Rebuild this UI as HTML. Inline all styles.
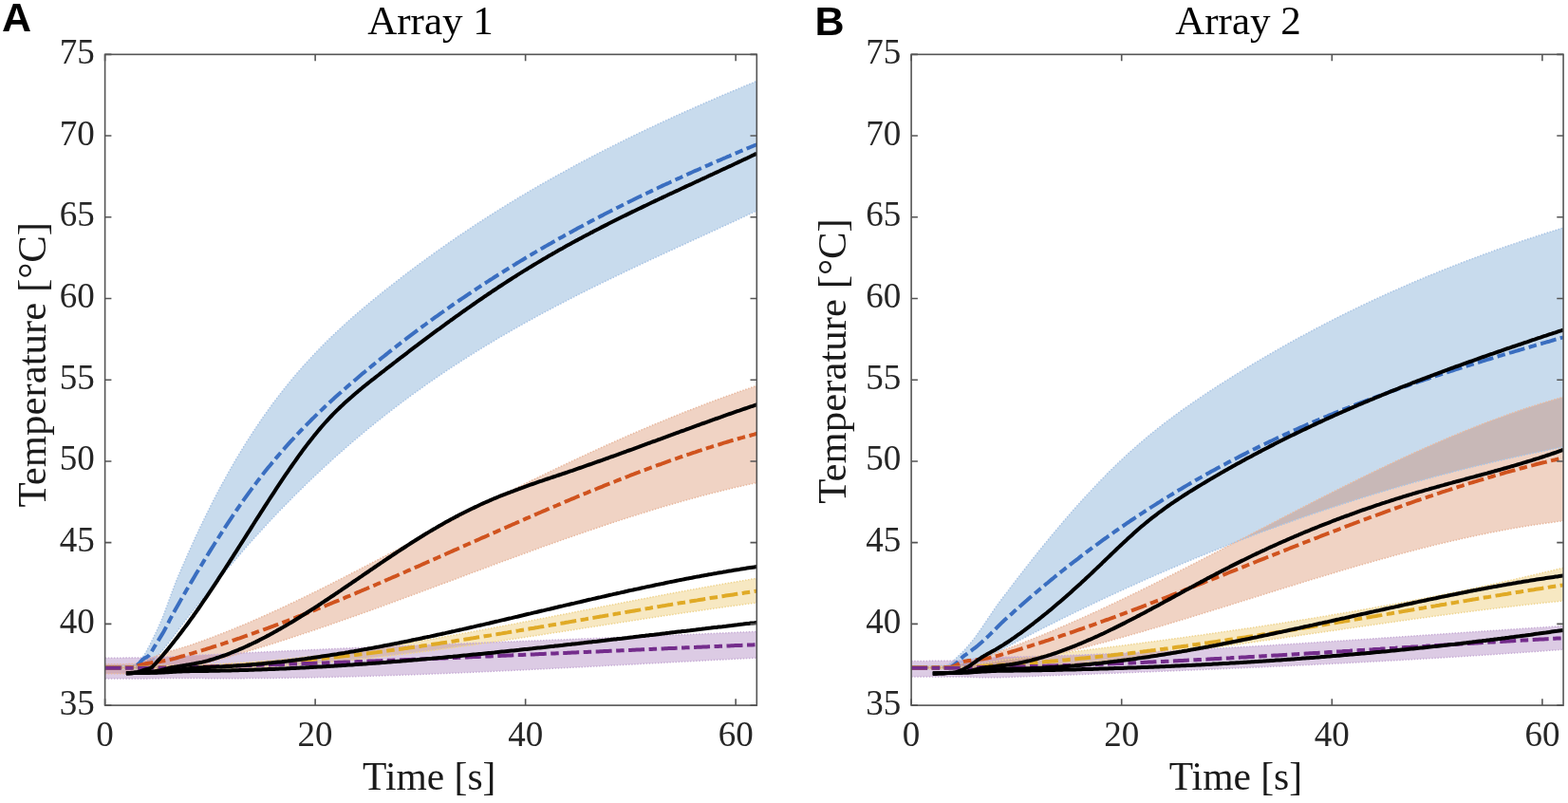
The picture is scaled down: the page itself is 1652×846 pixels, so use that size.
<!DOCTYPE html>
<html><head><meta charset="utf-8"><title>Array 1 / Array 2</title>
<style>
html,body{margin:0;padding:0;background:#fff;width:1652px;height:846px;overflow:hidden}
svg{display:block}
.tl{font-family:"Liberation Serif",serif;font-size:37px;fill:#262626}
.lab{font-family:"Liberation Serif",serif;font-size:41.5px;fill:#1a1a1a}
.ttl{font-family:"Liberation Serif",serif;font-size:43px;fill:#000}
.pl{font-family:"Liberation Sans",Arial,sans-serif;font-size:43px;font-weight:bold;fill:#000}
</style></head><body>
<svg width="1652" height="846" viewBox="0 0 1652 846">
<rect width="1652" height="846" fill="#fff"/>
<clipPath id="cA"><rect x="110.6" y="57.35" width="686.70" height="685.75"/></clipPath>
<g clip-path="url(#cA)">
<path d="M110.6,701.5L112.6,701.5L114.6,701.5L116.6,701.5L118.6,701.5L120.6,701.5L122.6,701.4L124.6,701.4L126.6,701.4L128.6,701.4L130.6,701.3L132.6,701.3L134.6,701.2L136.6,701.2L138.6,700.9L140.6,700.3L142.6,699.5L144.6,698.5L146.6,696.8L148.6,694.4L150.6,691.9L152.6,689.0L154.6,685.6L156.6,681.9L158.6,678.0L160.6,674.0L162.6,669.9L164.6,665.8L166.6,661.5L168.6,657.0L170.6,652.2L172.6,647.3L174.6,642.1L176.6,636.6L178.6,631.1L180.6,625.5L182.6,620.2L184.6,615.0L186.6,610.0L188.6,605.2L190.6,600.6L192.6,596.0L194.6,591.4L196.6,586.8L198.6,582.3L200.6,577.9L202.6,573.4L204.6,569.1L206.6,564.7L208.6,560.5L210.6,556.2L212.6,552.0L214.6,547.9L216.6,543.8L218.6,539.8L220.6,535.8L222.6,531.8L224.6,527.9L226.6,524.0L228.6,520.2L230.6,516.4L232.6,512.6L234.6,508.9L236.6,505.3L238.6,501.7L240.6,498.1L242.6,494.5L244.6,491.0L246.6,487.6L248.6,484.2L250.6,480.8L252.6,477.5L254.6,474.2L256.6,470.9L258.6,467.7L260.6,464.5L262.6,461.4L264.6,458.3L266.6,455.2L268.6,452.2L270.6,449.2L272.6,446.2L274.6,443.3L276.6,440.4L278.6,437.5L280.6,434.7L282.6,431.9L284.6,429.2L286.6,426.4L288.6,423.7L290.6,421.1L292.6,418.4L294.6,415.8L296.6,413.3L298.6,410.7L300.6,408.2L302.6,405.7L304.6,403.3L306.6,400.8L308.6,398.4L310.6,396.1L312.6,393.7L314.6,391.4L316.6,389.1L318.6,386.8L320.6,384.6L322.6,382.4L324.6,380.2L326.6,378.0L328.6,375.8L330.6,373.7L332.6,371.6L334.6,369.5L336.6,367.4L338.6,365.4L340.6,363.4L342.6,361.4L344.6,359.4L346.6,357.4L348.6,355.5L350.6,353.6L352.6,351.7L354.6,349.8L356.6,347.9L358.6,346.0L360.6,344.2L362.6,342.4L364.6,340.5L366.6,338.7L368.6,337.0L370.6,335.2L372.6,333.4L374.6,331.7L376.6,330.0L378.6,328.3L380.6,326.5L382.6,324.9L384.6,323.2L386.6,321.5L388.6,319.8L390.6,318.2L392.6,316.5L394.6,314.9L396.6,313.3L398.6,311.7L400.6,310.0L402.6,308.4L404.6,306.8L406.6,305.2L408.6,303.7L410.6,302.1L412.6,300.5L414.6,298.9L416.6,297.4L418.6,295.8L420.6,294.3L422.6,292.7L424.6,291.2L426.6,289.7L428.6,288.1L430.6,286.6L432.6,285.1L434.6,283.6L436.6,282.1L438.6,280.6L440.6,279.1L442.6,277.6L444.6,276.2L446.6,274.7L448.6,273.2L450.6,271.8L452.6,270.3L454.6,268.9L456.6,267.4L458.6,266.0L460.6,264.6L462.6,263.2L464.6,261.7L466.6,260.3L468.6,258.9L470.6,257.5L472.6,256.1L474.6,254.7L476.6,253.4L478.6,252.0L480.6,250.6L482.6,249.2L484.6,247.9L486.6,246.5L488.6,245.2L490.6,243.8L492.6,242.5L494.6,241.2L496.6,239.8L498.6,238.5L500.6,237.2L502.6,235.9L504.6,234.6L506.6,233.3L508.6,232.0L510.6,230.7L512.6,229.4L514.6,228.1L516.6,226.8L518.6,225.6L520.6,224.3L522.6,223.0L524.6,221.8L526.6,220.5L528.6,219.3L530.6,218.0L532.6,216.8L534.6,215.5L536.6,214.3L538.6,213.1L540.6,211.9L542.6,210.7L544.6,209.5L546.6,208.2L548.6,207.0L550.6,205.9L552.6,204.7L554.6,203.5L556.6,202.3L558.6,201.1L560.6,199.9L562.6,198.8L564.6,197.6L566.6,196.4L568.6,195.3L570.6,194.1L572.6,193.0L574.6,191.9L576.6,190.7L578.6,189.6L580.6,188.5L582.6,187.3L584.6,186.2L586.6,185.1L588.6,184.0L590.6,182.9L592.6,181.8L594.6,180.7L596.6,179.6L598.6,178.5L600.6,177.4L602.6,176.3L604.6,175.2L606.6,174.1L608.6,173.1L610.6,172.0L612.6,170.9L614.6,169.9L616.6,168.8L618.6,167.8L620.6,166.7L622.6,165.7L624.6,164.6L626.6,163.6L628.6,162.5L630.6,161.5L632.6,160.5L634.6,159.4L636.6,158.4L638.6,157.4L640.6,156.4L642.6,155.4L644.6,154.4L646.6,153.4L648.6,152.4L650.6,151.4L652.6,150.4L654.6,149.4L656.6,148.4L658.6,147.4L660.6,146.4L662.6,145.4L664.6,144.5L666.6,143.5L668.6,142.5L670.6,141.6L672.6,140.6L674.6,139.6L676.6,138.7L678.6,137.7L680.6,136.8L682.6,135.8L684.6,134.9L686.6,133.9L688.6,133.0L690.6,132.1L692.6,131.1L694.6,130.2L696.6,129.3L698.6,128.3L700.6,127.4L702.6,126.5L704.6,125.6L706.6,124.7L708.6,123.8L710.6,122.8L712.6,121.9L714.6,121.0L716.6,120.1L718.6,119.2L720.6,118.3L722.6,117.4L724.6,116.5L726.6,115.6L728.6,114.8L730.6,113.9L732.6,113.0L734.6,112.1L736.6,111.2L738.6,110.3L740.6,109.5L742.6,108.6L744.6,107.7L746.6,106.9L748.6,106.0L750.6,105.1L752.6,104.3L754.6,103.4L756.6,102.5L758.6,101.7L760.6,100.8L762.6,100.0L764.6,99.1L766.6,98.3L768.6,97.4L770.6,96.6L772.6,95.7L774.6,94.9L776.6,94.1L778.6,93.2L780.6,92.4L782.6,91.6L784.6,90.7L786.6,89.9L788.6,89.1L790.6,88.2L792.6,87.4L794.6,86.6L796.6,85.7L797.3,85.5L797.3,221.9L796.6,222.2L794.6,223.2L792.6,224.1L790.6,225.1L788.6,226.0L786.6,226.9L784.6,227.9L782.6,228.8L780.6,229.7L778.6,230.7L776.6,231.6L774.6,232.5L772.6,233.5L770.6,234.4L768.6,235.3L766.6,236.2L764.6,237.2L762.6,238.1L760.6,239.0L758.6,239.9L756.6,240.8L754.6,241.8L752.6,242.7L750.6,243.6L748.6,244.5L746.6,245.4L744.6,246.4L742.6,247.3L740.6,248.2L738.6,249.1L736.6,250.0L734.6,250.9L732.6,251.9L730.6,252.8L728.6,253.7L726.6,254.6L724.6,255.5L722.6,256.5L720.6,257.4L718.6,258.3L716.6,259.2L714.6,260.1L712.6,261.1L710.6,262.0L708.6,262.9L706.6,263.8L704.6,264.7L702.6,265.7L700.6,266.6L698.6,267.5L696.6,268.4L694.6,269.4L692.6,270.3L690.6,271.2L688.6,272.1L686.6,273.1L684.6,274.0L682.6,274.9L680.6,275.9L678.6,276.8L676.6,277.7L674.6,278.7L672.6,279.6L670.6,280.6L668.6,281.5L666.6,282.5L664.6,283.4L662.6,284.3L660.6,285.3L658.6,286.2L656.6,287.2L654.6,288.2L652.6,289.1L650.6,290.1L648.6,291.0L646.6,292.0L644.6,293.0L642.6,293.9L640.6,294.9L638.6,295.9L636.6,296.8L634.6,297.8L632.6,298.8L630.6,299.8L628.6,300.8L626.6,301.7L624.6,302.7L622.6,303.7L620.6,304.7L618.6,305.7L616.6,306.7L614.6,307.7L612.6,308.7L610.6,309.7L608.6,310.7L606.6,311.7L604.6,312.8L602.6,313.8L600.6,314.8L598.6,315.8L596.6,316.9L594.6,317.9L592.6,318.9L590.6,320.0L588.6,321.0L586.6,322.1L584.6,323.1L582.6,324.2L580.6,325.2L578.6,326.3L576.6,327.3L574.6,328.4L572.6,329.5L570.6,330.6L568.6,331.6L566.6,332.7L564.6,333.8L562.6,334.9L560.6,336.0L558.6,337.1L556.6,338.2L554.6,339.3L552.6,340.4L550.6,341.6L548.6,342.7L546.6,343.8L544.6,344.9L542.6,346.1L540.6,347.2L538.6,348.4L536.6,349.5L534.6,350.7L532.6,351.8L530.6,353.0L528.6,354.2L526.6,355.3L524.6,356.5L522.6,357.7L520.6,358.9L518.6,360.1L516.6,361.3L514.6,362.5L512.6,363.7L510.6,364.9L508.6,366.1L506.6,367.4L504.6,368.6L502.6,369.8L500.6,371.1L498.6,372.3L496.6,373.6L494.6,374.8L492.6,376.1L490.6,377.4L488.6,378.7L486.6,379.9L484.6,381.2L482.6,382.5L480.6,383.8L478.6,385.1L476.6,386.4L474.6,387.8L472.6,389.1L470.6,390.4L468.6,391.8L466.6,393.1L464.6,394.5L462.6,395.8L460.6,397.2L458.6,398.6L456.6,399.9L454.6,401.3L452.6,402.7L450.6,404.1L448.6,405.5L446.6,406.9L444.6,408.4L442.6,409.8L440.6,411.2L438.6,412.7L436.6,414.1L434.6,415.6L432.6,417.0L430.6,418.5L428.6,420.0L426.6,421.5L424.6,423.0L422.6,424.5L420.6,426.0L418.6,427.5L416.6,429.0L414.6,430.5L412.6,432.1L410.6,433.6L408.6,435.2L406.6,436.7L404.6,438.3L402.6,439.9L400.6,441.5L398.6,443.0L396.6,444.6L394.6,446.3L392.6,447.9L390.6,449.5L388.6,451.1L386.6,452.8L384.6,454.4L382.6,456.1L380.6,457.8L378.6,459.4L376.6,461.1L374.6,462.8L372.6,464.5L370.6,466.2L368.6,467.9L366.6,469.7L364.6,471.4L362.6,473.2L360.6,474.9L358.6,476.7L356.6,478.5L354.6,480.2L352.6,482.0L350.6,483.8L348.6,485.6L346.6,487.5L344.6,489.3L342.6,491.1L340.6,493.0L338.6,494.8L336.6,496.7L334.6,498.6L332.6,500.5L330.6,502.3L328.6,504.3L326.6,506.2L324.6,508.1L322.6,510.0L320.6,512.0L318.6,513.9L316.6,515.9L314.6,517.9L312.6,519.8L310.6,521.8L308.6,523.8L306.6,525.9L304.6,527.9L302.6,529.9L300.6,532.0L298.6,534.0L296.6,536.1L294.6,538.1L292.6,540.2L290.6,542.3L288.6,544.4L286.6,546.6L284.6,548.7L282.6,550.8L280.6,553.0L278.6,555.1L276.6,557.3L274.6,559.5L272.6,561.7L270.6,563.9L268.6,566.1L266.6,568.3L264.6,570.6L262.6,572.8L260.6,575.1L258.6,577.3L256.6,579.6L254.6,581.9L252.6,584.2L250.6,586.5L248.6,588.9L246.6,591.2L244.6,593.5L242.6,595.9L240.6,598.2L238.6,600.6L236.6,603.0L234.6,605.4L232.6,607.8L230.6,610.2L228.6,612.6L226.6,615.0L224.6,617.4L222.6,619.8L220.6,622.3L218.6,624.7L216.6,627.2L214.6,629.6L212.6,632.1L210.6,634.6L208.6,637.0L206.6,639.5L204.6,642.0L202.6,644.5L200.6,647.0L198.6,649.5L196.6,652.0L194.6,654.5L192.6,657.1L190.6,659.8L188.6,662.5L186.6,665.2L184.6,668.0L182.6,670.7L180.6,673.4L178.6,676.0L176.6,678.5L174.6,681.0L172.6,683.4L170.6,685.7L168.6,688.0L166.6,690.2L164.6,692.5L162.6,694.9L160.6,697.4L158.6,699.5L156.6,701.2L154.6,702.1L152.6,702.8L150.6,703.4L148.6,703.9L146.6,704.3L144.6,704.7L142.6,704.9L140.6,705.0L138.6,705.0L136.6,705.0L134.6,705.0L132.6,705.0L130.6,705.0L128.6,705.0L126.6,705.0L124.6,705.0L122.6,705.0L120.6,705.0L118.6,705.0L116.6,705.0L114.6,705.0L112.6,705.0L110.6,705.0Z" fill="rgb(51,122,188)" fill-opacity="0.27"/>
<path d="M110.6,699.8L112.6,699.8L114.6,699.8L116.6,699.8L118.6,699.8L120.6,699.8L122.6,699.8L124.6,699.7L126.6,699.7L128.6,699.7L130.6,699.7L132.6,699.7L134.6,699.6L136.6,699.6L138.6,699.6L140.6,699.5L142.6,699.5L144.6,699.3L146.6,698.8L148.6,698.2L150.6,697.5L152.6,696.7L154.6,695.7L156.6,694.8L158.6,693.7L160.6,692.8L162.6,691.9L164.6,691.1L166.6,690.4L168.6,689.7L170.6,689.0L172.6,688.3L174.6,687.7L176.6,687.1L178.6,686.4L180.6,685.8L182.6,685.2L184.6,684.6L186.6,684.0L188.6,683.4L190.6,682.8L192.6,682.2L194.6,681.6L196.6,681.0L198.6,680.4L200.6,679.7L202.6,679.0L204.6,678.3L206.6,677.6L208.6,676.9L210.6,676.2L212.6,675.5L214.6,674.8L216.6,674.0L218.6,673.3L220.6,672.6L222.6,671.8L224.6,671.1L226.6,670.3L228.6,669.5L230.6,668.8L232.6,668.0L234.6,667.2L236.6,666.4L238.6,665.6L240.6,664.8L242.6,664.0L244.6,663.2L246.6,662.4L248.6,661.6L250.6,660.8L252.6,660.0L254.6,659.1L256.6,658.3L258.6,657.4L260.6,656.6L262.6,655.7L264.6,654.9L266.6,654.0L268.6,653.1L270.6,652.3L272.6,651.4L274.6,650.5L276.6,649.6L278.6,648.7L280.6,647.8L282.6,646.9L284.6,646.0L286.6,645.1L288.6,644.2L290.6,643.3L292.6,642.4L294.6,641.5L296.6,640.5L298.6,639.6L300.6,638.7L302.6,637.7L304.6,636.8L306.6,635.8L308.6,634.9L310.6,633.9L312.6,633.0L314.6,632.0L316.6,631.1L318.6,630.1L320.6,629.1L322.6,628.2L324.6,627.2L326.6,626.2L328.6,625.2L330.6,624.2L332.6,623.3L334.6,622.3L336.6,621.3L338.6,620.3L340.6,619.3L342.6,618.3L344.6,617.3L346.6,616.3L348.6,615.3L350.6,614.3L352.6,613.2L354.6,612.2L356.6,611.2L358.6,610.2L360.6,609.2L362.6,608.2L364.6,607.1L366.6,606.1L368.6,605.1L370.6,604.0L372.6,603.0L374.6,602.0L376.6,601.0L378.6,599.9L380.6,598.9L382.6,597.8L384.6,596.8L386.6,595.8L388.6,594.7L390.6,593.7L392.6,592.6L394.6,591.6L396.6,590.5L398.6,589.5L400.6,588.4L402.6,587.4L404.6,586.3L406.6,585.3L408.6,584.2L410.6,583.2L412.6,582.1L414.6,581.1L416.6,580.0L418.6,579.0L420.6,577.9L422.6,576.9L424.6,575.8L426.6,574.8L428.6,573.7L430.6,572.6L432.6,571.6L434.6,570.5L436.6,569.5L438.6,568.4L440.6,567.4L442.6,566.3L444.6,565.3L446.6,564.2L448.6,563.2L450.6,562.1L452.6,561.1L454.6,560.0L456.6,559.0L458.6,557.9L460.6,556.9L462.6,555.8L464.6,554.8L466.6,553.7L468.6,552.7L470.6,551.6L472.6,550.6L474.6,549.6L476.6,548.5L478.6,547.5L480.6,546.5L482.6,545.4L484.6,544.4L486.6,543.3L488.6,542.3L490.6,541.3L492.6,540.3L494.6,539.2L496.6,538.2L498.6,537.2L500.6,536.1L502.6,535.1L504.6,534.1L506.6,533.1L508.6,532.1L510.6,531.0L512.6,530.0L514.6,529.0L516.6,528.0L518.6,527.0L520.6,526.0L522.6,525.0L524.6,523.9L526.6,522.9L528.6,521.9L530.6,520.9L532.6,519.9L534.6,518.9L536.6,517.9L538.6,516.9L540.6,515.9L542.6,514.9L544.6,513.9L546.6,512.9L548.6,512.0L550.6,511.0L552.6,510.0L554.6,509.0L556.6,508.0L558.6,507.0L560.6,506.0L562.6,505.1L564.6,504.1L566.6,503.1L568.6,502.1L570.6,501.2L572.6,500.2L574.6,499.2L576.6,498.3L578.6,497.3L580.6,496.3L582.6,495.4L584.6,494.4L586.6,493.5L588.6,492.5L590.6,491.6L592.6,490.6L594.6,489.7L596.6,488.7L598.6,487.8L600.6,486.8L602.6,485.9L604.6,484.9L606.6,484.0L608.6,483.1L610.6,482.1L612.6,481.2L614.6,480.3L616.6,479.4L618.6,478.4L620.6,477.5L622.6,476.6L624.6,475.7L626.6,474.8L628.6,473.8L630.6,472.9L632.6,472.0L634.6,471.1L636.6,470.2L638.6,469.3L640.6,468.4L642.6,467.5L644.6,466.6L646.6,465.7L648.6,464.8L650.6,464.0L652.6,463.1L654.6,462.2L656.6,461.3L658.6,460.4L660.6,459.5L662.6,458.7L664.6,457.8L666.6,456.9L668.6,456.1L670.6,455.2L672.6,454.4L674.6,453.5L676.6,452.6L678.6,451.8L680.6,450.9L682.6,450.1L684.6,449.2L686.6,448.4L688.6,447.6L690.6,446.7L692.6,445.9L694.6,445.1L696.6,444.2L698.6,443.4L700.6,442.6L702.6,441.8L704.6,440.9L706.6,440.1L708.6,439.3L710.6,438.5L712.6,437.7L714.6,436.9L716.6,436.1L718.6,435.3L720.6,434.5L722.6,433.7L724.6,432.9L726.6,432.1L728.6,431.4L730.6,430.6L732.6,429.8L734.6,429.0L736.6,428.3L738.6,427.5L740.6,426.7L742.6,426.0L744.6,425.2L746.6,424.5L748.6,423.7L750.6,423.0L752.6,422.2L754.6,421.5L756.6,420.7L758.6,420.0L760.6,419.3L762.6,418.5L764.6,417.8L766.6,417.1L768.6,416.4L770.6,415.7L772.6,414.9L774.6,414.2L776.6,413.5L778.6,412.8L780.6,412.1L782.6,411.4L784.6,410.7L786.6,410.0L788.6,409.4L790.6,408.7L792.6,408.0L794.6,407.3L796.6,406.6L797.3,406.4L797.3,508.5L796.6,508.7L794.6,509.1L792.6,509.5L790.6,510.0L788.6,510.4L786.6,510.8L784.6,511.3L782.6,511.7L780.6,512.2L778.6,512.7L776.6,513.1L774.6,513.6L772.6,514.1L770.6,514.5L768.6,515.0L766.6,515.5L764.6,516.0L762.6,516.5L760.6,517.0L758.6,517.5L756.6,518.0L754.6,518.5L752.6,519.0L750.6,519.5L748.6,520.0L746.6,520.5L744.6,521.0L742.6,521.6L740.6,522.1L738.6,522.6L736.6,523.2L734.6,523.7L732.6,524.2L730.6,524.8L728.6,525.3L726.6,525.9L724.6,526.4L722.6,527.0L720.6,527.6L718.6,528.1L716.6,528.7L714.6,529.3L712.6,529.8L710.6,530.4L708.6,531.0L706.6,531.6L704.6,532.1L702.6,532.7L700.6,533.3L698.6,533.9L696.6,534.5L694.6,535.1L692.6,535.7L690.6,536.3L688.6,536.9L686.6,537.5L684.6,538.1L682.6,538.8L680.6,539.4L678.6,540.0L676.6,540.6L674.6,541.2L672.6,541.9L670.6,542.5L668.6,543.1L666.6,543.8L664.6,544.4L662.6,545.0L660.6,545.7L658.6,546.3L656.6,547.0L654.6,547.6L652.6,548.3L650.6,548.9L648.6,549.6L646.6,550.2L644.6,550.9L642.6,551.5L640.6,552.2L638.6,552.9L636.6,553.5L634.6,554.2L632.6,554.9L630.6,555.6L628.6,556.2L626.6,556.9L624.6,557.6L622.6,558.3L620.6,558.9L618.6,559.6L616.6,560.3L614.6,561.0L612.6,561.7L610.6,562.4L608.6,563.1L606.6,563.8L604.6,564.5L602.6,565.2L600.6,565.9L598.6,566.6L596.6,567.3L594.6,568.0L592.6,568.7L590.6,569.4L588.6,570.1L586.6,570.8L584.6,571.5L582.6,572.2L580.6,572.9L578.6,573.7L576.6,574.4L574.6,575.1L572.6,575.8L570.6,576.5L568.6,577.2L566.6,578.0L564.6,578.7L562.6,579.4L560.6,580.1L558.6,580.9L556.6,581.6L554.6,582.3L552.6,583.0L550.6,583.8L548.6,584.5L546.6,585.2L544.6,586.0L542.6,586.7L540.6,587.4L538.6,588.2L536.6,588.9L534.6,589.7L532.6,590.4L530.6,591.1L528.6,591.9L526.6,592.6L524.6,593.3L522.6,594.1L520.6,594.8L518.6,595.6L516.6,596.3L514.6,597.1L512.6,597.8L510.6,598.5L508.6,599.3L506.6,600.0L504.6,600.8L502.6,601.5L500.6,602.3L498.6,603.0L496.6,603.7L494.6,604.5L492.6,605.2L490.6,606.0L488.6,606.7L486.6,607.5L484.6,608.2L482.6,609.0L480.6,609.7L478.6,610.5L476.6,611.2L474.6,612.0L472.6,612.7L470.6,613.5L468.6,614.2L466.6,614.9L464.6,615.7L462.6,616.4L460.6,617.2L458.6,617.9L456.6,618.7L454.6,619.4L452.6,620.2L450.6,620.9L448.6,621.6L446.6,622.4L444.6,623.1L442.6,623.9L440.6,624.6L438.6,625.4L436.6,626.1L434.6,626.8L432.6,627.6L430.6,628.3L428.6,629.1L426.6,629.8L424.6,630.5L422.6,631.3L420.6,632.0L418.6,632.7L416.6,633.5L414.6,634.2L412.6,634.9L410.6,635.7L408.6,636.4L406.6,637.1L404.6,637.9L402.6,638.6L400.6,639.3L398.6,640.0L396.6,640.8L394.6,641.5L392.6,642.2L390.6,642.9L388.6,643.7L386.6,644.4L384.6,645.1L382.6,645.8L380.6,646.5L378.6,647.2L376.6,648.0L374.6,648.7L372.6,649.4L370.6,650.1L368.6,650.8L366.6,651.5L364.6,652.2L362.6,652.9L360.6,653.6L358.6,654.3L356.6,655.0L354.6,655.7L352.6,656.4L350.6,657.1L348.6,657.8L346.6,658.5L344.6,659.2L342.6,659.9L340.6,660.5L338.6,661.2L336.6,661.9L334.6,662.6L332.6,663.3L330.6,664.0L328.6,664.6L326.6,665.3L324.6,666.0L322.6,666.6L320.6,667.3L318.6,668.0L316.6,668.6L314.6,669.3L312.6,670.0L310.6,670.6L308.6,671.3L306.6,671.9L304.6,672.6L302.6,673.2L300.6,673.9L298.6,674.5L296.6,675.1L294.6,675.8L292.6,676.4L290.6,677.1L288.6,677.7L286.6,678.3L284.6,678.9L282.6,679.6L280.6,680.2L278.6,680.8L276.6,681.4L274.6,682.0L272.6,682.6L270.6,683.3L268.6,683.9L266.6,684.5L264.6,685.1L262.6,685.7L260.6,686.3L258.6,686.8L256.6,687.4L254.6,688.0L252.6,688.6L250.6,689.2L248.6,689.8L246.6,690.3L244.6,690.9L242.6,691.5L240.6,692.0L238.6,692.6L236.6,693.2L234.6,693.7L232.6,694.3L230.6,694.8L228.6,695.4L226.6,695.9L224.6,696.5L222.6,697.0L220.6,697.5L218.6,698.1L216.6,698.6L214.6,699.1L212.6,699.6L210.6,700.2L208.6,700.7L206.6,701.2L204.6,701.7L202.6,702.1L200.6,702.6L198.6,703.0L196.6,703.4L194.6,703.8L192.6,704.2L190.6,704.6L188.6,705.0L186.6,705.3L184.6,705.6L182.6,705.9L180.6,706.2L178.6,706.5L176.6,706.8L174.6,707.0L172.6,707.3L170.6,707.5L168.6,707.8L166.6,708.0L164.6,708.3L162.6,708.6L160.6,708.9L158.6,709.1L156.6,709.3L154.6,709.5L152.6,709.6L150.6,709.7L148.6,709.7L146.6,709.7L144.6,709.7L142.6,709.7L140.6,709.7L138.6,709.8L136.6,709.8L134.6,709.8L132.6,709.8L130.6,709.8L128.6,709.8L126.6,709.8L124.6,709.8L122.6,709.8L120.6,709.8L118.6,709.8L116.6,709.8L114.6,709.8L112.6,709.8L110.6,709.8Z" fill="rgb(199,92,36)" fill-opacity="0.27"/>
<path d="M110.6,702.5L112.6,702.5L114.6,702.5L116.6,702.5L118.6,702.5L120.6,702.5L122.6,702.5L124.6,702.4L126.6,702.4L128.6,702.4L130.6,702.4L132.6,702.4L134.6,702.4L136.6,702.3L138.6,702.3L140.6,702.3L142.6,702.3L144.6,702.2L146.6,702.2L148.6,702.2L150.6,702.1L152.6,702.1L154.6,702.1L156.6,702.0L158.6,701.9L160.6,701.8L162.6,701.7L164.6,701.6L166.6,701.5L168.6,701.4L170.6,701.3L172.6,701.3L174.6,701.2L176.6,701.2L178.6,701.1L180.6,701.0L182.6,701.0L184.6,701.0L186.6,700.9L188.6,700.9L190.6,700.8L192.6,700.8L194.6,700.8L196.6,700.7L198.6,700.7L200.6,700.6L202.6,700.6L204.6,700.5L206.6,700.5L208.6,700.4L210.6,700.4L212.6,700.3L214.6,700.2L216.6,700.1L218.6,700.1L220.6,700.0L222.6,699.9L224.6,699.8L226.6,699.7L228.6,699.7L230.6,699.6L232.6,699.5L234.6,699.4L236.6,699.3L238.6,699.2L240.6,699.0L242.6,698.9L244.6,698.8L246.6,698.7L248.6,698.6L250.6,698.5L252.6,698.3L254.6,698.2L256.6,698.1L258.6,697.9L260.6,697.8L262.6,697.6L264.6,697.5L266.6,697.4L268.6,697.2L270.6,697.1L272.6,696.9L274.6,696.7L276.6,696.6L278.6,696.4L280.6,696.2L282.6,696.1L284.6,695.9L286.6,695.7L288.6,695.6L290.6,695.4L292.6,695.2L294.6,695.0L296.6,694.8L298.6,694.6L300.6,694.4L302.6,694.2L304.6,694.0L306.6,693.8L308.6,693.6L310.6,693.4L312.6,693.2L314.6,693.0L316.6,692.8L318.6,692.6L320.6,692.4L322.6,692.2L324.6,691.9L326.6,691.7L328.6,691.5L330.6,691.2L332.6,691.0L334.6,690.8L336.6,690.5L338.6,690.3L340.6,690.1L342.6,689.8L344.6,689.6L346.6,689.3L348.6,689.1L350.6,688.8L352.6,688.6L354.6,688.3L356.6,688.1L358.6,687.8L360.6,687.5L362.6,687.3L364.6,687.0L366.6,686.7L368.6,686.5L370.6,686.2L372.6,685.9L374.6,685.7L376.6,685.4L378.6,685.1L380.6,684.8L382.6,684.5L384.6,684.2L386.6,684.0L388.6,683.7L390.6,683.4L392.6,683.1L394.6,682.8L396.6,682.5L398.6,682.2L400.6,681.9L402.6,681.6L404.6,681.3L406.6,681.0L408.6,680.7L410.6,680.4L412.6,680.1L414.6,679.7L416.6,679.4L418.6,679.1L420.6,678.8L422.6,678.5L424.6,678.2L426.6,677.8L428.6,677.5L430.6,677.2L432.6,676.9L434.6,676.5L436.6,676.2L438.6,675.9L440.6,675.6L442.6,675.2L444.6,674.9L446.6,674.6L448.6,674.2L450.6,673.9L452.6,673.5L454.6,673.2L456.6,672.9L458.6,672.5L460.6,672.2L462.6,671.8L464.6,671.5L466.6,671.1L468.6,670.8L470.6,670.4L472.6,670.1L474.6,669.7L476.6,669.4L478.6,669.0L480.6,668.7L482.6,668.3L484.6,667.9L486.6,667.6L488.6,667.2L490.6,666.9L492.6,666.5L494.6,666.1L496.6,665.8L498.6,665.4L500.6,665.0L502.6,664.7L504.6,664.3L506.6,663.9L508.6,663.6L510.6,663.2L512.6,662.8L514.6,662.4L516.6,662.1L518.6,661.7L520.6,661.3L522.6,660.9L524.6,660.6L526.6,660.2L528.6,659.8L530.6,659.4L532.6,659.1L534.6,658.7L536.6,658.3L538.6,657.9L540.6,657.5L542.6,657.2L544.6,656.8L546.6,656.4L548.6,656.0L550.6,655.6L552.6,655.2L554.6,654.9L556.6,654.5L558.6,654.1L560.6,653.7L562.6,653.3L564.6,652.9L566.6,652.5L568.6,652.1L570.6,651.8L572.6,651.4L574.6,651.0L576.6,650.6L578.6,650.2L580.6,649.8L582.6,649.4L584.6,649.0L586.6,648.6L588.6,648.2L590.6,647.8L592.6,647.5L594.6,647.1L596.6,646.7L598.6,646.3L600.6,645.9L602.6,645.5L604.6,645.1L606.6,644.7L608.6,644.3L610.6,643.9L612.6,643.5L614.6,643.1L616.6,642.7L618.6,642.4L620.6,642.0L622.6,641.6L624.6,641.2L626.6,640.8L628.6,640.4L630.6,640.0L632.6,639.6L634.6,639.2L636.6,638.8L638.6,638.4L640.6,638.0L642.6,637.6L644.6,637.3L646.6,636.9L648.6,636.5L650.6,636.1L652.6,635.7L654.6,635.3L656.6,634.9L658.6,634.5L660.6,634.1L662.6,633.7L664.6,633.4L666.6,633.0L668.6,632.6L670.6,632.2L672.6,631.8L674.6,631.4L676.6,631.0L678.6,630.7L680.6,630.3L682.6,629.9L684.6,629.5L686.6,629.1L688.6,628.7L690.6,628.4L692.6,628.0L694.6,627.6L696.6,627.2L698.6,626.8L700.6,626.5L702.6,626.1L704.6,625.7L706.6,625.3L708.6,625.0L710.6,624.6L712.6,624.2L714.6,623.8L716.6,623.5L718.6,623.1L720.6,622.7L722.6,622.4L724.6,622.0L726.6,621.6L728.6,621.3L730.6,620.9L732.6,620.5L734.6,620.2L736.6,619.8L738.6,619.4L740.6,619.1L742.6,618.7L744.6,618.4L746.6,618.0L748.6,617.6L750.6,617.3L752.6,616.9L754.6,616.6L756.6,616.2L758.6,615.9L760.6,615.5L762.6,615.2L764.6,614.8L766.6,614.5L768.6,614.1L770.6,613.8L772.6,613.5L774.6,613.1L776.6,612.8L778.6,612.4L780.6,612.1L782.6,611.8L784.6,611.4L786.6,611.1L788.6,610.8L790.6,610.4L792.6,610.1L794.6,609.8L796.6,609.5L797.3,609.3L797.3,634.9L796.6,635.0L794.6,635.3L792.6,635.5L790.6,635.8L788.6,636.1L786.6,636.3L784.6,636.6L782.6,636.9L780.6,637.1L778.6,637.4L776.6,637.7L774.6,637.9L772.6,638.2L770.6,638.5L768.6,638.8L766.6,639.0L764.6,639.3L762.6,639.6L760.6,639.9L758.6,640.2L756.6,640.4L754.6,640.7L752.6,641.0L750.6,641.3L748.6,641.6L746.6,641.9L744.6,642.1L742.6,642.4L740.6,642.7L738.6,643.0L736.6,643.3L734.6,643.6L732.6,643.9L730.6,644.2L728.6,644.4L726.6,644.7L724.6,645.0L722.6,645.3L720.6,645.6L718.6,645.9L716.6,646.2L714.6,646.5L712.6,646.8L710.6,647.1L708.6,647.4L706.6,647.7L704.6,648.0L702.6,648.3L700.6,648.6L698.6,648.9L696.6,649.2L694.6,649.5L692.6,649.8L690.6,650.1L688.6,650.4L686.6,650.7L684.6,651.0L682.6,651.3L680.6,651.6L678.6,651.9L676.6,652.2L674.6,652.6L672.6,652.9L670.6,653.2L668.6,653.5L666.6,653.8L664.6,654.1L662.6,654.4L660.6,654.7L658.6,655.0L656.6,655.3L654.6,655.6L652.6,655.9L650.6,656.3L648.6,656.6L646.6,656.9L644.6,657.2L642.6,657.5L640.6,657.8L638.6,658.1L636.6,658.4L634.6,658.7L632.6,659.0L630.6,659.4L628.6,659.7L626.6,660.0L624.6,660.3L622.6,660.6L620.6,660.9L618.6,661.2L616.6,661.5L614.6,661.8L612.6,662.2L610.6,662.5L608.6,662.8L606.6,663.1L604.6,663.4L602.6,663.7L600.6,664.0L598.6,664.3L596.6,664.6L594.6,665.0L592.6,665.3L590.6,665.6L588.6,665.9L586.6,666.2L584.6,666.5L582.6,666.8L580.6,667.1L578.6,667.4L576.6,667.7L574.6,668.0L572.6,668.3L570.6,668.7L568.6,669.0L566.6,669.3L564.6,669.6L562.6,669.9L560.6,670.2L558.6,670.5L556.6,670.8L554.6,671.1L552.6,671.4L550.6,671.7L548.6,672.0L546.6,672.3L544.6,672.6L542.6,672.9L540.6,673.2L538.6,673.5L536.6,673.8L534.6,674.1L532.6,674.4L530.6,674.7L528.6,675.0L526.6,675.3L524.6,675.6L522.6,675.9L520.6,676.2L518.6,676.5L516.6,676.8L514.6,677.1L512.6,677.4L510.6,677.6L508.6,677.9L506.6,678.2L504.6,678.5L502.6,678.8L500.6,679.1L498.6,679.4L496.6,679.7L494.6,679.9L492.6,680.2L490.6,680.5L488.6,680.8L486.6,681.1L484.6,681.3L482.6,681.6L480.6,681.9L478.6,682.2L476.6,682.5L474.6,682.7L472.6,683.0L470.6,683.3L468.6,683.6L466.6,683.8L464.6,684.1L462.6,684.4L460.6,684.6L458.6,684.9L456.6,685.2L454.6,685.4L452.6,685.7L450.6,686.0L448.6,686.2L446.6,686.5L444.6,686.7L442.6,687.0L440.6,687.2L438.6,687.5L436.6,687.8L434.6,688.0L432.6,688.3L430.6,688.5L428.6,688.8L426.6,689.0L424.6,689.3L422.6,689.5L420.6,689.7L418.6,690.0L416.6,690.2L414.6,690.5L412.6,690.7L410.6,690.9L408.6,691.2L406.6,691.4L404.6,691.6L402.6,691.9L400.6,692.1L398.6,692.3L396.6,692.6L394.6,692.8L392.6,693.0L390.6,693.2L388.6,693.4L386.6,693.7L384.6,693.9L382.6,694.1L380.6,694.3L378.6,694.5L376.6,694.7L374.6,694.9L372.6,695.1L370.6,695.4L368.6,695.6L366.6,695.8L364.6,696.0L362.6,696.2L360.6,696.4L358.6,696.6L356.6,696.7L354.6,696.9L352.6,697.1L350.6,697.3L348.6,697.5L346.6,697.7L344.6,697.9L342.6,698.0L340.6,698.2L338.6,698.4L336.6,698.6L334.6,698.8L332.6,698.9L330.6,699.1L328.6,699.3L326.6,699.4L324.6,699.6L322.6,699.7L320.6,699.9L318.6,700.1L316.6,700.2L314.6,700.4L312.6,700.5L310.6,700.7L308.6,700.8L306.6,701.0L304.6,701.1L302.6,701.2L300.6,701.4L298.6,701.5L296.6,701.7L294.6,701.8L292.6,701.9L290.6,702.0L288.6,702.2L286.6,702.3L284.6,702.4L282.6,702.5L280.6,702.7L278.6,702.8L276.6,702.9L274.6,703.0L272.6,703.1L270.6,703.2L268.6,703.3L266.6,703.4L264.6,703.5L262.6,703.6L260.6,703.7L258.6,703.8L256.6,703.9L254.6,703.9L252.6,704.0L250.6,704.1L248.6,704.2L246.6,704.3L244.6,704.3L242.6,704.4L240.6,704.5L238.6,704.5L236.6,704.6L234.6,704.7L232.6,704.7L230.6,704.8L228.6,704.8L226.6,704.9L224.6,704.9L222.6,705.0L220.6,705.0L218.6,705.0L216.6,705.1L214.6,705.1L212.6,705.1L210.6,705.2L208.6,705.2L206.6,705.2L204.6,705.2L202.6,705.3L200.6,705.3L198.6,705.3L196.6,705.3L194.6,705.3L192.6,705.3L190.6,705.3L188.6,705.2L186.6,705.2L184.6,705.2L182.6,705.2L180.6,705.1L178.6,705.1L176.6,705.1L174.6,705.0L172.6,705.0L170.6,705.0L168.6,704.9L166.6,704.9L164.6,704.8L162.6,704.8L160.6,704.8L158.6,704.7L156.6,704.7L154.6,704.7L152.6,704.7L150.6,704.7L148.6,704.6L146.6,704.6L144.6,704.6L142.6,704.6L140.6,704.6L138.6,704.6L136.6,704.6L134.6,704.6L132.6,704.6L130.6,704.6L128.6,704.6L126.6,704.5L124.6,704.5L122.6,704.5L120.6,704.5L118.6,704.5L116.6,704.5L114.6,704.5L112.6,704.5L110.6,704.5Z" fill="rgb(225,170,29)" fill-opacity="0.27"/>
<path d="M110.6,693.2L112.6,693.2L114.6,693.2L116.6,693.2L118.6,693.2L120.6,693.2L122.6,693.2L124.6,693.2L126.6,693.2L128.6,693.2L130.6,693.1L132.6,693.1L134.6,693.1L136.6,693.1L138.6,693.1L140.6,693.1L142.6,693.1L144.6,693.1L146.6,693.0L148.6,693.0L150.6,693.0L152.6,692.9L154.6,692.9L156.6,692.8L158.6,692.8L160.6,692.7L162.6,692.7L164.6,692.6L166.6,692.5L168.6,692.5L170.6,692.4L172.6,692.3L174.6,692.2L176.6,692.1L178.6,692.0L180.6,691.9L182.6,691.8L184.6,691.7L186.6,691.6L188.6,691.5L190.6,691.4L192.6,691.3L194.6,691.2L196.6,691.1L198.6,691.0L200.6,690.9L202.6,690.8L204.6,690.6L206.6,690.5L208.6,690.4L210.6,690.3L212.6,690.2L214.6,690.1L216.6,690.0L218.6,689.9L220.6,689.8L222.6,689.7L224.6,689.6L226.6,689.5L228.6,689.4L230.6,689.3L232.6,689.2L234.6,689.1L236.6,689.0L238.6,688.9L240.6,688.8L242.6,688.7L244.6,688.6L246.6,688.5L248.6,688.4L250.6,688.3L252.6,688.2L254.6,688.1L256.6,688.0L258.6,687.9L260.6,687.8L262.6,687.7L264.6,687.6L266.6,687.5L268.6,687.4L270.6,687.3L272.6,687.2L274.6,687.1L276.6,687.0L278.6,686.9L280.6,686.8L282.6,686.7L284.6,686.7L286.6,686.6L288.6,686.5L290.6,686.4L292.6,686.3L294.6,686.2L296.6,686.1L298.6,686.0L300.6,685.9L302.6,685.8L304.6,685.7L306.6,685.6L308.6,685.5L310.6,685.4L312.6,685.4L314.6,685.3L316.6,685.2L318.6,685.1L320.6,685.0L322.6,684.9L324.6,684.8L326.6,684.7L328.6,684.6L330.6,684.5L332.6,684.5L334.6,684.4L336.6,684.3L338.6,684.2L340.6,684.1L342.6,684.0L344.6,683.9L346.6,683.8L348.6,683.8L350.6,683.7L352.6,683.6L354.6,683.5L356.6,683.4L358.6,683.3L360.6,683.2L362.6,683.1L364.6,683.1L366.6,683.0L368.6,682.9L370.6,682.8L372.6,682.7L374.6,682.6L376.6,682.5L378.6,682.5L380.6,682.4L382.6,682.3L384.6,682.2L386.6,682.1L388.6,682.0L390.6,682.0L392.6,681.9L394.6,681.8L396.6,681.7L398.6,681.6L400.6,681.5L402.6,681.5L404.6,681.4L406.6,681.3L408.6,681.2L410.6,681.1L412.6,681.0L414.6,681.0L416.6,680.9L418.6,680.8L420.6,680.7L422.6,680.6L424.6,680.6L426.6,680.5L428.6,680.4L430.6,680.3L432.6,680.2L434.6,680.1L436.6,680.1L438.6,680.0L440.6,679.9L442.6,679.8L444.6,679.7L446.6,679.7L448.6,679.6L450.6,679.5L452.6,679.4L454.6,679.3L456.6,679.3L458.6,679.2L460.6,679.1L462.6,679.0L464.6,678.9L466.6,678.9L468.6,678.8L470.6,678.7L472.6,678.6L474.6,678.5L476.6,678.5L478.6,678.4L480.6,678.3L482.6,678.2L484.6,678.1L486.6,678.1L488.6,678.0L490.6,677.9L492.6,677.8L494.6,677.8L496.6,677.7L498.6,677.6L500.6,677.5L502.6,677.4L504.6,677.4L506.6,677.3L508.6,677.2L510.6,677.1L512.6,677.1L514.6,677.0L516.6,676.9L518.6,676.8L520.6,676.7L522.6,676.7L524.6,676.6L526.6,676.5L528.6,676.4L530.6,676.3L532.6,676.3L534.6,676.2L536.6,676.1L538.6,676.0L540.6,676.0L542.6,675.9L544.6,675.8L546.6,675.7L548.6,675.6L550.6,675.6L552.6,675.5L554.6,675.4L556.6,675.3L558.6,675.3L560.6,675.2L562.6,675.1L564.6,675.0L566.6,674.9L568.6,674.9L570.6,674.8L572.6,674.7L574.6,674.6L576.6,674.6L578.6,674.5L580.6,674.4L582.6,674.3L584.6,674.2L586.6,674.2L588.6,674.1L590.6,674.0L592.6,673.9L594.6,673.9L596.6,673.8L598.6,673.7L600.6,673.6L602.6,673.5L604.6,673.5L606.6,673.4L608.6,673.3L610.6,673.2L612.6,673.1L614.6,673.1L616.6,673.0L618.6,672.9L620.6,672.8L622.6,672.8L624.6,672.7L626.6,672.6L628.6,672.5L630.6,672.4L632.6,672.4L634.6,672.3L636.6,672.2L638.6,672.1L640.6,672.0L642.6,672.0L644.6,671.9L646.6,671.8L648.6,671.7L650.6,671.6L652.6,671.6L654.6,671.5L656.6,671.4L658.6,671.3L660.6,671.2L662.6,671.2L664.6,671.1L666.6,671.0L668.6,670.9L670.6,670.8L672.6,670.7L674.6,670.7L676.6,670.6L678.6,670.5L680.6,670.4L682.6,670.3L684.6,670.3L686.6,670.2L688.6,670.1L690.6,670.0L692.6,669.9L694.6,669.8L696.6,669.8L698.6,669.7L700.6,669.6L702.6,669.5L704.6,669.4L706.6,669.3L708.6,669.3L710.6,669.2L712.6,669.1L714.6,669.0L716.6,668.9L718.6,668.8L720.6,668.8L722.6,668.7L724.6,668.6L726.6,668.5L728.6,668.4L730.6,668.3L732.6,668.2L734.6,668.2L736.6,668.1L738.6,668.0L740.6,667.9L742.6,667.8L744.6,667.7L746.6,667.6L748.6,667.6L750.6,667.5L752.6,667.4L754.6,667.3L756.6,667.2L758.6,667.1L760.6,667.0L762.6,666.9L764.6,666.9L766.6,666.8L768.6,666.7L770.6,666.6L772.6,666.5L774.6,666.4L776.6,666.3L778.6,666.2L780.6,666.1L782.6,666.0L784.6,666.0L786.6,665.9L788.6,665.8L790.6,665.7L792.6,665.6L794.6,665.5L796.6,665.4L797.3,665.4L797.3,693.1L796.6,693.1L794.6,693.2L792.6,693.3L790.6,693.4L788.6,693.5L786.6,693.6L784.6,693.7L782.6,693.8L780.6,693.9L778.6,694.0L776.6,694.1L774.6,694.2L772.6,694.3L770.6,694.4L768.6,694.5L766.6,694.6L764.6,694.7L762.6,694.8L760.6,694.9L758.6,695.0L756.6,695.1L754.6,695.2L752.6,695.3L750.6,695.4L748.6,695.5L746.6,695.6L744.6,695.8L742.6,695.9L740.6,696.0L738.6,696.1L736.6,696.2L734.6,696.3L732.6,696.4L730.6,696.5L728.6,696.6L726.6,696.7L724.6,696.8L722.6,696.9L720.6,697.0L718.6,697.1L716.6,697.2L714.6,697.3L712.6,697.4L710.6,697.5L708.6,697.6L706.6,697.7L704.6,697.9L702.6,698.0L700.6,698.1L698.6,698.2L696.6,698.3L694.6,698.4L692.6,698.5L690.6,698.6L688.6,698.7L686.6,698.8L684.6,698.9L682.6,699.0L680.6,699.1L678.6,699.2L676.6,699.3L674.6,699.4L672.6,699.5L670.6,699.7L668.6,699.8L666.6,699.9L664.6,700.0L662.6,700.1L660.6,700.2L658.6,700.3L656.6,700.4L654.6,700.5L652.6,700.6L650.6,700.7L648.6,700.8L646.6,700.9L644.6,701.0L642.6,701.1L640.6,701.2L638.6,701.3L636.6,701.4L634.6,701.5L632.6,701.7L630.6,701.8L628.6,701.9L626.6,702.0L624.6,702.1L622.6,702.2L620.6,702.3L618.6,702.4L616.6,702.5L614.6,702.6L612.6,702.7L610.6,702.8L608.6,702.9L606.6,703.0L604.6,703.1L602.6,703.2L600.6,703.3L598.6,703.4L596.6,703.5L594.6,703.6L592.6,703.7L590.6,703.8L588.6,703.9L586.6,704.0L584.6,704.1L582.6,704.2L580.6,704.3L578.6,704.4L576.6,704.5L574.6,704.6L572.6,704.7L570.6,704.8L568.6,704.9L566.6,705.0L564.6,705.1L562.6,705.2L560.6,705.3L558.6,705.4L556.6,705.5L554.6,705.6L552.6,705.7L550.6,705.8L548.6,705.9L546.6,706.0L544.6,706.1L542.6,706.2L540.6,706.3L538.6,706.4L536.6,706.5L534.6,706.5L532.6,706.6L530.6,706.7L528.6,706.8L526.6,706.9L524.6,707.0L522.6,707.1L520.6,707.2L518.6,707.3L516.6,707.4L514.6,707.5L512.6,707.6L510.6,707.6L508.6,707.7L506.6,707.8L504.6,707.9L502.6,708.0L500.6,708.1L498.6,708.2L496.6,708.3L494.6,708.4L492.6,708.4L490.6,708.5L488.6,708.6L486.6,708.7L484.6,708.8L482.6,708.9L480.6,708.9L478.6,709.0L476.6,709.1L474.6,709.2L472.6,709.3L470.6,709.4L468.6,709.4L466.6,709.5L464.6,709.6L462.6,709.7L460.6,709.8L458.6,709.8L456.6,709.9L454.6,710.0L452.6,710.1L450.6,710.2L448.6,710.2L446.6,710.3L444.6,710.4L442.6,710.5L440.6,710.5L438.6,710.6L436.6,710.7L434.6,710.7L432.6,710.8L430.6,710.9L428.6,711.0L426.6,711.0L424.6,711.1L422.6,711.2L420.6,711.2L418.6,711.3L416.6,711.4L414.6,711.4L412.6,711.5L410.6,711.6L408.6,711.6L406.6,711.7L404.6,711.8L402.6,711.8L400.6,711.9L398.6,712.0L396.6,712.0L394.6,712.1L392.6,712.2L390.6,712.2L388.6,712.3L386.6,712.3L384.6,712.4L382.6,712.4L380.6,712.5L378.6,712.6L376.6,712.6L374.6,712.7L372.6,712.7L370.6,712.8L368.6,712.8L366.6,712.9L364.6,712.9L362.6,713.0L360.6,713.0L358.6,713.1L356.6,713.1L354.6,713.2L352.6,713.2L350.6,713.3L348.6,713.3L346.6,713.4L344.6,713.4L342.6,713.5L340.6,713.5L338.6,713.6L336.6,713.6L334.6,713.6L332.6,713.7L330.6,713.7L328.6,713.8L326.6,713.8L324.6,713.8L322.6,713.9L320.6,713.9L318.6,713.9L316.6,714.0L314.6,714.0L312.6,714.0L310.6,714.1L308.6,714.1L306.6,714.1L304.6,714.2L302.6,714.2L300.6,714.2L298.6,714.3L296.6,714.3L294.6,714.3L292.6,714.3L290.6,714.4L288.6,714.4L286.6,714.4L284.6,714.4L282.6,714.5L280.6,714.5L278.6,714.5L276.6,714.5L274.6,714.5L272.6,714.5L270.6,714.6L268.6,714.6L266.6,714.6L264.6,714.6L262.6,714.6L260.6,714.6L258.6,714.6L256.6,714.7L254.6,714.7L252.6,714.7L250.6,714.7L248.6,714.7L246.6,714.7L244.6,714.7L242.6,714.7L240.6,714.7L238.6,714.7L236.6,714.7L234.6,714.7L232.6,714.7L230.6,714.7L228.6,714.7L226.6,714.7L224.6,714.7L222.6,714.7L220.6,714.7L218.6,714.7L216.6,714.7L214.6,714.6L212.6,714.6L210.6,714.6L208.6,714.6L206.6,714.6L204.6,714.6L202.6,714.6L200.6,714.6L198.6,714.5L196.6,714.5L194.6,714.5L192.6,714.5L190.6,714.5L188.6,714.5L186.6,714.5L184.6,714.5L182.6,714.5L180.6,714.5L178.6,714.5L176.6,714.5L174.6,714.5L172.6,714.6L170.6,714.6L168.6,714.6L166.6,714.7L164.6,714.7L162.6,714.7L160.6,714.8L158.6,714.8L156.6,714.9L154.6,715.0L152.6,715.0L150.6,715.0L148.6,715.0L146.6,715.0L144.6,715.0L142.6,715.0L140.6,715.0L138.6,715.0L136.6,715.0L134.6,715.0L132.6,715.0L130.6,715.0L128.6,715.0L126.6,715.0L124.6,715.0L122.6,715.0L120.6,715.0L118.6,715.0L116.6,715.0L114.6,715.0L112.6,715.0L110.6,715.0Z" fill="rgb(125,62,155)" fill-opacity="0.27"/>
<path d="M110.6,701.5L112.6,701.5L114.6,701.5L116.6,701.5L118.6,701.5L120.6,701.5L122.6,701.4L124.6,701.4L126.6,701.4L128.6,701.4L130.6,701.3L132.6,701.3L134.6,701.2L136.6,701.2L138.6,700.9L140.6,700.3L142.6,699.5L144.6,698.5L146.6,696.8L148.6,694.4L150.6,691.9L152.6,689.0L154.6,685.6L156.6,681.9L158.6,678.0L160.6,674.0L162.6,669.9L164.6,665.8L166.6,661.5L168.6,657.0L170.6,652.2L172.6,647.3L174.6,642.1L176.6,636.6L178.6,631.1L180.6,625.5L182.6,620.2L184.6,615.0L186.6,610.0L188.6,605.2L190.6,600.6L192.6,596.0L194.6,591.4L196.6,586.8L198.6,582.3L200.6,577.9L202.6,573.4L204.6,569.1L206.6,564.7L208.6,560.5L210.6,556.2L212.6,552.0L214.6,547.9L216.6,543.8L218.6,539.8L220.6,535.8L222.6,531.8L224.6,527.9L226.6,524.0L228.6,520.2L230.6,516.4L232.6,512.6L234.6,508.9L236.6,505.3L238.6,501.7L240.6,498.1L242.6,494.5L244.6,491.0L246.6,487.6L248.6,484.2L250.6,480.8L252.6,477.5L254.6,474.2L256.6,470.9L258.6,467.7L260.6,464.5L262.6,461.4L264.6,458.3L266.6,455.2L268.6,452.2L270.6,449.2L272.6,446.2L274.6,443.3L276.6,440.4L278.6,437.5L280.6,434.7L282.6,431.9L284.6,429.2L286.6,426.4L288.6,423.7L290.6,421.1L292.6,418.4L294.6,415.8L296.6,413.3L298.6,410.7L300.6,408.2L302.6,405.7L304.6,403.3L306.6,400.8L308.6,398.4L310.6,396.1L312.6,393.7L314.6,391.4L316.6,389.1L318.6,386.8L320.6,384.6L322.6,382.4L324.6,380.2L326.6,378.0L328.6,375.8L330.6,373.7L332.6,371.6L334.6,369.5L336.6,367.4L338.6,365.4L340.6,363.4L342.6,361.4L344.6,359.4L346.6,357.4L348.6,355.5L350.6,353.6L352.6,351.7L354.6,349.8L356.6,347.9L358.6,346.0L360.6,344.2L362.6,342.4L364.6,340.5L366.6,338.7L368.6,337.0L370.6,335.2L372.6,333.4L374.6,331.7L376.6,330.0L378.6,328.3L380.6,326.5L382.6,324.9L384.6,323.2L386.6,321.5L388.6,319.8L390.6,318.2L392.6,316.5L394.6,314.9L396.6,313.3L398.6,311.7L400.6,310.0L402.6,308.4L404.6,306.8L406.6,305.2L408.6,303.7L410.6,302.1L412.6,300.5L414.6,298.9L416.6,297.4L418.6,295.8L420.6,294.3L422.6,292.7L424.6,291.2L426.6,289.7L428.6,288.1L430.6,286.6L432.6,285.1L434.6,283.6L436.6,282.1L438.6,280.6L440.6,279.1L442.6,277.6L444.6,276.2L446.6,274.7L448.6,273.2L450.6,271.8L452.6,270.3L454.6,268.9L456.6,267.4L458.6,266.0L460.6,264.6L462.6,263.2L464.6,261.7L466.6,260.3L468.6,258.9L470.6,257.5L472.6,256.1L474.6,254.7L476.6,253.4L478.6,252.0L480.6,250.6L482.6,249.2L484.6,247.9L486.6,246.5L488.6,245.2L490.6,243.8L492.6,242.5L494.6,241.2L496.6,239.8L498.6,238.5L500.6,237.2L502.6,235.9L504.6,234.6L506.6,233.3L508.6,232.0L510.6,230.7L512.6,229.4L514.6,228.1L516.6,226.8L518.6,225.6L520.6,224.3L522.6,223.0L524.6,221.8L526.6,220.5L528.6,219.3L530.6,218.0L532.6,216.8L534.6,215.5L536.6,214.3L538.6,213.1L540.6,211.9L542.6,210.7L544.6,209.5L546.6,208.2L548.6,207.0L550.6,205.9L552.6,204.7L554.6,203.5L556.6,202.3L558.6,201.1L560.6,199.9L562.6,198.8L564.6,197.6L566.6,196.4L568.6,195.3L570.6,194.1L572.6,193.0L574.6,191.9L576.6,190.7L578.6,189.6L580.6,188.5L582.6,187.3L584.6,186.2L586.6,185.1L588.6,184.0L590.6,182.9L592.6,181.8L594.6,180.7L596.6,179.6L598.6,178.5L600.6,177.4L602.6,176.3L604.6,175.2L606.6,174.1L608.6,173.1L610.6,172.0L612.6,170.9L614.6,169.9L616.6,168.8L618.6,167.8L620.6,166.7L622.6,165.7L624.6,164.6L626.6,163.6L628.6,162.5L630.6,161.5L632.6,160.5L634.6,159.4L636.6,158.4L638.6,157.4L640.6,156.4L642.6,155.4L644.6,154.4L646.6,153.4L648.6,152.4L650.6,151.4L652.6,150.4L654.6,149.4L656.6,148.4L658.6,147.4L660.6,146.4L662.6,145.4L664.6,144.5L666.6,143.5L668.6,142.5L670.6,141.6L672.6,140.6L674.6,139.6L676.6,138.7L678.6,137.7L680.6,136.8L682.6,135.8L684.6,134.9L686.6,133.9L688.6,133.0L690.6,132.1L692.6,131.1L694.6,130.2L696.6,129.3L698.6,128.3L700.6,127.4L702.6,126.5L704.6,125.6L706.6,124.7L708.6,123.8L710.6,122.8L712.6,121.9L714.6,121.0L716.6,120.1L718.6,119.2L720.6,118.3L722.6,117.4L724.6,116.5L726.6,115.6L728.6,114.8L730.6,113.9L732.6,113.0L734.6,112.1L736.6,111.2L738.6,110.3L740.6,109.5L742.6,108.6L744.6,107.7L746.6,106.9L748.6,106.0L750.6,105.1L752.6,104.3L754.6,103.4L756.6,102.5L758.6,101.7L760.6,100.8L762.6,100.0L764.6,99.1L766.6,98.3L768.6,97.4L770.6,96.6L772.6,95.7L774.6,94.9L776.6,94.1L778.6,93.2L780.6,92.4L782.6,91.6L784.6,90.7L786.6,89.9L788.6,89.1L790.6,88.2L792.6,87.4L794.6,86.6L796.6,85.7L797.3,85.5" fill="none" stroke="#a9c4e4" stroke-width="1.5" stroke-dasharray="1.5 1.6"/>
<path d="M110.6,705.0L112.6,705.0L114.6,705.0L116.6,705.0L118.6,705.0L120.6,705.0L122.6,705.0L124.6,705.0L126.6,705.0L128.6,705.0L130.6,705.0L132.6,705.0L134.6,705.0L136.6,705.0L138.6,705.0L140.6,705.0L142.6,704.9L144.6,704.7L146.6,704.3L148.6,703.9L150.6,703.4L152.6,702.8L154.6,702.1L156.6,701.2L158.6,699.5L160.6,697.4L162.6,694.9L164.6,692.5L166.6,690.2L168.6,688.0L170.6,685.7L172.6,683.4L174.6,681.0L176.6,678.5L178.6,676.0L180.6,673.4L182.6,670.7L184.6,668.0L186.6,665.2L188.6,662.5L190.6,659.8L192.6,657.1L194.6,654.5L196.6,652.0L198.6,649.5L200.6,647.0L202.6,644.5L204.6,642.0L206.6,639.5L208.6,637.0L210.6,634.6L212.6,632.1L214.6,629.6L216.6,627.2L218.6,624.7L220.6,622.3L222.6,619.8L224.6,617.4L226.6,615.0L228.6,612.6L230.6,610.2L232.6,607.8L234.6,605.4L236.6,603.0L238.6,600.6L240.6,598.2L242.6,595.9L244.6,593.5L246.6,591.2L248.6,588.9L250.6,586.5L252.6,584.2L254.6,581.9L256.6,579.6L258.6,577.3L260.6,575.1L262.6,572.8L264.6,570.6L266.6,568.3L268.6,566.1L270.6,563.9L272.6,561.7L274.6,559.5L276.6,557.3L278.6,555.1L280.6,553.0L282.6,550.8L284.6,548.7L286.6,546.6L288.6,544.4L290.6,542.3L292.6,540.2L294.6,538.1L296.6,536.1L298.6,534.0L300.6,532.0L302.6,529.9L304.6,527.9L306.6,525.9L308.6,523.8L310.6,521.8L312.6,519.8L314.6,517.9L316.6,515.9L318.6,513.9L320.6,512.0L322.6,510.0L324.6,508.1L326.6,506.2L328.6,504.3L330.6,502.3L332.6,500.5L334.6,498.6L336.6,496.7L338.6,494.8L340.6,493.0L342.6,491.1L344.6,489.3L346.6,487.5L348.6,485.6L350.6,483.8L352.6,482.0L354.6,480.2L356.6,478.5L358.6,476.7L360.6,474.9L362.6,473.2L364.6,471.4L366.6,469.7L368.6,467.9L370.6,466.2L372.6,464.5L374.6,462.8L376.6,461.1L378.6,459.4L380.6,457.8L382.6,456.1L384.6,454.4L386.6,452.8L388.6,451.1L390.6,449.5L392.6,447.9L394.6,446.3L396.6,444.6L398.6,443.0L400.6,441.5L402.6,439.9L404.6,438.3L406.6,436.7L408.6,435.2L410.6,433.6L412.6,432.1L414.6,430.5L416.6,429.0L418.6,427.5L420.6,426.0L422.6,424.5L424.6,423.0L426.6,421.5L428.6,420.0L430.6,418.5L432.6,417.0L434.6,415.6L436.6,414.1L438.6,412.7L440.6,411.2L442.6,409.8L444.6,408.4L446.6,406.9L448.6,405.5L450.6,404.1L452.6,402.7L454.6,401.3L456.6,399.9L458.6,398.6L460.6,397.2L462.6,395.8L464.6,394.5L466.6,393.1L468.6,391.8L470.6,390.4L472.6,389.1L474.6,387.8L476.6,386.4L478.6,385.1L480.6,383.8L482.6,382.5L484.6,381.2L486.6,379.9L488.6,378.7L490.6,377.4L492.6,376.1L494.6,374.8L496.6,373.6L498.6,372.3L500.6,371.1L502.6,369.8L504.6,368.6L506.6,367.4L508.6,366.1L510.6,364.9L512.6,363.7L514.6,362.5L516.6,361.3L518.6,360.1L520.6,358.9L522.6,357.7L524.6,356.5L526.6,355.3L528.6,354.2L530.6,353.0L532.6,351.8L534.6,350.7L536.6,349.5L538.6,348.4L540.6,347.2L542.6,346.1L544.6,344.9L546.6,343.8L548.6,342.7L550.6,341.6L552.6,340.4L554.6,339.3L556.6,338.2L558.6,337.1L560.6,336.0L562.6,334.9L564.6,333.8L566.6,332.7L568.6,331.6L570.6,330.6L572.6,329.5L574.6,328.4L576.6,327.3L578.6,326.3L580.6,325.2L582.6,324.2L584.6,323.1L586.6,322.1L588.6,321.0L590.6,320.0L592.6,318.9L594.6,317.9L596.6,316.9L598.6,315.8L600.6,314.8L602.6,313.8L604.6,312.8L606.6,311.7L608.6,310.7L610.6,309.7L612.6,308.7L614.6,307.7L616.6,306.7L618.6,305.7L620.6,304.7L622.6,303.7L624.6,302.7L626.6,301.7L628.6,300.8L630.6,299.8L632.6,298.8L634.6,297.8L636.6,296.8L638.6,295.9L640.6,294.9L642.6,293.9L644.6,293.0L646.6,292.0L648.6,291.0L650.6,290.1L652.6,289.1L654.6,288.2L656.6,287.2L658.6,286.2L660.6,285.3L662.6,284.3L664.6,283.4L666.6,282.5L668.6,281.5L670.6,280.6L672.6,279.6L674.6,278.7L676.6,277.7L678.6,276.8L680.6,275.9L682.6,274.9L684.6,274.0L686.6,273.1L688.6,272.1L690.6,271.2L692.6,270.3L694.6,269.4L696.6,268.4L698.6,267.5L700.6,266.6L702.6,265.7L704.6,264.7L706.6,263.8L708.6,262.9L710.6,262.0L712.6,261.1L714.6,260.1L716.6,259.2L718.6,258.3L720.6,257.4L722.6,256.5L724.6,255.5L726.6,254.6L728.6,253.7L730.6,252.8L732.6,251.9L734.6,250.9L736.6,250.0L738.6,249.1L740.6,248.2L742.6,247.3L744.6,246.4L746.6,245.4L748.6,244.5L750.6,243.6L752.6,242.7L754.6,241.8L756.6,240.8L758.6,239.9L760.6,239.0L762.6,238.1L764.6,237.2L766.6,236.2L768.6,235.3L770.6,234.4L772.6,233.5L774.6,232.5L776.6,231.6L778.6,230.7L780.6,229.7L782.6,228.8L784.6,227.9L786.6,226.9L788.6,226.0L790.6,225.1L792.6,224.1L794.6,223.2L796.6,222.2L797.3,221.9" fill="none" stroke="#a9c4e4" stroke-width="1.5" stroke-dasharray="1.5 1.6"/>
<path d="M110.6,699.8L112.6,699.8L114.6,699.8L116.6,699.8L118.6,699.8L120.6,699.8L122.6,699.8L124.6,699.7L126.6,699.7L128.6,699.7L130.6,699.7L132.6,699.7L134.6,699.6L136.6,699.6L138.6,699.6L140.6,699.5L142.6,699.5L144.6,699.3L146.6,698.8L148.6,698.2L150.6,697.5L152.6,696.7L154.6,695.7L156.6,694.8L158.6,693.7L160.6,692.8L162.6,691.9L164.6,691.1L166.6,690.4L168.6,689.7L170.6,689.0L172.6,688.3L174.6,687.7L176.6,687.1L178.6,686.4L180.6,685.8L182.6,685.2L184.6,684.6L186.6,684.0L188.6,683.4L190.6,682.8L192.6,682.2L194.6,681.6L196.6,681.0L198.6,680.4L200.6,679.7L202.6,679.0L204.6,678.3L206.6,677.6L208.6,676.9L210.6,676.2L212.6,675.5L214.6,674.8L216.6,674.0L218.6,673.3L220.6,672.6L222.6,671.8L224.6,671.1L226.6,670.3L228.6,669.5L230.6,668.8L232.6,668.0L234.6,667.2L236.6,666.4L238.6,665.6L240.6,664.8L242.6,664.0L244.6,663.2L246.6,662.4L248.6,661.6L250.6,660.8L252.6,660.0L254.6,659.1L256.6,658.3L258.6,657.4L260.6,656.6L262.6,655.7L264.6,654.9L266.6,654.0L268.6,653.1L270.6,652.3L272.6,651.4L274.6,650.5L276.6,649.6L278.6,648.7L280.6,647.8L282.6,646.9L284.6,646.0L286.6,645.1L288.6,644.2L290.6,643.3L292.6,642.4L294.6,641.5L296.6,640.5L298.6,639.6L300.6,638.7L302.6,637.7L304.6,636.8L306.6,635.8L308.6,634.9L310.6,633.9L312.6,633.0L314.6,632.0L316.6,631.1L318.6,630.1L320.6,629.1L322.6,628.2L324.6,627.2L326.6,626.2L328.6,625.2L330.6,624.2L332.6,623.3L334.6,622.3L336.6,621.3L338.6,620.3L340.6,619.3L342.6,618.3L344.6,617.3L346.6,616.3L348.6,615.3L350.6,614.3L352.6,613.2L354.6,612.2L356.6,611.2L358.6,610.2L360.6,609.2L362.6,608.2L364.6,607.1L366.6,606.1L368.6,605.1L370.6,604.0L372.6,603.0L374.6,602.0L376.6,601.0L378.6,599.9L380.6,598.9L382.6,597.8L384.6,596.8L386.6,595.8L388.6,594.7L390.6,593.7L392.6,592.6L394.6,591.6L396.6,590.5L398.6,589.5L400.6,588.4L402.6,587.4L404.6,586.3L406.6,585.3L408.6,584.2L410.6,583.2L412.6,582.1L414.6,581.1L416.6,580.0L418.6,579.0L420.6,577.9L422.6,576.9L424.6,575.8L426.6,574.8L428.6,573.7L430.6,572.6L432.6,571.6L434.6,570.5L436.6,569.5L438.6,568.4L440.6,567.4L442.6,566.3L444.6,565.3L446.6,564.2L448.6,563.2L450.6,562.1L452.6,561.1L454.6,560.0L456.6,559.0L458.6,557.9L460.6,556.9L462.6,555.8L464.6,554.8L466.6,553.7L468.6,552.7L470.6,551.6L472.6,550.6L474.6,549.6L476.6,548.5L478.6,547.5L480.6,546.5L482.6,545.4L484.6,544.4L486.6,543.3L488.6,542.3L490.6,541.3L492.6,540.3L494.6,539.2L496.6,538.2L498.6,537.2L500.6,536.1L502.6,535.1L504.6,534.1L506.6,533.1L508.6,532.1L510.6,531.0L512.6,530.0L514.6,529.0L516.6,528.0L518.6,527.0L520.6,526.0L522.6,525.0L524.6,523.9L526.6,522.9L528.6,521.9L530.6,520.9L532.6,519.9L534.6,518.9L536.6,517.9L538.6,516.9L540.6,515.9L542.6,514.9L544.6,513.9L546.6,512.9L548.6,512.0L550.6,511.0L552.6,510.0L554.6,509.0L556.6,508.0L558.6,507.0L560.6,506.0L562.6,505.1L564.6,504.1L566.6,503.1L568.6,502.1L570.6,501.2L572.6,500.2L574.6,499.2L576.6,498.3L578.6,497.3L580.6,496.3L582.6,495.4L584.6,494.4L586.6,493.5L588.6,492.5L590.6,491.6L592.6,490.6L594.6,489.7L596.6,488.7L598.6,487.8L600.6,486.8L602.6,485.9L604.6,484.9L606.6,484.0L608.6,483.1L610.6,482.1L612.6,481.2L614.6,480.3L616.6,479.4L618.6,478.4L620.6,477.5L622.6,476.6L624.6,475.7L626.6,474.8L628.6,473.8L630.6,472.9L632.6,472.0L634.6,471.1L636.6,470.2L638.6,469.3L640.6,468.4L642.6,467.5L644.6,466.6L646.6,465.7L648.6,464.8L650.6,464.0L652.6,463.1L654.6,462.2L656.6,461.3L658.6,460.4L660.6,459.5L662.6,458.7L664.6,457.8L666.6,456.9L668.6,456.1L670.6,455.2L672.6,454.4L674.6,453.5L676.6,452.6L678.6,451.8L680.6,450.9L682.6,450.1L684.6,449.2L686.6,448.4L688.6,447.6L690.6,446.7L692.6,445.9L694.6,445.1L696.6,444.2L698.6,443.4L700.6,442.6L702.6,441.8L704.6,440.9L706.6,440.1L708.6,439.3L710.6,438.5L712.6,437.7L714.6,436.9L716.6,436.1L718.6,435.3L720.6,434.5L722.6,433.7L724.6,432.9L726.6,432.1L728.6,431.4L730.6,430.6L732.6,429.8L734.6,429.0L736.6,428.3L738.6,427.5L740.6,426.7L742.6,426.0L744.6,425.2L746.6,424.5L748.6,423.7L750.6,423.0L752.6,422.2L754.6,421.5L756.6,420.7L758.6,420.0L760.6,419.3L762.6,418.5L764.6,417.8L766.6,417.1L768.6,416.4L770.6,415.7L772.6,414.9L774.6,414.2L776.6,413.5L778.6,412.8L780.6,412.1L782.6,411.4L784.6,410.7L786.6,410.0L788.6,409.4L790.6,408.7L792.6,408.0L794.6,407.3L796.6,406.6L797.3,406.4" fill="none" stroke="#e8b9a0" stroke-width="1.5" stroke-dasharray="1.5 1.6"/>
<path d="M110.6,709.8L112.6,709.8L114.6,709.8L116.6,709.8L118.6,709.8L120.6,709.8L122.6,709.8L124.6,709.8L126.6,709.8L128.6,709.8L130.6,709.8L132.6,709.8L134.6,709.8L136.6,709.8L138.6,709.8L140.6,709.7L142.6,709.7L144.6,709.7L146.6,709.7L148.6,709.7L150.6,709.7L152.6,709.6L154.6,709.5L156.6,709.3L158.6,709.1L160.6,708.9L162.6,708.6L164.6,708.3L166.6,708.0L168.6,707.8L170.6,707.5L172.6,707.3L174.6,707.0L176.6,706.8L178.6,706.5L180.6,706.2L182.6,705.9L184.6,705.6L186.6,705.3L188.6,705.0L190.6,704.6L192.6,704.2L194.6,703.8L196.6,703.4L198.6,703.0L200.6,702.6L202.6,702.1L204.6,701.7L206.6,701.2L208.6,700.7L210.6,700.2L212.6,699.6L214.6,699.1L216.6,698.6L218.6,698.1L220.6,697.5L222.6,697.0L224.6,696.5L226.6,695.9L228.6,695.4L230.6,694.8L232.6,694.3L234.6,693.7L236.6,693.2L238.6,692.6L240.6,692.0L242.6,691.5L244.6,690.9L246.6,690.3L248.6,689.8L250.6,689.2L252.6,688.6L254.6,688.0L256.6,687.4L258.6,686.8L260.6,686.3L262.6,685.7L264.6,685.1L266.6,684.5L268.6,683.9L270.6,683.3L272.6,682.6L274.6,682.0L276.6,681.4L278.6,680.8L280.6,680.2L282.6,679.6L284.6,678.9L286.6,678.3L288.6,677.7L290.6,677.1L292.6,676.4L294.6,675.8L296.6,675.1L298.6,674.5L300.6,673.9L302.6,673.2L304.6,672.6L306.6,671.9L308.6,671.3L310.6,670.6L312.6,670.0L314.6,669.3L316.6,668.6L318.6,668.0L320.6,667.3L322.6,666.6L324.6,666.0L326.6,665.3L328.6,664.6L330.6,664.0L332.6,663.3L334.6,662.6L336.6,661.9L338.6,661.2L340.6,660.5L342.6,659.9L344.6,659.2L346.6,658.5L348.6,657.8L350.6,657.1L352.6,656.4L354.6,655.7L356.6,655.0L358.6,654.3L360.6,653.6L362.6,652.9L364.6,652.2L366.6,651.5L368.6,650.8L370.6,650.1L372.6,649.4L374.6,648.7L376.6,648.0L378.6,647.2L380.6,646.5L382.6,645.8L384.6,645.1L386.6,644.4L388.6,643.7L390.6,642.9L392.6,642.2L394.6,641.5L396.6,640.8L398.6,640.0L400.6,639.3L402.6,638.6L404.6,637.9L406.6,637.1L408.6,636.4L410.6,635.7L412.6,634.9L414.6,634.2L416.6,633.5L418.6,632.7L420.6,632.0L422.6,631.3L424.6,630.5L426.6,629.8L428.6,629.1L430.6,628.3L432.6,627.6L434.6,626.8L436.6,626.1L438.6,625.4L440.6,624.6L442.6,623.9L444.6,623.1L446.6,622.4L448.6,621.6L450.6,620.9L452.6,620.2L454.6,619.4L456.6,618.7L458.6,617.9L460.6,617.2L462.6,616.4L464.6,615.7L466.6,614.9L468.6,614.2L470.6,613.5L472.6,612.7L474.6,612.0L476.6,611.2L478.6,610.5L480.6,609.7L482.6,609.0L484.6,608.2L486.6,607.5L488.6,606.7L490.6,606.0L492.6,605.2L494.6,604.5L496.6,603.7L498.6,603.0L500.6,602.3L502.6,601.5L504.6,600.8L506.6,600.0L508.6,599.3L510.6,598.5L512.6,597.8L514.6,597.1L516.6,596.3L518.6,595.6L520.6,594.8L522.6,594.1L524.6,593.3L526.6,592.6L528.6,591.9L530.6,591.1L532.6,590.4L534.6,589.7L536.6,588.9L538.6,588.2L540.6,587.4L542.6,586.7L544.6,586.0L546.6,585.2L548.6,584.5L550.6,583.8L552.6,583.0L554.6,582.3L556.6,581.6L558.6,580.9L560.6,580.1L562.6,579.4L564.6,578.7L566.6,578.0L568.6,577.2L570.6,576.5L572.6,575.8L574.6,575.1L576.6,574.4L578.6,573.7L580.6,572.9L582.6,572.2L584.6,571.5L586.6,570.8L588.6,570.1L590.6,569.4L592.6,568.7L594.6,568.0L596.6,567.3L598.6,566.6L600.6,565.9L602.6,565.2L604.6,564.5L606.6,563.8L608.6,563.1L610.6,562.4L612.6,561.7L614.6,561.0L616.6,560.3L618.6,559.6L620.6,558.9L622.6,558.3L624.6,557.6L626.6,556.9L628.6,556.2L630.6,555.6L632.6,554.9L634.6,554.2L636.6,553.5L638.6,552.9L640.6,552.2L642.6,551.5L644.6,550.9L646.6,550.2L648.6,549.6L650.6,548.9L652.6,548.3L654.6,547.6L656.6,547.0L658.6,546.3L660.6,545.7L662.6,545.0L664.6,544.4L666.6,543.8L668.6,543.1L670.6,542.5L672.6,541.9L674.6,541.2L676.6,540.6L678.6,540.0L680.6,539.4L682.6,538.8L684.6,538.1L686.6,537.5L688.6,536.9L690.6,536.3L692.6,535.7L694.6,535.1L696.6,534.5L698.6,533.9L700.6,533.3L702.6,532.7L704.6,532.1L706.6,531.6L708.6,531.0L710.6,530.4L712.6,529.8L714.6,529.3L716.6,528.7L718.6,528.1L720.6,527.6L722.6,527.0L724.6,526.4L726.6,525.9L728.6,525.3L730.6,524.8L732.6,524.2L734.6,523.7L736.6,523.2L738.6,522.6L740.6,522.1L742.6,521.6L744.6,521.0L746.6,520.5L748.6,520.0L750.6,519.5L752.6,519.0L754.6,518.5L756.6,518.0L758.6,517.5L760.6,517.0L762.6,516.5L764.6,516.0L766.6,515.5L768.6,515.0L770.6,514.5L772.6,514.1L774.6,513.6L776.6,513.1L778.6,512.7L780.6,512.2L782.6,511.7L784.6,511.3L786.6,510.8L788.6,510.4L790.6,510.0L792.6,509.5L794.6,509.1L796.6,508.7L797.3,508.5" fill="none" stroke="#e8b9a0" stroke-width="1.5" stroke-dasharray="1.5 1.6"/>
<path d="M110.6,702.5L112.6,702.5L114.6,702.5L116.6,702.5L118.6,702.5L120.6,702.5L122.6,702.5L124.6,702.4L126.6,702.4L128.6,702.4L130.6,702.4L132.6,702.4L134.6,702.4L136.6,702.3L138.6,702.3L140.6,702.3L142.6,702.3L144.6,702.2L146.6,702.2L148.6,702.2L150.6,702.1L152.6,702.1L154.6,702.1L156.6,702.0L158.6,701.9L160.6,701.8L162.6,701.7L164.6,701.6L166.6,701.5L168.6,701.4L170.6,701.3L172.6,701.3L174.6,701.2L176.6,701.2L178.6,701.1L180.6,701.0L182.6,701.0L184.6,701.0L186.6,700.9L188.6,700.9L190.6,700.8L192.6,700.8L194.6,700.8L196.6,700.7L198.6,700.7L200.6,700.6L202.6,700.6L204.6,700.5L206.6,700.5L208.6,700.4L210.6,700.4L212.6,700.3L214.6,700.2L216.6,700.1L218.6,700.1L220.6,700.0L222.6,699.9L224.6,699.8L226.6,699.7L228.6,699.7L230.6,699.6L232.6,699.5L234.6,699.4L236.6,699.3L238.6,699.2L240.6,699.0L242.6,698.9L244.6,698.8L246.6,698.7L248.6,698.6L250.6,698.5L252.6,698.3L254.6,698.2L256.6,698.1L258.6,697.9L260.6,697.8L262.6,697.6L264.6,697.5L266.6,697.4L268.6,697.2L270.6,697.1L272.6,696.9L274.6,696.7L276.6,696.6L278.6,696.4L280.6,696.2L282.6,696.1L284.6,695.9L286.6,695.7L288.6,695.6L290.6,695.4L292.6,695.2L294.6,695.0L296.6,694.8L298.6,694.6L300.6,694.4L302.6,694.2L304.6,694.0L306.6,693.8L308.6,693.6L310.6,693.4L312.6,693.2L314.6,693.0L316.6,692.8L318.6,692.6L320.6,692.4L322.6,692.2L324.6,691.9L326.6,691.7L328.6,691.5L330.6,691.2L332.6,691.0L334.6,690.8L336.6,690.5L338.6,690.3L340.6,690.1L342.6,689.8L344.6,689.6L346.6,689.3L348.6,689.1L350.6,688.8L352.6,688.6L354.6,688.3L356.6,688.1L358.6,687.8L360.6,687.5L362.6,687.3L364.6,687.0L366.6,686.7L368.6,686.5L370.6,686.2L372.6,685.9L374.6,685.7L376.6,685.4L378.6,685.1L380.6,684.8L382.6,684.5L384.6,684.2L386.6,684.0L388.6,683.7L390.6,683.4L392.6,683.1L394.6,682.8L396.6,682.5L398.6,682.2L400.6,681.9L402.6,681.6L404.6,681.3L406.6,681.0L408.6,680.7L410.6,680.4L412.6,680.1L414.6,679.7L416.6,679.4L418.6,679.1L420.6,678.8L422.6,678.5L424.6,678.2L426.6,677.8L428.6,677.5L430.6,677.2L432.6,676.9L434.6,676.5L436.6,676.2L438.6,675.9L440.6,675.6L442.6,675.2L444.6,674.9L446.6,674.6L448.6,674.2L450.6,673.9L452.6,673.5L454.6,673.2L456.6,672.9L458.6,672.5L460.6,672.2L462.6,671.8L464.6,671.5L466.6,671.1L468.6,670.8L470.6,670.4L472.6,670.1L474.6,669.7L476.6,669.4L478.6,669.0L480.6,668.7L482.6,668.3L484.6,667.9L486.6,667.6L488.6,667.2L490.6,666.9L492.6,666.5L494.6,666.1L496.6,665.8L498.6,665.4L500.6,665.0L502.6,664.7L504.6,664.3L506.6,663.9L508.6,663.6L510.6,663.2L512.6,662.8L514.6,662.4L516.6,662.1L518.6,661.7L520.6,661.3L522.6,660.9L524.6,660.6L526.6,660.2L528.6,659.8L530.6,659.4L532.6,659.1L534.6,658.7L536.6,658.3L538.6,657.9L540.6,657.5L542.6,657.2L544.6,656.8L546.6,656.4L548.6,656.0L550.6,655.6L552.6,655.2L554.6,654.9L556.6,654.5L558.6,654.1L560.6,653.7L562.6,653.3L564.6,652.9L566.6,652.5L568.6,652.1L570.6,651.8L572.6,651.4L574.6,651.0L576.6,650.6L578.6,650.2L580.6,649.8L582.6,649.4L584.6,649.0L586.6,648.6L588.6,648.2L590.6,647.8L592.6,647.5L594.6,647.1L596.6,646.7L598.6,646.3L600.6,645.9L602.6,645.5L604.6,645.1L606.6,644.7L608.6,644.3L610.6,643.9L612.6,643.5L614.6,643.1L616.6,642.7L618.6,642.4L620.6,642.0L622.6,641.6L624.6,641.2L626.6,640.8L628.6,640.4L630.6,640.0L632.6,639.6L634.6,639.2L636.6,638.8L638.6,638.4L640.6,638.0L642.6,637.6L644.6,637.3L646.6,636.9L648.6,636.5L650.6,636.1L652.6,635.7L654.6,635.3L656.6,634.9L658.6,634.5L660.6,634.1L662.6,633.7L664.6,633.4L666.6,633.0L668.6,632.6L670.6,632.2L672.6,631.8L674.6,631.4L676.6,631.0L678.6,630.7L680.6,630.3L682.6,629.9L684.6,629.5L686.6,629.1L688.6,628.7L690.6,628.4L692.6,628.0L694.6,627.6L696.6,627.2L698.6,626.8L700.6,626.5L702.6,626.1L704.6,625.7L706.6,625.3L708.6,625.0L710.6,624.6L712.6,624.2L714.6,623.8L716.6,623.5L718.6,623.1L720.6,622.7L722.6,622.4L724.6,622.0L726.6,621.6L728.6,621.3L730.6,620.9L732.6,620.5L734.6,620.2L736.6,619.8L738.6,619.4L740.6,619.1L742.6,618.7L744.6,618.4L746.6,618.0L748.6,617.6L750.6,617.3L752.6,616.9L754.6,616.6L756.6,616.2L758.6,615.9L760.6,615.5L762.6,615.2L764.6,614.8L766.6,614.5L768.6,614.1L770.6,613.8L772.6,613.5L774.6,613.1L776.6,612.8L778.6,612.4L780.6,612.1L782.6,611.8L784.6,611.4L786.6,611.1L788.6,610.8L790.6,610.4L792.6,610.1L794.6,609.8L796.6,609.5L797.3,609.3" fill="none" stroke="#efd591" stroke-width="1.5" stroke-dasharray="1.5 1.6"/>
<path d="M110.6,704.5L112.6,704.5L114.6,704.5L116.6,704.5L118.6,704.5L120.6,704.5L122.6,704.5L124.6,704.5L126.6,704.5L128.6,704.6L130.6,704.6L132.6,704.6L134.6,704.6L136.6,704.6L138.6,704.6L140.6,704.6L142.6,704.6L144.6,704.6L146.6,704.6L148.6,704.6L150.6,704.7L152.6,704.7L154.6,704.7L156.6,704.7L158.6,704.7L160.6,704.8L162.6,704.8L164.6,704.8L166.6,704.9L168.6,704.9L170.6,705.0L172.6,705.0L174.6,705.0L176.6,705.1L178.6,705.1L180.6,705.1L182.6,705.2L184.6,705.2L186.6,705.2L188.6,705.2L190.6,705.3L192.6,705.3L194.6,705.3L196.6,705.3L198.6,705.3L200.6,705.3L202.6,705.3L204.6,705.2L206.6,705.2L208.6,705.2L210.6,705.2L212.6,705.1L214.6,705.1L216.6,705.1L218.6,705.0L220.6,705.0L222.6,705.0L224.6,704.9L226.6,704.9L228.6,704.8L230.6,704.8L232.6,704.7L234.6,704.7L236.6,704.6L238.6,704.5L240.6,704.5L242.6,704.4L244.6,704.3L246.6,704.3L248.6,704.2L250.6,704.1L252.6,704.0L254.6,703.9L256.6,703.9L258.6,703.8L260.6,703.7L262.6,703.6L264.6,703.5L266.6,703.4L268.6,703.3L270.6,703.2L272.6,703.1L274.6,703.0L276.6,702.9L278.6,702.8L280.6,702.7L282.6,702.5L284.6,702.4L286.6,702.3L288.6,702.2L290.6,702.0L292.6,701.9L294.6,701.8L296.6,701.7L298.6,701.5L300.6,701.4L302.6,701.2L304.6,701.1L306.6,701.0L308.6,700.8L310.6,700.7L312.6,700.5L314.6,700.4L316.6,700.2L318.6,700.1L320.6,699.9L322.6,699.7L324.6,699.6L326.6,699.4L328.6,699.3L330.6,699.1L332.6,698.9L334.6,698.8L336.6,698.6L338.6,698.4L340.6,698.2L342.6,698.0L344.6,697.9L346.6,697.7L348.6,697.5L350.6,697.3L352.6,697.1L354.6,696.9L356.6,696.7L358.6,696.6L360.6,696.4L362.6,696.2L364.6,696.0L366.6,695.8L368.6,695.6L370.6,695.4L372.6,695.1L374.6,694.9L376.6,694.7L378.6,694.5L380.6,694.3L382.6,694.1L384.6,693.9L386.6,693.7L388.6,693.4L390.6,693.2L392.6,693.0L394.6,692.8L396.6,692.6L398.6,692.3L400.6,692.1L402.6,691.9L404.6,691.6L406.6,691.4L408.6,691.2L410.6,690.9L412.6,690.7L414.6,690.5L416.6,690.2L418.6,690.0L420.6,689.7L422.6,689.5L424.6,689.3L426.6,689.0L428.6,688.8L430.6,688.5L432.6,688.3L434.6,688.0L436.6,687.8L438.6,687.5L440.6,687.2L442.6,687.0L444.6,686.7L446.6,686.5L448.6,686.2L450.6,686.0L452.6,685.7L454.6,685.4L456.6,685.2L458.6,684.9L460.6,684.6L462.6,684.4L464.6,684.1L466.6,683.8L468.6,683.6L470.6,683.3L472.6,683.0L474.6,682.7L476.6,682.5L478.6,682.2L480.6,681.9L482.6,681.6L484.6,681.3L486.6,681.1L488.6,680.8L490.6,680.5L492.6,680.2L494.6,679.9L496.6,679.7L498.6,679.4L500.6,679.1L502.6,678.8L504.6,678.5L506.6,678.2L508.6,677.9L510.6,677.6L512.6,677.4L514.6,677.1L516.6,676.8L518.6,676.5L520.6,676.2L522.6,675.9L524.6,675.6L526.6,675.3L528.6,675.0L530.6,674.7L532.6,674.4L534.6,674.1L536.6,673.8L538.6,673.5L540.6,673.2L542.6,672.9L544.6,672.6L546.6,672.3L548.6,672.0L550.6,671.7L552.6,671.4L554.6,671.1L556.6,670.8L558.6,670.5L560.6,670.2L562.6,669.9L564.6,669.6L566.6,669.3L568.6,669.0L570.6,668.7L572.6,668.3L574.6,668.0L576.6,667.7L578.6,667.4L580.6,667.1L582.6,666.8L584.6,666.5L586.6,666.2L588.6,665.9L590.6,665.6L592.6,665.3L594.6,665.0L596.6,664.6L598.6,664.3L600.6,664.0L602.6,663.7L604.6,663.4L606.6,663.1L608.6,662.8L610.6,662.5L612.6,662.2L614.6,661.8L616.6,661.5L618.6,661.2L620.6,660.9L622.6,660.6L624.6,660.3L626.6,660.0L628.6,659.7L630.6,659.4L632.6,659.0L634.6,658.7L636.6,658.4L638.6,658.1L640.6,657.8L642.6,657.5L644.6,657.2L646.6,656.9L648.6,656.6L650.6,656.3L652.6,655.9L654.6,655.6L656.6,655.3L658.6,655.0L660.6,654.7L662.6,654.4L664.6,654.1L666.6,653.8L668.6,653.5L670.6,653.2L672.6,652.9L674.6,652.6L676.6,652.2L678.6,651.9L680.6,651.6L682.6,651.3L684.6,651.0L686.6,650.7L688.6,650.4L690.6,650.1L692.6,649.8L694.6,649.5L696.6,649.2L698.6,648.9L700.6,648.6L702.6,648.3L704.6,648.0L706.6,647.7L708.6,647.4L710.6,647.1L712.6,646.8L714.6,646.5L716.6,646.2L718.6,645.9L720.6,645.6L722.6,645.3L724.6,645.0L726.6,644.7L728.6,644.4L730.6,644.2L732.6,643.9L734.6,643.6L736.6,643.3L738.6,643.0L740.6,642.7L742.6,642.4L744.6,642.1L746.6,641.9L748.6,641.6L750.6,641.3L752.6,641.0L754.6,640.7L756.6,640.4L758.6,640.2L760.6,639.9L762.6,639.6L764.6,639.3L766.6,639.0L768.6,638.8L770.6,638.5L772.6,638.2L774.6,637.9L776.6,637.7L778.6,637.4L780.6,637.1L782.6,636.9L784.6,636.6L786.6,636.3L788.6,636.1L790.6,635.8L792.6,635.5L794.6,635.3L796.6,635.0L797.3,634.9" fill="none" stroke="#efd591" stroke-width="1.5" stroke-dasharray="1.5 1.6"/>
<path d="M110.6,693.2L112.6,693.2L114.6,693.2L116.6,693.2L118.6,693.2L120.6,693.2L122.6,693.2L124.6,693.2L126.6,693.2L128.6,693.2L130.6,693.1L132.6,693.1L134.6,693.1L136.6,693.1L138.6,693.1L140.6,693.1L142.6,693.1L144.6,693.1L146.6,693.0L148.6,693.0L150.6,693.0L152.6,692.9L154.6,692.9L156.6,692.8L158.6,692.8L160.6,692.7L162.6,692.7L164.6,692.6L166.6,692.5L168.6,692.5L170.6,692.4L172.6,692.3L174.6,692.2L176.6,692.1L178.6,692.0L180.6,691.9L182.6,691.8L184.6,691.7L186.6,691.6L188.6,691.5L190.6,691.4L192.6,691.3L194.6,691.2L196.6,691.1L198.6,691.0L200.6,690.9L202.6,690.8L204.6,690.6L206.6,690.5L208.6,690.4L210.6,690.3L212.6,690.2L214.6,690.1L216.6,690.0L218.6,689.9L220.6,689.8L222.6,689.7L224.6,689.6L226.6,689.5L228.6,689.4L230.6,689.3L232.6,689.2L234.6,689.1L236.6,689.0L238.6,688.9L240.6,688.8L242.6,688.7L244.6,688.6L246.6,688.5L248.6,688.4L250.6,688.3L252.6,688.2L254.6,688.1L256.6,688.0L258.6,687.9L260.6,687.8L262.6,687.7L264.6,687.6L266.6,687.5L268.6,687.4L270.6,687.3L272.6,687.2L274.6,687.1L276.6,687.0L278.6,686.9L280.6,686.8L282.6,686.7L284.6,686.7L286.6,686.6L288.6,686.5L290.6,686.4L292.6,686.3L294.6,686.2L296.6,686.1L298.6,686.0L300.6,685.9L302.6,685.8L304.6,685.7L306.6,685.6L308.6,685.5L310.6,685.4L312.6,685.4L314.6,685.3L316.6,685.2L318.6,685.1L320.6,685.0L322.6,684.9L324.6,684.8L326.6,684.7L328.6,684.6L330.6,684.5L332.6,684.5L334.6,684.4L336.6,684.3L338.6,684.2L340.6,684.1L342.6,684.0L344.6,683.9L346.6,683.8L348.6,683.8L350.6,683.7L352.6,683.6L354.6,683.5L356.6,683.4L358.6,683.3L360.6,683.2L362.6,683.1L364.6,683.1L366.6,683.0L368.6,682.9L370.6,682.8L372.6,682.7L374.6,682.6L376.6,682.5L378.6,682.5L380.6,682.4L382.6,682.3L384.6,682.2L386.6,682.1L388.6,682.0L390.6,682.0L392.6,681.9L394.6,681.8L396.6,681.7L398.6,681.6L400.6,681.5L402.6,681.5L404.6,681.4L406.6,681.3L408.6,681.2L410.6,681.1L412.6,681.0L414.6,681.0L416.6,680.9L418.6,680.8L420.6,680.7L422.6,680.6L424.6,680.6L426.6,680.5L428.6,680.4L430.6,680.3L432.6,680.2L434.6,680.1L436.6,680.1L438.6,680.0L440.6,679.9L442.6,679.8L444.6,679.7L446.6,679.7L448.6,679.6L450.6,679.5L452.6,679.4L454.6,679.3L456.6,679.3L458.6,679.2L460.6,679.1L462.6,679.0L464.6,678.9L466.6,678.9L468.6,678.8L470.6,678.7L472.6,678.6L474.6,678.5L476.6,678.5L478.6,678.4L480.6,678.3L482.6,678.2L484.6,678.1L486.6,678.1L488.6,678.0L490.6,677.9L492.6,677.8L494.6,677.8L496.6,677.7L498.6,677.6L500.6,677.5L502.6,677.4L504.6,677.4L506.6,677.3L508.6,677.2L510.6,677.1L512.6,677.1L514.6,677.0L516.6,676.9L518.6,676.8L520.6,676.7L522.6,676.7L524.6,676.6L526.6,676.5L528.6,676.4L530.6,676.3L532.6,676.3L534.6,676.2L536.6,676.1L538.6,676.0L540.6,676.0L542.6,675.9L544.6,675.8L546.6,675.7L548.6,675.6L550.6,675.6L552.6,675.5L554.6,675.4L556.6,675.3L558.6,675.3L560.6,675.2L562.6,675.1L564.6,675.0L566.6,674.9L568.6,674.9L570.6,674.8L572.6,674.7L574.6,674.6L576.6,674.6L578.6,674.5L580.6,674.4L582.6,674.3L584.6,674.2L586.6,674.2L588.6,674.1L590.6,674.0L592.6,673.9L594.6,673.9L596.6,673.8L598.6,673.7L600.6,673.6L602.6,673.5L604.6,673.5L606.6,673.4L608.6,673.3L610.6,673.2L612.6,673.1L614.6,673.1L616.6,673.0L618.6,672.9L620.6,672.8L622.6,672.8L624.6,672.7L626.6,672.6L628.6,672.5L630.6,672.4L632.6,672.4L634.6,672.3L636.6,672.2L638.6,672.1L640.6,672.0L642.6,672.0L644.6,671.9L646.6,671.8L648.6,671.7L650.6,671.6L652.6,671.6L654.6,671.5L656.6,671.4L658.6,671.3L660.6,671.2L662.6,671.2L664.6,671.1L666.6,671.0L668.6,670.9L670.6,670.8L672.6,670.7L674.6,670.7L676.6,670.6L678.6,670.5L680.6,670.4L682.6,670.3L684.6,670.3L686.6,670.2L688.6,670.1L690.6,670.0L692.6,669.9L694.6,669.8L696.6,669.8L698.6,669.7L700.6,669.6L702.6,669.5L704.6,669.4L706.6,669.3L708.6,669.3L710.6,669.2L712.6,669.1L714.6,669.0L716.6,668.9L718.6,668.8L720.6,668.8L722.6,668.7L724.6,668.6L726.6,668.5L728.6,668.4L730.6,668.3L732.6,668.2L734.6,668.2L736.6,668.1L738.6,668.0L740.6,667.9L742.6,667.8L744.6,667.7L746.6,667.6L748.6,667.6L750.6,667.5L752.6,667.4L754.6,667.3L756.6,667.2L758.6,667.1L760.6,667.0L762.6,666.9L764.6,666.9L766.6,666.8L768.6,666.7L770.6,666.6L772.6,666.5L774.6,666.4L776.6,666.3L778.6,666.2L780.6,666.1L782.6,666.0L784.6,666.0L786.6,665.9L788.6,665.8L790.6,665.7L792.6,665.6L794.6,665.5L796.6,665.4L797.3,665.4" fill="none" stroke="#c8aed6" stroke-width="1.5" stroke-dasharray="1.5 1.6"/>
<path d="M110.6,715.0L112.6,715.0L114.6,715.0L116.6,715.0L118.6,715.0L120.6,715.0L122.6,715.0L124.6,715.0L126.6,715.0L128.6,715.0L130.6,715.0L132.6,715.0L134.6,715.0L136.6,715.0L138.6,715.0L140.6,715.0L142.6,715.0L144.6,715.0L146.6,715.0L148.6,715.0L150.6,715.0L152.6,715.0L154.6,715.0L156.6,714.9L158.6,714.8L160.6,714.8L162.6,714.7L164.6,714.7L166.6,714.7L168.6,714.6L170.6,714.6L172.6,714.6L174.6,714.5L176.6,714.5L178.6,714.5L180.6,714.5L182.6,714.5L184.6,714.5L186.6,714.5L188.6,714.5L190.6,714.5L192.6,714.5L194.6,714.5L196.6,714.5L198.6,714.5L200.6,714.6L202.6,714.6L204.6,714.6L206.6,714.6L208.6,714.6L210.6,714.6L212.6,714.6L214.6,714.6L216.6,714.7L218.6,714.7L220.6,714.7L222.6,714.7L224.6,714.7L226.6,714.7L228.6,714.7L230.6,714.7L232.6,714.7L234.6,714.7L236.6,714.7L238.6,714.7L240.6,714.7L242.6,714.7L244.6,714.7L246.6,714.7L248.6,714.7L250.6,714.7L252.6,714.7L254.6,714.7L256.6,714.7L258.6,714.6L260.6,714.6L262.6,714.6L264.6,714.6L266.6,714.6L268.6,714.6L270.6,714.6L272.6,714.5L274.6,714.5L276.6,714.5L278.6,714.5L280.6,714.5L282.6,714.5L284.6,714.4L286.6,714.4L288.6,714.4L290.6,714.4L292.6,714.3L294.6,714.3L296.6,714.3L298.6,714.3L300.6,714.2L302.6,714.2L304.6,714.2L306.6,714.1L308.6,714.1L310.6,714.1L312.6,714.0L314.6,714.0L316.6,714.0L318.6,713.9L320.6,713.9L322.6,713.9L324.6,713.8L326.6,713.8L328.6,713.8L330.6,713.7L332.6,713.7L334.6,713.6L336.6,713.6L338.6,713.6L340.6,713.5L342.6,713.5L344.6,713.4L346.6,713.4L348.6,713.3L350.6,713.3L352.6,713.2L354.6,713.2L356.6,713.1L358.6,713.1L360.6,713.0L362.6,713.0L364.6,712.9L366.6,712.9L368.6,712.8L370.6,712.8L372.6,712.7L374.6,712.7L376.6,712.6L378.6,712.6L380.6,712.5L382.6,712.4L384.6,712.4L386.6,712.3L388.6,712.3L390.6,712.2L392.6,712.2L394.6,712.1L396.6,712.0L398.6,712.0L400.6,711.9L402.6,711.8L404.6,711.8L406.6,711.7L408.6,711.6L410.6,711.6L412.6,711.5L414.6,711.4L416.6,711.4L418.6,711.3L420.6,711.2L422.6,711.2L424.6,711.1L426.6,711.0L428.6,711.0L430.6,710.9L432.6,710.8L434.6,710.7L436.6,710.7L438.6,710.6L440.6,710.5L442.6,710.5L444.6,710.4L446.6,710.3L448.6,710.2L450.6,710.2L452.6,710.1L454.6,710.0L456.6,709.9L458.6,709.8L460.6,709.8L462.6,709.7L464.6,709.6L466.6,709.5L468.6,709.4L470.6,709.4L472.6,709.3L474.6,709.2L476.6,709.1L478.6,709.0L480.6,708.9L482.6,708.9L484.6,708.8L486.6,708.7L488.6,708.6L490.6,708.5L492.6,708.4L494.6,708.4L496.6,708.3L498.6,708.2L500.6,708.1L502.6,708.0L504.6,707.9L506.6,707.8L508.6,707.7L510.6,707.6L512.6,707.6L514.6,707.5L516.6,707.4L518.6,707.3L520.6,707.2L522.6,707.1L524.6,707.0L526.6,706.9L528.6,706.8L530.6,706.7L532.6,706.6L534.6,706.5L536.6,706.5L538.6,706.4L540.6,706.3L542.6,706.2L544.6,706.1L546.6,706.0L548.6,705.9L550.6,705.8L552.6,705.7L554.6,705.6L556.6,705.5L558.6,705.4L560.6,705.3L562.6,705.2L564.6,705.1L566.6,705.0L568.6,704.9L570.6,704.8L572.6,704.7L574.6,704.6L576.6,704.5L578.6,704.4L580.6,704.3L582.6,704.2L584.6,704.1L586.6,704.0L588.6,703.9L590.6,703.8L592.6,703.7L594.6,703.6L596.6,703.5L598.6,703.4L600.6,703.3L602.6,703.2L604.6,703.1L606.6,703.0L608.6,702.9L610.6,702.8L612.6,702.7L614.6,702.6L616.6,702.5L618.6,702.4L620.6,702.3L622.6,702.2L624.6,702.1L626.6,702.0L628.6,701.9L630.6,701.8L632.6,701.7L634.6,701.5L636.6,701.4L638.6,701.3L640.6,701.2L642.6,701.1L644.6,701.0L646.6,700.9L648.6,700.8L650.6,700.7L652.6,700.6L654.6,700.5L656.6,700.4L658.6,700.3L660.6,700.2L662.6,700.1L664.6,700.0L666.6,699.9L668.6,699.8L670.6,699.7L672.6,699.5L674.6,699.4L676.6,699.3L678.6,699.2L680.6,699.1L682.6,699.0L684.6,698.9L686.6,698.8L688.6,698.7L690.6,698.6L692.6,698.5L694.6,698.4L696.6,698.3L698.6,698.2L700.6,698.1L702.6,698.0L704.6,697.9L706.6,697.7L708.6,697.6L710.6,697.5L712.6,697.4L714.6,697.3L716.6,697.2L718.6,697.1L720.6,697.0L722.6,696.9L724.6,696.8L726.6,696.7L728.6,696.6L730.6,696.5L732.6,696.4L734.6,696.3L736.6,696.2L738.6,696.1L740.6,696.0L742.6,695.9L744.6,695.8L746.6,695.6L748.6,695.5L750.6,695.4L752.6,695.3L754.6,695.2L756.6,695.1L758.6,695.0L760.6,694.9L762.6,694.8L764.6,694.7L766.6,694.6L768.6,694.5L770.6,694.4L772.6,694.3L774.6,694.2L776.6,694.1L778.6,694.0L780.6,693.9L782.6,693.8L784.6,693.7L786.6,693.6L788.6,693.5L790.6,693.4L792.6,693.3L794.6,693.2L796.6,693.1L797.3,693.1" fill="none" stroke="#c8aed6" stroke-width="1.5" stroke-dasharray="1.5 1.6"/>
<path d="M110.6,703.5L112.6,703.5L114.6,703.5L116.6,703.5L118.6,703.5L120.6,703.5L122.6,703.5L124.6,703.5L126.6,703.4L128.6,703.4L130.6,703.4L132.6,703.4L134.6,703.3L136.6,703.3L138.6,703.2L140.6,703.1L142.6,702.2L144.6,700.6L146.6,699.0L148.6,696.7L150.6,694.6L152.6,693.2L154.6,692.3L156.6,690.9L158.6,688.3L160.6,685.0L162.6,681.6L164.6,678.3L166.6,675.1L168.6,671.9L170.6,668.6L172.6,665.2L174.6,661.5L176.6,657.7L178.6,653.7L180.6,649.9L182.6,646.1L184.6,642.5L186.6,639.0L188.6,635.5L190.6,631.9L192.6,628.4L194.6,624.9L196.6,621.5L198.6,618.1L200.6,614.7L202.6,611.4L204.6,608.0L206.6,604.6L208.6,601.3L210.6,598.0L212.6,594.7L214.6,591.4L216.6,588.1L218.6,584.9L220.6,581.6L222.6,578.4L224.6,575.2L226.6,572.0L228.6,568.9L230.6,565.7L232.6,562.6L234.6,559.5L236.6,556.4L238.6,553.4L240.6,550.3L242.6,547.3L244.6,544.3L246.6,541.4L248.6,538.4L250.6,535.5L252.6,532.6L254.6,529.8L256.6,526.9L258.6,524.1L260.6,521.3L262.6,518.6L264.6,515.9L266.6,513.2L268.6,510.5L270.6,507.9L272.6,505.3L274.6,502.7L276.6,500.1L278.6,497.6L280.6,495.1L282.6,492.6L284.6,490.2L286.6,487.7L288.6,485.3L290.6,482.9L292.6,480.6L294.6,478.3L296.6,475.9L298.6,473.7L300.6,471.4L302.6,469.2L304.6,466.9L306.6,464.7L308.6,462.6L310.6,460.4L312.6,458.3L314.6,456.1L316.6,454.0L318.6,452.0L320.6,449.9L322.6,447.9L324.6,445.8L326.6,443.8L328.6,441.8L330.6,439.9L332.6,437.9L334.6,436.0L336.6,434.0L338.6,432.1L340.6,430.2L342.6,428.3L344.6,426.5L346.6,424.6L348.6,422.8L350.6,420.9L352.6,419.1L354.6,417.3L356.6,415.5L358.6,413.8L360.6,412.0L362.6,410.2L364.6,408.5L366.6,406.7L368.6,405.0L370.6,403.3L372.6,401.6L374.6,399.9L376.6,398.2L378.6,396.5L380.6,394.8L382.6,393.1L384.6,391.5L386.6,389.8L388.6,388.2L390.6,386.5L392.6,384.9L394.6,383.3L396.6,381.6L398.6,380.0L400.6,378.4L402.6,376.8L404.6,375.2L406.6,373.6L408.6,372.0L410.6,370.4L412.6,368.8L414.6,367.3L416.6,365.7L418.6,364.1L420.6,362.6L422.6,361.0L424.6,359.5L426.6,358.0L428.6,356.4L430.6,354.9L432.6,353.4L434.6,351.9L436.6,350.4L438.6,348.9L440.6,347.4L442.6,345.9L444.6,344.4L446.6,343.0L448.6,341.5L450.6,340.0L452.6,338.6L454.6,337.1L456.6,335.7L458.6,334.2L460.6,332.8L462.6,331.4L464.6,330.0L466.6,328.5L468.6,327.1L470.6,325.7L472.6,324.3L474.6,322.9L476.6,321.5L478.6,320.1L480.6,318.8L482.6,317.4L484.6,316.0L486.6,314.7L488.6,313.3L490.6,312.0L492.6,310.6L494.6,309.3L496.6,307.9L498.6,306.6L500.6,305.3L502.6,303.9L504.6,302.6L506.6,301.3L508.6,300.0L510.6,298.7L512.6,297.4L514.6,296.1L516.6,294.8L518.6,293.6L520.6,292.3L522.6,291.0L524.6,289.7L526.6,288.5L528.6,287.2L530.6,286.0L532.6,284.7L534.6,283.5L536.6,282.2L538.6,281.0L540.6,279.8L542.6,278.6L544.6,277.3L546.6,276.1L548.6,274.9L550.6,273.7L552.6,272.5L554.6,271.3L556.6,270.1L558.6,268.9L560.6,267.7L562.6,266.6L564.6,265.4L566.6,264.2L568.6,263.1L570.6,261.9L572.6,260.7L574.6,259.6L576.6,258.4L578.6,257.3L580.6,256.2L582.6,255.0L584.6,253.9L586.6,252.8L588.6,251.6L590.6,250.5L592.6,249.4L594.6,248.3L596.6,247.2L598.6,246.1L600.6,245.0L602.6,243.9L604.6,242.8L606.6,241.7L608.6,240.6L610.6,239.5L612.6,238.5L614.6,237.4L616.6,236.3L618.6,235.3L620.6,234.2L622.6,233.1L624.6,232.1L626.6,231.0L628.6,230.0L630.6,228.9L632.6,227.9L634.6,226.9L636.6,225.8L638.6,224.8L640.6,223.8L642.6,222.8L644.6,221.7L646.6,220.7L648.6,219.7L650.6,218.7L652.6,217.7L654.6,216.7L656.6,215.7L658.6,214.7L660.6,213.7L662.6,212.7L664.6,211.7L666.6,210.8L668.6,209.8L670.6,208.8L672.6,207.8L674.6,206.9L676.6,205.9L678.6,204.9L680.6,204.0L682.6,203.0L684.6,202.1L686.6,201.1L688.6,200.2L690.6,199.2L692.6,198.3L694.6,197.3L696.6,196.4L698.6,195.4L700.6,194.5L702.6,193.6L704.6,192.7L706.6,191.7L708.6,190.8L710.6,189.9L712.6,189.0L714.6,188.1L716.6,187.2L718.6,186.2L720.6,185.3L722.6,184.4L724.6,183.5L726.6,182.6L728.6,181.7L730.6,180.8L732.6,179.9L734.6,179.1L736.6,178.2L738.6,177.3L740.6,176.4L742.6,175.5L744.6,174.6L746.6,173.8L748.6,172.9L750.6,172.0L752.6,171.2L754.6,170.3L756.6,169.4L758.6,168.6L760.6,167.7L762.6,166.8L764.6,166.0L766.6,165.1L768.6,164.3L770.6,163.4L772.6,162.6L774.6,161.7L776.6,160.9L778.6,160.0L780.6,159.2L782.6,158.4L784.6,157.5L786.6,156.7L788.6,155.8L790.6,155.0L792.6,154.2L794.6,153.3L796.6,152.5L797.3,152.2" fill="none" stroke="#3a6ec0" stroke-width="4" stroke-dasharray="17 4.5 8.5 4.5"/>
<path d="M110.6,703.5L112.6,703.5L114.6,703.5L116.6,703.5L118.6,703.5L120.6,703.5L122.6,703.4L124.6,703.4L126.6,703.4L128.6,703.3L130.6,703.3L132.6,703.2L134.6,703.2L136.6,703.1L138.6,703.1L140.6,702.9L142.6,702.5L144.6,701.7L146.6,700.9L148.6,700.4L150.6,699.9L152.6,699.4L154.6,699.0L156.6,698.7L158.6,698.4L160.6,698.1L162.6,697.8L164.6,697.5L166.6,697.2L168.6,696.9L170.6,696.6L172.6,696.2L174.6,695.9L176.6,695.5L178.6,695.1L180.6,694.6L182.6,694.1L184.6,693.6L186.6,693.0L188.6,692.4L190.6,691.8L192.6,691.3L194.6,690.7L196.6,690.1L198.6,689.5L200.6,688.9L202.6,688.3L204.6,687.7L206.6,687.1L208.6,686.5L210.6,685.9L212.6,685.3L214.6,684.7L216.6,684.1L218.6,683.4L220.6,682.8L222.6,682.2L224.6,681.5L226.6,680.9L228.6,680.3L230.6,679.6L232.6,679.0L234.6,678.3L236.6,677.7L238.6,677.0L240.6,676.3L242.6,675.7L244.6,675.0L246.6,674.3L248.6,673.6L250.6,672.9L252.6,672.3L254.6,671.6L256.6,670.9L258.6,670.2L260.6,669.5L262.6,668.8L264.6,668.1L266.6,667.4L268.6,666.7L270.6,665.9L272.6,665.2L274.6,664.5L276.6,663.8L278.6,663.0L280.6,662.3L282.6,661.6L284.6,660.8L286.6,660.1L288.6,659.4L290.6,658.6L292.6,657.9L294.6,657.1L296.6,656.4L298.6,655.6L300.6,654.8L302.6,654.1L304.6,653.3L306.6,652.5L308.6,651.8L310.6,651.0L312.6,650.2L314.6,649.4L316.6,648.7L318.6,647.9L320.6,647.1L322.6,646.3L324.6,645.5L326.6,644.7L328.6,643.9L330.6,643.1L332.6,642.3L334.6,641.5L336.6,640.7L338.6,639.9L340.6,639.1L342.6,638.3L344.6,637.5L346.6,636.7L348.6,635.8L350.6,635.0L352.6,634.2L354.6,633.4L356.6,632.6L358.6,631.7L360.6,630.9L362.6,630.1L364.6,629.2L366.6,628.4L368.6,627.6L370.6,626.7L372.6,625.9L374.6,625.1L376.6,624.2L378.6,623.4L380.6,622.5L382.6,621.7L384.6,620.8L386.6,620.0L388.6,619.1L390.6,618.3L392.6,617.4L394.6,616.6L396.6,615.7L398.6,614.8L400.6,614.0L402.6,613.1L404.6,612.3L406.6,611.4L408.6,610.5L410.6,609.7L412.6,608.8L414.6,607.9L416.6,607.1L418.6,606.2L420.6,605.3L422.6,604.4L424.6,603.6L426.6,602.7L428.6,601.8L430.6,600.9L432.6,600.1L434.6,599.2L436.6,598.3L438.6,597.4L440.6,596.6L442.6,595.7L444.6,594.8L446.6,593.9L448.6,593.0L450.6,592.1L452.6,591.3L454.6,590.4L456.6,589.5L458.6,588.6L460.6,587.7L462.6,586.8L464.6,586.0L466.6,585.1L468.6,584.2L470.6,583.3L472.6,582.4L474.6,581.5L476.6,580.6L478.6,579.7L480.6,578.9L482.6,578.0L484.6,577.1L486.6,576.2L488.6,575.3L490.6,574.4L492.6,573.5L494.6,572.7L496.6,571.8L498.6,570.9L500.6,570.0L502.6,569.1L504.6,568.2L506.6,567.3L508.6,566.4L510.6,565.6L512.6,564.7L514.6,563.8L516.6,562.9L518.6,562.0L520.6,561.1L522.6,560.3L524.6,559.4L526.6,558.5L528.6,557.6L530.6,556.7L532.6,555.9L534.6,555.0L536.6,554.1L538.6,553.2L540.6,552.3L542.6,551.5L544.6,550.6L546.6,549.7L548.6,548.8L550.6,548.0L552.6,547.1L554.6,546.2L556.6,545.4L558.6,544.5L560.6,543.6L562.6,542.8L564.6,541.9L566.6,541.0L568.6,540.2L570.6,539.3L572.6,538.4L574.6,537.6L576.6,536.7L578.6,535.9L580.6,535.0L582.6,534.2L584.6,533.3L586.6,532.5L588.6,531.6L590.6,530.8L592.6,529.9L594.6,529.1L596.6,528.2L598.6,527.4L600.6,526.5L602.6,525.7L604.6,524.9L606.6,524.0L608.6,523.2L610.6,522.4L612.6,521.5L614.6,520.7L616.6,519.9L618.6,519.1L620.6,518.2L622.6,517.4L624.6,516.6L626.6,515.8L628.6,515.0L630.6,514.2L632.6,513.4L634.6,512.6L636.6,511.7L638.6,510.9L640.6,510.1L642.6,509.3L644.6,508.6L646.6,507.8L648.6,507.0L650.6,506.2L652.6,505.4L654.6,504.6L656.6,503.8L658.6,503.0L660.6,502.3L662.6,501.5L664.6,500.7L666.6,500.0L668.6,499.2L670.6,498.4L672.6,497.7L674.6,496.9L676.6,496.2L678.6,495.4L680.6,494.7L682.6,493.9L684.6,493.2L686.6,492.4L688.6,491.7L690.6,491.0L692.6,490.2L694.6,489.5L696.6,488.8L698.6,488.0L700.6,487.3L702.6,486.6L704.6,485.9L706.6,485.2L708.6,484.5L710.6,483.8L712.6,483.1L714.6,482.4L716.6,481.7L718.6,481.0L720.6,480.3L722.6,479.6L724.6,478.9L726.6,478.3L728.6,477.6L730.6,476.9L732.6,476.3L734.6,475.6L736.6,474.9L738.6,474.3L740.6,473.6L742.6,473.0L744.6,472.3L746.6,471.7L748.6,471.1L750.6,470.4L752.6,469.8L754.6,469.2L756.6,468.6L758.6,468.0L760.6,467.3L762.6,466.7L764.6,466.1L766.6,465.5L768.6,464.9L770.6,464.3L772.6,463.8L774.6,463.2L776.6,462.6L778.6,462.0L780.6,461.4L782.6,460.9L784.6,460.3L786.6,459.8L788.6,459.2L790.6,458.7L792.6,458.1L794.6,457.6L796.6,457.0L797.3,456.9" fill="none" stroke="#d0531e" stroke-width="4" stroke-dasharray="17 4.5 8.5 4.5"/>
<path d="M110.6,703.5L112.6,703.5L114.6,703.5L116.6,703.5L118.6,703.5L120.6,703.5L122.6,703.5L124.6,703.5L126.6,703.5L128.6,703.5L130.6,703.4L132.6,703.4L134.6,703.4L136.6,703.4L138.6,703.4L140.6,703.4L142.6,703.4L144.6,703.4L146.6,703.4L148.6,703.3L150.6,703.3L152.6,703.3L154.6,703.3L156.6,703.2L158.6,703.2L160.6,703.2L162.6,703.1L164.6,703.1L166.6,703.1L168.6,703.1L170.6,703.1L172.6,703.1L174.6,703.0L176.6,703.0L178.6,703.0L180.6,703.0L182.6,703.0L184.6,703.0L186.6,703.0L188.6,703.0L190.6,703.0L192.6,702.9L194.6,702.9L196.6,702.9L198.6,702.9L200.6,702.8L202.6,702.8L204.6,702.8L206.6,702.7L208.6,702.7L210.6,702.6L212.6,702.6L214.6,702.5L216.6,702.4L218.6,702.4L220.6,702.3L222.6,702.2L224.6,702.2L226.6,702.1L228.6,702.0L230.6,701.9L232.6,701.9L234.6,701.8L236.6,701.7L238.6,701.6L240.6,701.5L242.6,701.4L244.6,701.3L246.6,701.2L248.6,701.1L250.6,701.0L252.6,700.9L254.6,700.8L256.6,700.7L258.6,700.5L260.6,700.4L262.6,700.3L264.6,700.2L266.6,700.1L268.6,699.9L270.6,699.8L272.6,699.7L274.6,699.5L276.6,699.4L278.6,699.2L280.6,699.1L282.6,699.0L284.6,698.8L286.6,698.7L288.6,698.5L290.6,698.4L292.6,698.2L294.6,698.0L296.6,697.9L298.6,697.7L300.6,697.5L302.6,697.4L304.6,697.2L306.6,697.0L308.6,696.9L310.6,696.7L312.6,696.5L314.6,696.3L316.6,696.1L318.6,695.9L320.6,695.8L322.6,695.6L324.6,695.4L326.6,695.2L328.6,695.0L330.6,694.8L332.6,694.6L334.6,694.4L336.6,694.2L338.6,694.0L340.6,693.8L342.6,693.6L344.6,693.3L346.6,693.1L348.6,692.9L350.6,692.7L352.6,692.5L354.6,692.2L356.6,692.0L358.6,691.8L360.6,691.6L362.6,691.3L364.6,691.1L366.6,690.9L368.6,690.6L370.6,690.4L372.6,690.2L374.6,689.9L376.6,689.7L378.6,689.4L380.6,689.2L382.6,689.0L384.6,688.7L386.6,688.5L388.6,688.2L390.6,688.0L392.6,687.7L394.6,687.4L396.6,687.2L398.6,686.9L400.6,686.7L402.6,686.4L404.6,686.1L406.6,685.9L408.6,685.6L410.6,685.3L412.6,685.1L414.6,684.8L416.6,684.5L418.6,684.2L420.6,684.0L422.6,683.7L424.6,683.4L426.6,683.1L428.6,682.9L430.6,682.6L432.6,682.3L434.6,682.0L436.6,681.7L438.6,681.4L440.6,681.1L442.6,680.9L444.6,680.6L446.6,680.3L448.6,680.0L450.6,679.7L452.6,679.4L454.6,679.1L456.6,678.8L458.6,678.5L460.6,678.2L462.6,677.9L464.6,677.6L466.6,677.3L468.6,677.0L470.6,676.7L472.6,676.4L474.6,676.0L476.6,675.7L478.6,675.4L480.6,675.1L482.6,674.8L484.6,674.5L486.6,674.2L488.6,673.9L490.6,673.5L492.6,673.2L494.6,672.9L496.6,672.6L498.6,672.3L500.6,671.9L502.6,671.6L504.6,671.3L506.6,671.0L508.6,670.7L510.6,670.3L512.6,670.0L514.6,669.7L516.6,669.4L518.6,669.0L520.6,668.7L522.6,668.4L524.6,668.0L526.6,667.7L528.6,667.4L530.6,667.0L532.6,666.7L534.6,666.4L536.6,666.0L538.6,665.7L540.6,665.4L542.6,665.0L544.6,664.7L546.6,664.4L548.6,664.0L550.6,663.7L552.6,663.4L554.6,663.0L556.6,662.7L558.6,662.3L560.6,662.0L562.6,661.7L564.6,661.3L566.6,661.0L568.6,660.6L570.6,660.3L572.6,660.0L574.6,659.6L576.6,659.3L578.6,658.9L580.6,658.6L582.6,658.2L584.6,657.9L586.6,657.6L588.6,657.2L590.6,656.9L592.6,656.5L594.6,656.2L596.6,655.8L598.6,655.5L600.6,655.1L602.6,654.8L604.6,654.4L606.6,654.1L608.6,653.8L610.6,653.4L612.6,653.1L614.6,652.7L616.6,652.4L618.6,652.0L620.6,651.7L622.6,651.3L624.6,651.0L626.6,650.6L628.6,650.3L630.6,649.9L632.6,649.6L634.6,649.3L636.6,648.9L638.6,648.6L640.6,648.2L642.6,647.9L644.6,647.5L646.6,647.2L648.6,646.8L650.6,646.5L652.6,646.1L654.6,645.8L656.6,645.5L658.6,645.1L660.6,644.8L662.6,644.4L664.6,644.1L666.6,643.7L668.6,643.4L670.6,643.1L672.6,642.7L674.6,642.4L676.6,642.0L678.6,641.7L680.6,641.4L682.6,641.0L684.6,640.7L686.6,640.3L688.6,640.0L690.6,639.7L692.6,639.3L694.6,639.0L696.6,638.6L698.6,638.3L700.6,638.0L702.6,637.6L704.6,637.3L706.6,637.0L708.6,636.6L710.6,636.3L712.6,636.0L714.6,635.6L716.6,635.3L718.6,635.0L720.6,634.7L722.6,634.3L724.6,634.0L726.6,633.7L728.6,633.3L730.6,633.0L732.6,632.7L734.6,632.4L736.6,632.0L738.6,631.7L740.6,631.4L742.6,631.1L744.6,630.8L746.6,630.4L748.6,630.1L750.6,629.8L752.6,629.5L754.6,629.2L756.6,628.9L758.6,628.5L760.6,628.2L762.6,627.9L764.6,627.6L766.6,627.3L768.6,627.0L770.6,626.7L772.6,626.4L774.6,626.1L776.6,625.8L778.6,625.5L780.6,625.2L782.6,624.9L784.6,624.6L786.6,624.3L788.6,624.0L790.6,623.7L792.6,623.4L794.6,623.1L796.6,622.8L797.3,622.7" fill="none" stroke="#e0aa26" stroke-width="4" stroke-dasharray="17 4.5 8.5 4.5"/>
<path d="M110.6,703.8L112.6,703.8L114.6,703.8L116.6,703.8L118.6,703.8L120.6,703.8L122.6,703.8L124.6,703.8L126.6,703.8L128.6,703.8L130.6,703.8L132.6,703.8L134.6,703.8L136.6,703.8L138.6,703.8L140.6,703.8L142.6,703.8L144.6,703.8L146.6,703.8L148.6,703.8L150.6,703.8L152.6,703.7L154.6,703.7L156.6,703.7L158.6,703.7L160.6,703.7L162.6,703.7L164.6,703.7L166.6,703.6L168.6,703.6L170.6,703.6L172.6,703.6L174.6,703.5L176.6,703.5L178.6,703.4L180.6,703.4L182.6,703.4L184.6,703.3L186.6,703.3L188.6,703.2L190.6,703.2L192.6,703.1L194.6,703.1L196.6,703.0L198.6,703.0L200.6,702.9L202.6,702.9L204.6,702.8L206.6,702.7L208.6,702.7L210.6,702.6L212.6,702.6L214.6,702.5L216.6,702.5L218.6,702.4L220.6,702.4L222.6,702.3L224.6,702.2L226.6,702.2L228.6,702.1L230.6,702.1L232.6,702.0L234.6,701.9L236.6,701.9L238.6,701.8L240.6,701.8L242.6,701.7L244.6,701.6L246.6,701.6L248.6,701.5L250.6,701.5L252.6,701.4L254.6,701.3L256.6,701.3L258.6,701.2L260.6,701.2L262.6,701.1L264.6,701.0L266.6,701.0L268.6,700.9L270.6,700.8L272.6,700.8L274.6,700.7L276.6,700.6L278.6,700.6L280.6,700.5L282.6,700.4L284.6,700.4L286.6,700.3L288.6,700.2L290.6,700.2L292.6,700.1L294.6,700.0L296.6,700.0L298.6,699.9L300.6,699.8L302.6,699.8L304.6,699.7L306.6,699.6L308.6,699.6L310.6,699.5L312.6,699.4L314.6,699.4L316.6,699.3L318.6,699.2L320.6,699.1L322.6,699.1L324.6,699.0L326.6,698.9L328.6,698.9L330.6,698.8L332.6,698.7L334.6,698.6L336.6,698.6L338.6,698.5L340.6,698.4L342.6,698.4L344.6,698.3L346.6,698.2L348.6,698.1L350.6,698.1L352.6,698.0L354.6,697.9L356.6,697.8L358.6,697.8L360.6,697.7L362.6,697.6L364.6,697.5L366.6,697.5L368.6,697.4L370.6,697.3L372.6,697.2L374.6,697.2L376.6,697.1L378.6,697.0L380.6,696.9L382.6,696.9L384.6,696.8L386.6,696.7L388.6,696.6L390.6,696.5L392.6,696.5L394.6,696.4L396.6,696.3L398.6,696.2L400.6,696.2L402.6,696.1L404.6,696.0L406.6,695.9L408.6,695.8L410.6,695.8L412.6,695.7L414.6,695.6L416.6,695.5L418.6,695.4L420.6,695.4L422.6,695.3L424.6,695.2L426.6,695.1L428.6,695.0L430.6,695.0L432.6,694.9L434.6,694.8L436.6,694.7L438.6,694.6L440.6,694.6L442.6,694.5L444.6,694.4L446.6,694.3L448.6,694.2L450.6,694.1L452.6,694.1L454.6,694.0L456.6,693.9L458.6,693.8L460.6,693.7L462.6,693.6L464.6,693.6L466.6,693.5L468.6,693.4L470.6,693.3L472.6,693.2L474.6,693.1L476.6,693.1L478.6,693.0L480.6,692.9L482.6,692.8L484.6,692.7L486.6,692.6L488.6,692.6L490.6,692.5L492.6,692.4L494.6,692.3L496.6,692.2L498.6,692.1L500.6,692.0L502.6,692.0L504.6,691.9L506.6,691.8L508.6,691.7L510.6,691.6L512.6,691.5L514.6,691.4L516.6,691.4L518.6,691.3L520.6,691.2L522.6,691.1L524.6,691.0L526.6,690.9L528.6,690.8L530.6,690.8L532.6,690.7L534.6,690.6L536.6,690.5L538.6,690.4L540.6,690.3L542.6,690.2L544.6,690.1L546.6,690.1L548.6,690.0L550.6,689.9L552.6,689.8L554.6,689.7L556.6,689.6L558.6,689.5L560.6,689.4L562.6,689.4L564.6,689.3L566.6,689.2L568.6,689.1L570.6,689.0L572.6,688.9L574.6,688.8L576.6,688.7L578.6,688.7L580.6,688.6L582.6,688.5L584.6,688.4L586.6,688.3L588.6,688.2L590.6,688.1L592.6,688.0L594.6,688.0L596.6,687.9L598.6,687.8L600.6,687.7L602.6,687.6L604.6,687.5L606.6,687.4L608.6,687.3L610.6,687.3L612.6,687.2L614.6,687.1L616.6,687.0L618.6,686.9L620.6,686.8L622.6,686.7L624.6,686.6L626.6,686.5L628.6,686.5L630.6,686.4L632.6,686.3L634.6,686.2L636.6,686.1L638.6,686.0L640.6,685.9L642.6,685.8L644.6,685.8L646.6,685.7L648.6,685.6L650.6,685.5L652.6,685.4L654.6,685.3L656.6,685.2L658.6,685.1L660.6,685.1L662.6,685.0L664.6,684.9L666.6,684.8L668.6,684.7L670.6,684.6L672.6,684.5L674.6,684.4L676.6,684.3L678.6,684.3L680.6,684.2L682.6,684.1L684.6,684.0L686.6,683.9L688.6,683.8L690.6,683.7L692.6,683.6L694.6,683.6L696.6,683.5L698.6,683.4L700.6,683.3L702.6,683.2L704.6,683.1L706.6,683.0L708.6,683.0L710.6,682.9L712.6,682.8L714.6,682.7L716.6,682.6L718.6,682.5L720.6,682.4L722.6,682.3L724.6,682.3L726.6,682.2L728.6,682.1L730.6,682.0L732.6,681.9L734.6,681.8L736.6,681.7L738.6,681.7L740.6,681.6L742.6,681.5L744.6,681.4L746.6,681.3L748.6,681.2L750.6,681.2L752.6,681.1L754.6,681.0L756.6,680.9L758.6,680.8L760.6,680.7L762.6,680.6L764.6,680.6L766.6,680.5L768.6,680.4L770.6,680.3L772.6,680.2L774.6,680.1L776.6,680.1L778.6,680.0L780.6,679.9L782.6,679.8L784.6,679.7L786.6,679.6L788.6,679.6L790.6,679.5L792.6,679.4L794.6,679.3L796.6,679.2L797.3,679.2" fill="none" stroke="#742d8c" stroke-width="4" stroke-dasharray="17 4.5 8.5 4.5"/>
<path d="M132.9,709.2L134.9,709.2L136.9,709.0L138.9,708.8L140.9,708.6L142.9,708.3L144.9,708.0L146.9,707.5L148.9,706.8L150.9,706.1L152.9,705.4L154.9,705.1L156.9,704.7L158.9,703.8L160.9,702.2L162.9,700.2L164.9,697.9L166.9,695.7L168.9,693.5L170.9,691.2L172.9,688.8L174.9,686.4L176.9,683.9L178.9,681.4L180.9,679.0L182.9,676.5L184.9,673.9L186.9,671.4L188.9,668.8L190.9,666.2L192.9,663.5L194.9,660.9L196.9,658.2L198.9,655.5L200.9,652.7L202.9,650.0L204.9,647.1L206.9,644.3L208.9,641.5L210.9,638.6L212.9,635.7L214.9,632.7L216.9,629.8L218.9,626.8L220.9,623.9L222.9,620.9L224.9,617.8L226.9,614.8L228.9,611.8L230.9,608.7L232.9,605.7L234.9,602.6L236.9,599.5L238.9,596.4L240.9,593.3L242.9,590.2L244.9,587.1L246.9,583.9L248.9,580.8L250.9,577.7L252.9,574.5L254.9,571.4L256.9,568.2L258.9,565.1L260.9,561.9L262.9,558.8L264.9,555.6L266.9,552.5L268.9,549.3L270.9,546.2L272.9,543.1L274.9,539.9L276.9,536.8L278.9,533.7L280.9,530.6L282.9,527.5L284.9,524.4L286.9,521.3L288.9,518.3L290.9,515.2L292.9,512.2L294.9,509.2L296.9,506.2L298.9,503.2L300.9,500.2L302.9,497.3L304.9,494.4L306.9,491.5L308.9,488.6L310.9,485.8L312.9,483.0L314.9,480.2L316.9,477.5L318.9,474.7L320.9,472.0L322.9,469.4L324.9,466.8L326.9,464.2L328.9,461.7L330.9,459.1L332.9,456.7L334.9,454.3L336.9,451.9L338.9,449.5L340.9,447.2L342.9,445.0L344.9,442.8L346.9,440.6L348.9,438.5L350.9,436.4L352.9,434.4L354.9,432.4L356.9,430.5L358.9,428.5L360.9,426.7L362.9,424.8L364.9,423.0L366.9,421.2L368.9,419.4L370.9,417.7L372.9,415.9L374.9,414.2L376.9,412.6L378.9,410.9L380.9,409.3L382.9,407.6L384.9,406.0L386.9,404.4L388.9,402.8L390.9,401.2L392.9,399.7L394.9,398.1L396.9,396.5L398.9,395.0L400.9,393.4L402.9,391.8L404.9,390.3L406.9,388.7L408.9,387.2L410.9,385.6L412.9,384.1L414.9,382.5L416.9,381.0L418.9,379.4L420.9,377.9L422.9,376.3L424.9,374.8L426.9,373.3L428.9,371.8L430.9,370.2L432.9,368.7L434.9,367.2L436.9,365.7L438.9,364.2L440.9,362.6L442.9,361.1L444.9,359.6L446.9,358.1L448.9,356.6L450.9,355.1L452.9,353.7L454.9,352.2L456.9,350.7L458.9,349.2L460.9,347.7L462.9,346.3L464.9,344.8L466.9,343.3L468.9,341.9L470.9,340.4L472.9,339.0L474.9,337.5L476.9,336.1L478.9,334.6L480.9,333.2L482.9,331.8L484.9,330.3L486.9,328.9L488.9,327.5L490.9,326.1L492.9,324.7L494.9,323.3L496.9,321.9L498.9,320.5L500.9,319.1L502.9,317.7L504.9,316.3L506.9,315.0L508.9,313.6L510.9,312.2L512.9,310.9L514.9,309.5L516.9,308.2L518.9,306.8L520.9,305.5L522.9,304.2L524.9,302.8L526.9,301.5L528.9,300.2L530.9,298.9L532.9,297.6L534.9,296.3L536.9,295.0L538.9,293.7L540.9,292.4L542.9,291.2L544.9,289.9L546.9,288.6L548.9,287.4L550.9,286.1L552.9,284.9L554.9,283.7L556.9,282.4L558.9,281.2L560.9,280.0L562.9,278.8L564.9,277.6L566.9,276.4L568.9,275.2L570.9,274.0L572.9,272.8L574.9,271.7L576.9,270.5L578.9,269.3L580.9,268.2L582.9,267.0L584.9,265.9L586.9,264.7L588.9,263.6L590.9,262.5L592.9,261.4L594.9,260.2L596.9,259.1L598.9,258.0L600.9,256.9L602.9,255.8L604.9,254.7L606.9,253.6L608.9,252.6L610.9,251.5L612.9,250.4L614.9,249.3L616.9,248.3L618.9,247.2L620.9,246.2L622.9,245.1L624.9,244.1L626.9,243.0L628.9,242.0L630.9,241.0L632.9,239.9L634.9,238.9L636.9,237.9L638.9,236.9L640.9,235.8L642.9,234.8L644.9,233.8L646.9,232.8L648.9,231.8L650.9,230.8L652.9,229.8L654.9,228.8L656.9,227.8L658.9,226.9L660.9,225.9L662.9,224.9L664.9,223.9L666.9,222.9L668.9,222.0L670.9,221.0L672.9,220.0L674.9,219.1L676.9,218.1L678.9,217.1L680.9,216.2L682.9,215.2L684.9,214.3L686.9,213.3L688.9,212.4L690.9,211.4L692.9,210.5L694.9,209.5L696.9,208.6L698.9,207.6L700.9,206.7L702.9,205.8L704.9,204.8L706.9,203.9L708.9,203.0L710.9,202.0L712.9,201.1L714.9,200.2L716.9,199.2L718.9,198.3L720.9,197.4L722.9,196.4L724.9,195.5L726.9,194.6L728.9,193.7L730.9,192.7L732.9,191.8L734.9,190.9L736.9,190.0L738.9,189.0L740.9,188.1L742.9,187.2L744.9,186.3L746.9,185.3L748.9,184.4L750.9,183.5L752.9,182.5L754.9,181.6L756.9,180.7L758.9,179.8L760.9,178.8L762.9,177.9L764.9,177.0L766.9,176.0L768.9,175.1L770.9,174.2L772.9,173.2L774.9,172.3L776.9,171.4L778.9,170.4L780.9,169.5L782.9,168.5L784.9,167.6L786.9,166.7L788.9,165.7L790.9,164.8L792.9,163.8L794.9,162.9L796.9,161.9L797.3,161.7" fill="none" stroke="#000" stroke-width="4" stroke-linejoin="round"/>
<path d="M132.9,709.2L134.9,709.2L136.9,709.2L138.9,709.1L140.9,709.0L142.9,708.9L144.9,708.8L146.9,708.7L148.9,708.5L150.9,708.4L152.9,708.2L154.9,708.1L156.9,707.9L158.9,707.7L160.9,707.5L162.9,707.3L164.9,706.9L166.9,706.6L168.9,706.2L170.9,705.7L172.9,705.3L174.9,704.8L176.9,704.3L178.9,703.8L180.9,703.3L182.9,702.9L184.9,702.6L186.9,702.2L188.9,701.9L190.9,701.6L192.9,701.2L194.9,700.9L196.9,700.6L198.9,700.3L200.9,699.9L202.9,699.6L204.9,699.2L206.9,698.8L208.9,698.4L210.9,698.0L212.9,697.6L214.9,697.1L216.9,696.6L218.9,696.1L220.9,695.5L222.9,694.9L224.9,694.3L226.9,693.7L228.9,693.0L230.9,692.4L232.9,691.7L234.9,691.0L236.9,690.3L238.9,689.6L240.9,688.8L242.9,688.0L244.9,687.2L246.9,686.4L248.9,685.6L250.9,684.8L252.9,683.9L254.9,683.1L256.9,682.2L258.9,681.3L260.9,680.4L262.9,679.4L264.9,678.5L266.9,677.5L268.9,676.6L270.9,675.6L272.9,674.6L274.9,673.5L276.9,672.5L278.9,671.5L280.9,670.4L282.9,669.4L284.9,668.3L286.9,667.2L288.9,666.1L290.9,665.0L292.9,663.8L294.9,662.7L296.9,661.6L298.9,660.4L300.9,659.2L302.9,658.1L304.9,656.9L306.9,655.7L308.9,654.5L310.9,653.2L312.9,652.0L314.9,650.8L316.9,649.5L318.9,648.3L320.9,647.0L322.9,645.8L324.9,644.5L326.9,643.2L328.9,641.9L330.9,640.7L332.9,639.4L334.9,638.1L336.9,636.8L338.9,635.4L340.9,634.1L342.9,632.8L344.9,631.5L346.9,630.1L348.9,628.8L350.9,627.5L352.9,626.1L354.9,624.8L356.9,623.4L358.9,622.1L360.9,620.7L362.9,619.3L364.9,618.0L366.9,616.6L368.9,615.3L370.9,613.9L372.9,612.5L374.9,611.2L376.9,609.8L378.9,608.4L380.9,607.1L382.9,605.7L384.9,604.3L386.9,603.0L388.9,601.6L390.9,600.2L392.9,598.9L394.9,597.5L396.9,596.1L398.9,594.8L400.9,593.4L402.9,592.1L404.9,590.7L406.9,589.4L408.9,588.0L410.9,586.7L412.9,585.4L414.9,584.0L416.9,582.7L418.9,581.4L420.9,580.1L422.9,578.8L424.9,577.5L426.9,576.2L428.9,574.9L430.9,573.6L432.9,572.3L434.9,571.0L436.9,569.8L438.9,568.5L440.9,567.2L442.9,566.0L444.9,564.8L446.9,563.5L448.9,562.3L450.9,561.1L452.9,559.9L454.9,558.7L456.9,557.5L458.9,556.4L460.9,555.2L462.9,554.0L464.9,552.9L466.9,551.8L468.9,550.6L470.9,549.5L472.9,548.4L474.9,547.3L476.9,546.3L478.9,545.2L480.9,544.1L482.9,543.1L484.9,542.0L486.9,541.0L488.9,540.0L490.9,539.0L492.9,538.0L494.9,537.0L496.9,536.0L498.9,535.1L500.9,534.1L502.9,533.2L504.9,532.2L506.9,531.3L508.9,530.4L510.9,529.5L512.9,528.6L514.9,527.8L516.9,526.9L518.9,526.0L520.9,525.2L522.9,524.4L524.9,523.5L526.9,522.7L528.9,521.9L530.9,521.1L532.9,520.3L534.9,519.5L536.9,518.8L538.9,518.0L540.9,517.3L542.9,516.5L544.9,515.8L546.9,515.0L548.9,514.3L550.9,513.6L552.9,512.8L554.9,512.1L556.9,511.4L558.9,510.7L560.9,510.0L562.9,509.3L564.9,508.6L566.9,507.9L568.9,507.2L570.9,506.6L572.9,505.9L574.9,505.2L576.9,504.5L578.9,503.8L580.9,503.2L582.9,502.5L584.9,501.8L586.9,501.2L588.9,500.5L590.9,499.8L592.9,499.1L594.9,498.5L596.9,497.8L598.9,497.1L600.9,496.4L602.9,495.8L604.9,495.1L606.9,494.4L608.9,493.7L610.9,493.0L612.9,492.3L614.9,491.6L616.9,490.9L618.9,490.2L620.9,489.5L622.9,488.8L624.9,488.1L626.9,487.4L628.9,486.7L630.9,486.0L632.9,485.3L634.9,484.6L636.9,483.9L638.9,483.2L640.9,482.5L642.9,481.7L644.9,481.0L646.9,480.3L648.9,479.6L650.9,478.9L652.9,478.1L654.9,477.4L656.9,476.7L658.9,476.0L660.9,475.2L662.9,474.5L664.9,473.8L666.9,473.1L668.9,472.3L670.9,471.6L672.9,470.9L674.9,470.1L676.9,469.4L678.9,468.7L680.9,467.9L682.9,467.2L684.9,466.5L686.9,465.7L688.9,465.0L690.9,464.3L692.9,463.5L694.9,462.8L696.9,462.1L698.9,461.3L700.9,460.6L702.9,459.9L704.9,459.1L706.9,458.4L708.9,457.7L710.9,456.9L712.9,456.2L714.9,455.5L716.9,454.7L718.9,454.0L720.9,453.3L722.9,452.5L724.9,451.8L726.9,451.1L728.9,450.4L730.9,449.6L732.9,448.9L734.9,448.2L736.9,447.5L738.9,446.7L740.9,446.0L742.9,445.3L744.9,444.6L746.9,443.9L748.9,443.1L750.9,442.4L752.9,441.7L754.9,441.0L756.9,440.3L758.9,439.6L760.9,438.9L762.9,438.1L764.9,437.4L766.9,436.7L768.9,436.0L770.9,435.3L772.9,434.6L774.9,433.9L776.9,433.2L778.9,432.6L780.9,431.9L782.9,431.2L784.9,430.5L786.9,429.8L788.9,429.1L790.9,428.4L792.9,427.8L794.9,427.1L796.9,426.4L797.3,426.3" fill="none" stroke="#000" stroke-width="4" stroke-linejoin="round"/>
<path d="M132.9,709.2L134.9,709.2L136.9,709.2L138.9,709.2L140.9,709.1L142.9,709.1L144.9,709.0L146.9,709.0L148.9,708.9L150.9,708.9L152.9,708.8L154.9,708.8L156.9,708.7L158.9,708.6L160.9,708.6L162.9,708.5L164.9,708.4L166.9,708.3L168.9,708.2L170.9,708.0L172.9,707.9L174.9,707.7L176.9,707.4L178.9,707.0L180.9,706.7L182.9,706.3L184.9,706.0L186.9,705.7L188.9,705.4L190.9,705.2L192.9,704.9L194.9,704.7L196.9,704.5L198.9,704.3L200.9,704.1L202.9,703.9L204.9,703.7L206.9,703.6L208.9,703.4L210.9,703.3L212.9,703.2L214.9,703.1L216.9,703.0L218.9,703.0L220.9,702.9L222.9,702.8L224.9,702.7L226.9,702.7L228.9,702.6L230.9,702.5L232.9,702.4L234.9,702.3L236.9,702.2L238.9,702.1L240.9,702.0L242.9,701.9L244.9,701.7L246.9,701.6L248.9,701.5L250.9,701.3L252.9,701.2L254.9,701.1L256.9,700.9L258.9,700.8L260.9,700.6L262.9,700.5L264.9,700.3L266.9,700.1L268.9,700.0L270.9,699.8L272.9,699.6L274.9,699.4L276.9,699.2L278.9,699.0L280.9,698.8L282.9,698.6L284.9,698.4L286.9,698.2L288.9,698.0L290.9,697.8L292.9,697.6L294.9,697.4L296.9,697.2L298.9,696.9L300.9,696.7L302.9,696.5L304.9,696.2L306.9,696.0L308.9,695.7L310.9,695.5L312.9,695.2L314.9,695.0L316.9,694.7L318.9,694.4L320.9,694.2L322.9,693.9L324.9,693.6L326.9,693.4L328.9,693.1L330.9,692.8L332.9,692.5L334.9,692.2L336.9,691.9L338.9,691.6L340.9,691.3L342.9,691.0L344.9,690.7L346.9,690.4L348.9,690.1L350.9,689.8L352.9,689.5L354.9,689.2L356.9,688.8L358.9,688.5L360.9,688.2L362.9,687.9L364.9,687.5L366.9,687.2L368.9,686.8L370.9,686.5L372.9,686.2L374.9,685.8L376.9,685.5L378.9,685.1L380.9,684.8L382.9,684.4L384.9,684.0L386.9,683.7L388.9,683.3L390.9,683.0L392.9,682.6L394.9,682.2L396.9,681.8L398.9,681.5L400.9,681.1L402.9,680.7L404.9,680.3L406.9,679.9L408.9,679.6L410.9,679.2L412.9,678.8L414.9,678.4L416.9,678.0L418.9,677.6L420.9,677.2L422.9,676.8L424.9,676.4L426.9,676.0L428.9,675.6L430.9,675.2L432.9,674.8L434.9,674.3L436.9,673.9L438.9,673.5L440.9,673.1L442.9,672.7L444.9,672.3L446.9,671.8L448.9,671.4L450.9,671.0L452.9,670.6L454.9,670.1L456.9,669.7L458.9,669.3L460.9,668.8L462.9,668.4L464.9,668.0L466.9,667.5L468.9,667.1L470.9,666.6L472.9,666.2L474.9,665.8L476.9,665.3L478.9,664.9L480.9,664.4L482.9,664.0L484.9,663.5L486.9,663.1L488.9,662.6L490.9,662.2L492.9,661.7L494.9,661.3L496.9,660.8L498.9,660.4L500.9,659.9L502.9,659.4L504.9,659.0L506.9,658.5L508.9,658.1L510.9,657.6L512.9,657.1L514.9,656.7L516.9,656.2L518.9,655.7L520.9,655.3L522.9,654.8L524.9,654.4L526.9,653.9L528.9,653.4L530.9,653.0L532.9,652.5L534.9,652.0L536.9,651.5L538.9,651.1L540.9,650.6L542.9,650.1L544.9,649.7L546.9,649.2L548.9,648.7L550.9,648.3L552.9,647.8L554.9,647.3L556.9,646.8L558.9,646.4L560.9,645.9L562.9,645.4L564.9,645.0L566.9,644.5L568.9,644.0L570.9,643.5L572.9,643.1L574.9,642.6L576.9,642.1L578.9,641.7L580.9,641.2L582.9,640.7L584.9,640.2L586.9,639.8L588.9,639.3L590.9,638.8L592.9,638.4L594.9,637.9L596.9,637.4L598.9,637.0L600.9,636.5L602.9,636.0L604.9,635.6L606.9,635.1L608.9,634.6L610.9,634.2L612.9,633.7L614.9,633.2L616.9,632.8L618.9,632.3L620.9,631.8L622.9,631.4L624.9,630.9L626.9,630.5L628.9,630.0L630.9,629.5L632.9,629.1L634.9,628.6L636.9,628.2L638.9,627.7L640.9,627.3L642.9,626.8L644.9,626.4L646.9,625.9L648.9,625.5L650.9,625.0L652.9,624.6L654.9,624.1L656.9,623.7L658.9,623.2L660.9,622.8L662.9,622.3L664.9,621.9L666.9,621.5L668.9,621.0L670.9,620.6L672.9,620.2L674.9,619.7L676.9,619.3L678.9,618.9L680.9,618.4L682.9,618.0L684.9,617.6L686.9,617.2L688.9,616.7L690.9,616.3L692.9,615.9L694.9,615.5L696.9,615.1L698.9,614.7L700.9,614.2L702.9,613.8L704.9,613.4L706.9,613.0L708.9,612.6L710.9,612.2L712.9,611.8L714.9,611.4L716.9,611.0L718.9,610.6L720.9,610.2L722.9,609.8L724.9,609.4L726.9,609.1L728.9,608.7L730.9,608.3L732.9,607.9L734.9,607.5L736.9,607.2L738.9,606.8L740.9,606.4L742.9,606.1L744.9,605.7L746.9,605.3L748.9,605.0L750.9,604.6L752.9,604.2L754.9,603.9L756.9,603.5L758.9,603.2L760.9,602.9L762.9,602.5L764.9,602.2L766.9,601.8L768.9,601.5L770.9,601.2L772.9,600.8L774.9,600.5L776.9,600.2L778.9,599.9L780.9,599.5L782.9,599.2L784.9,598.9L786.9,598.6L788.9,598.3L790.9,598.0L792.9,597.7L794.9,597.4L796.9,597.1L797.3,597.0" fill="none" stroke="#000" stroke-width="4" stroke-linejoin="round"/>
<path d="M132.9,709.2L134.9,709.2L136.9,709.2L138.9,709.2L140.9,709.1L142.9,709.1L144.9,709.1L146.9,709.0L148.9,709.0L150.9,709.0L152.9,708.9L154.9,708.9L156.9,708.9L158.9,708.8L160.9,708.8L162.9,708.7L164.9,708.7L166.9,708.6L168.9,708.5L170.9,708.5L172.9,708.4L174.9,708.3L176.9,708.2L178.9,708.0L180.9,707.9L182.9,707.8L184.9,707.7L186.9,707.6L188.9,707.5L190.9,707.4L192.9,707.3L194.9,707.3L196.9,707.2L198.9,707.2L200.9,707.1L202.9,707.1L204.9,707.1L206.9,707.0L208.9,707.0L210.9,707.0L212.9,706.9L214.9,706.9L216.9,706.9L218.9,706.9L220.9,706.8L222.9,706.8L224.9,706.8L226.9,706.7L228.9,706.7L230.9,706.7L232.9,706.6L234.9,706.6L236.9,706.5L238.9,706.5L240.9,706.4L242.9,706.4L244.9,706.3L246.9,706.3L248.9,706.2L250.9,706.2L252.9,706.1L254.9,706.1L256.9,706.0L258.9,706.0L260.9,705.9L262.9,705.8L264.9,705.8L266.9,705.7L268.9,705.6L270.9,705.6L272.9,705.5L274.9,705.4L276.9,705.3L278.9,705.3L280.9,705.2L282.9,705.1L284.9,705.0L286.9,705.0L288.9,704.9L290.9,704.8L292.9,704.7L294.9,704.6L296.9,704.5L298.9,704.4L300.9,704.4L302.9,704.3L304.9,704.2L306.9,704.1L308.9,704.0L310.9,703.9L312.9,703.8L314.9,703.7L316.9,703.6L318.9,703.5L320.9,703.4L322.9,703.3L324.9,703.2L326.9,703.1L328.9,703.0L330.9,702.8L332.9,702.7L334.9,702.6L336.9,702.5L338.9,702.4L340.9,702.3L342.9,702.2L344.9,702.0L346.9,701.9L348.9,701.8L350.9,701.7L352.9,701.5L354.9,701.4L356.9,701.3L358.9,701.2L360.9,701.0L362.9,700.9L364.9,700.8L366.9,700.6L368.9,700.5L370.9,700.4L372.9,700.2L374.9,700.1L376.9,700.0L378.9,699.8L380.9,699.7L382.9,699.5L384.9,699.4L386.9,699.3L388.9,699.1L390.9,699.0L392.9,698.8L394.9,698.7L396.9,698.5L398.9,698.4L400.9,698.2L402.9,698.1L404.9,697.9L406.9,697.8L408.9,697.6L410.9,697.5L412.9,697.3L414.9,697.1L416.9,697.0L418.9,696.8L420.9,696.7L422.9,696.5L424.9,696.3L426.9,696.2L428.9,696.0L430.9,695.8L432.9,695.7L434.9,695.5L436.9,695.3L438.9,695.2L440.9,695.0L442.9,694.8L444.9,694.6L446.9,694.5L448.9,694.3L450.9,694.1L452.9,693.9L454.9,693.8L456.9,693.6L458.9,693.4L460.9,693.2L462.9,693.0L464.9,692.9L466.9,692.7L468.9,692.5L470.9,692.3L472.9,692.1L474.9,691.9L476.9,691.8L478.9,691.6L480.9,691.4L482.9,691.2L484.9,691.0L486.9,690.8L488.9,690.6L490.9,690.4L492.9,690.2L494.9,690.0L496.9,689.8L498.9,689.6L500.9,689.5L502.9,689.3L504.9,689.1L506.9,688.9L508.9,688.7L510.9,688.5L512.9,688.3L514.9,688.1L516.9,687.9L518.9,687.7L520.9,687.5L522.9,687.2L524.9,687.0L526.9,686.8L528.9,686.6L530.9,686.4L532.9,686.2L534.9,686.0L536.9,685.8L538.9,685.6L540.9,685.4L542.9,685.2L544.9,685.0L546.9,684.8L548.9,684.5L550.9,684.3L552.9,684.1L554.9,683.9L556.9,683.7L558.9,683.5L560.9,683.3L562.9,683.0L564.9,682.8L566.9,682.6L568.9,682.4L570.9,682.2L572.9,682.0L574.9,681.7L576.9,681.5L578.9,681.3L580.9,681.1L582.9,680.9L584.9,680.6L586.9,680.4L588.9,680.2L590.9,680.0L592.9,679.8L594.9,679.5L596.9,679.3L598.9,679.1L600.9,678.9L602.9,678.6L604.9,678.4L606.9,678.2L608.9,678.0L610.9,677.7L612.9,677.5L614.9,677.3L616.9,677.0L618.9,676.8L620.9,676.6L622.9,676.4L624.9,676.1L626.9,675.9L628.9,675.7L630.9,675.4L632.9,675.2L634.9,675.0L636.9,674.8L638.9,674.5L640.9,674.3L642.9,674.1L644.9,673.8L646.9,673.6L648.9,673.4L650.9,673.1L652.9,672.9L654.9,672.7L656.9,672.4L658.9,672.2L660.9,672.0L662.9,671.7L664.9,671.5L666.9,671.3L668.9,671.0L670.9,670.8L672.9,670.6L674.9,670.3L676.9,670.1L678.9,669.9L680.9,669.6L682.9,669.4L684.9,669.1L686.9,668.9L688.9,668.7L690.9,668.4L692.9,668.2L694.9,668.0L696.9,667.7L698.9,667.5L700.9,667.3L702.9,667.0L704.9,666.8L706.9,666.5L708.9,666.3L710.9,666.1L712.9,665.8L714.9,665.6L716.9,665.4L718.9,665.1L720.9,664.9L722.9,664.7L724.9,664.4L726.9,664.2L728.9,663.9L730.9,663.7L732.9,663.5L734.9,663.2L736.9,663.0L738.9,662.8L740.9,662.5L742.9,662.3L744.9,662.0L746.9,661.8L748.9,661.6L750.9,661.3L752.9,661.1L754.9,660.9L756.9,660.6L758.9,660.4L760.9,660.2L762.9,659.9L764.9,659.7L766.9,659.4L768.9,659.2L770.9,659.0L772.9,658.7L774.9,658.5L776.9,658.3L778.9,658.0L780.9,657.8L782.9,657.6L784.9,657.3L786.9,657.1L788.9,656.9L790.9,656.6L792.9,656.4L794.9,656.2L796.9,655.9L797.3,655.9" fill="none" stroke="#000" stroke-width="4" stroke-linejoin="round"/>
</g>
<rect x="110.6" y="57.35" width="686.70" height="685.75" fill="none" stroke="#555" stroke-width="1.6"/>
<path d="M110.60,743.1V736.30M110.60,57.35V64.15M332.12,743.1V736.30M332.12,57.35V64.15M553.63,743.1V736.30M553.63,57.35V64.15M775.15,743.1V736.30M775.15,57.35V64.15M110.6,743.10H117.40M797.3,743.10H790.50M110.6,657.38H117.40M797.3,657.38H790.50M110.6,571.66H117.40M797.3,571.66H790.50M110.6,485.94H117.40M797.3,485.94H790.50M110.6,400.23H117.40M797.3,400.23H790.50M110.6,314.51H117.40M797.3,314.51H790.50M110.6,228.79H117.40M797.3,228.79H790.50M110.6,143.07H117.40M797.3,143.07H790.50M110.6,57.35H117.40M797.3,57.35H790.50" stroke="#555" stroke-width="1.6" fill="none"/>
<text class="tl" x="110.60" y="785.5" text-anchor="middle">0</text>
<text class="tl" x="332.12" y="785.5" text-anchor="middle">20</text>
<text class="tl" x="553.63" y="785.5" text-anchor="middle">40</text>
<text class="tl" x="775.15" y="785.5" text-anchor="middle">60</text>
<text class="tl" x="99.70" y="752.60" text-anchor="end">35</text>
<text class="tl" x="99.70" y="666.88" text-anchor="end">40</text>
<text class="tl" x="99.70" y="581.16" text-anchor="end">45</text>
<text class="tl" x="99.70" y="495.44" text-anchor="end">50</text>
<text class="tl" x="99.70" y="409.73" text-anchor="end">55</text>
<text class="tl" x="99.70" y="324.01" text-anchor="end">60</text>
<text class="tl" x="99.70" y="238.29" text-anchor="end">65</text>
<text class="tl" x="99.70" y="152.57" text-anchor="end">70</text>
<text class="tl" x="99.70" y="66.85" text-anchor="end">75</text>
<text class="lab" x="452.25" y="832" text-anchor="middle">Time [s]</text>
<clipPath id="cB"><rect x="960.1" y="57.35" width="686.97" height="685.75"/></clipPath>
<g clip-path="url(#cB)">
<path d="M960.1,701.5L962.1,701.5L964.1,701.5L966.1,701.5L968.1,701.5L970.1,701.5L972.1,701.5L974.1,701.5L976.1,701.5L978.1,701.4L980.1,701.4L982.1,701.4L984.1,701.4L986.1,701.4L988.1,701.3L990.1,701.3L992.1,701.3L994.1,701.2L996.1,701.1L998.1,700.4L1000.1,699.5L1002.1,698.3L1004.1,696.7L1006.1,694.7L1008.1,692.7L1010.1,690.8L1012.1,688.9L1014.1,687.0L1016.1,684.9L1018.1,682.8L1020.1,680.5L1022.1,678.1L1024.1,675.6L1026.1,673.1L1028.1,670.4L1030.1,667.6L1032.1,664.8L1034.1,661.9L1036.1,659.0L1038.1,656.0L1040.1,653.0L1042.1,650.0L1044.1,647.1L1046.1,644.1L1048.1,641.2L1050.1,638.2L1052.1,635.6L1054.1,632.9L1056.1,630.3L1058.1,627.6L1060.1,625.0L1062.1,622.4L1064.1,619.7L1066.1,617.1L1068.1,614.5L1070.1,611.9L1072.1,609.3L1074.1,606.7L1076.1,604.1L1078.1,601.5L1080.1,599.0L1082.1,596.4L1084.1,593.9L1086.1,591.3L1088.1,588.8L1090.1,586.3L1092.1,583.8L1094.1,581.3L1096.1,578.8L1098.1,576.3L1100.1,573.8L1102.1,571.4L1104.1,569.0L1106.1,566.5L1108.1,564.1L1110.1,561.7L1112.1,559.3L1114.1,556.9L1116.1,554.5L1118.1,552.2L1120.1,549.8L1122.1,547.5L1124.1,545.2L1126.1,542.9L1128.1,540.6L1130.1,538.3L1132.1,536.0L1134.1,533.8L1136.1,531.5L1138.1,529.3L1140.1,527.1L1142.1,524.9L1144.1,522.7L1146.1,520.5L1148.1,518.4L1150.1,516.2L1152.1,514.1L1154.1,512.0L1156.1,509.9L1158.1,507.8L1160.1,505.7L1162.1,503.7L1164.1,501.7L1166.1,499.6L1168.1,497.6L1170.1,495.6L1172.1,493.7L1174.1,491.7L1176.1,489.8L1178.1,487.8L1180.1,485.9L1182.1,484.0L1184.1,482.2L1186.1,480.3L1188.1,478.5L1190.1,476.6L1192.1,474.8L1194.1,473.1L1196.1,471.3L1198.1,469.5L1200.1,467.8L1202.1,466.1L1204.1,464.4L1206.1,462.7L1208.1,461.0L1210.1,459.3L1212.1,457.7L1214.1,456.0L1216.1,454.4L1218.1,452.8L1220.1,451.2L1222.1,449.7L1224.1,448.1L1226.1,446.5L1228.1,445.0L1230.1,443.5L1232.1,442.0L1234.1,440.5L1236.1,439.0L1238.1,437.5L1240.1,436.0L1242.1,434.6L1244.1,433.1L1246.1,431.7L1248.1,430.3L1250.1,428.9L1252.1,427.5L1254.1,426.1L1256.1,424.7L1258.1,423.3L1260.1,421.9L1262.1,420.6L1264.1,419.2L1266.1,417.9L1268.1,416.5L1270.1,415.2L1272.1,413.9L1274.1,412.5L1276.1,411.2L1278.1,409.9L1280.1,408.6L1282.1,407.3L1284.1,406.0L1286.1,404.7L1288.1,403.5L1290.1,402.2L1292.1,400.9L1294.1,399.7L1296.1,398.4L1298.1,397.1L1300.1,395.9L1302.1,394.6L1304.1,393.4L1306.1,392.2L1308.1,390.9L1310.1,389.7L1312.1,388.5L1314.1,387.3L1316.1,386.0L1318.1,384.8L1320.1,383.6L1322.1,382.4L1324.1,381.2L1326.1,380.1L1328.1,378.9L1330.1,377.7L1332.1,376.5L1334.1,375.3L1336.1,374.2L1338.1,373.0L1340.1,371.9L1342.1,370.7L1344.1,369.5L1346.1,368.4L1348.1,367.3L1350.1,366.1L1352.1,365.0L1354.1,363.9L1356.1,362.8L1358.1,361.6L1360.1,360.5L1362.1,359.4L1364.1,358.3L1366.1,357.2L1368.1,356.1L1370.1,355.0L1372.1,353.9L1374.1,352.9L1376.1,351.8L1378.1,350.7L1380.1,349.6L1382.1,348.6L1384.1,347.5L1386.1,346.5L1388.1,345.4L1390.1,344.4L1392.1,343.3L1394.1,342.3L1396.1,341.2L1398.1,340.2L1400.1,339.2L1402.1,338.2L1404.1,337.1L1406.1,336.1L1408.1,335.1L1410.1,334.1L1412.1,333.1L1414.1,332.1L1416.1,331.1L1418.1,330.1L1420.1,329.1L1422.1,328.1L1424.1,327.2L1426.1,326.2L1428.1,325.2L1430.1,324.3L1432.1,323.3L1434.1,322.3L1436.1,321.4L1438.1,320.4L1440.1,319.5L1442.1,318.5L1444.1,317.6L1446.1,316.7L1448.1,315.7L1450.1,314.8L1452.1,313.9L1454.1,313.0L1456.1,312.1L1458.1,311.1L1460.1,310.2L1462.1,309.3L1464.1,308.4L1466.1,307.5L1468.1,306.6L1470.1,305.7L1472.1,304.9L1474.1,304.0L1476.1,303.1L1478.1,302.2L1480.1,301.4L1482.1,300.5L1484.1,299.6L1486.1,298.8L1488.1,297.9L1490.1,297.0L1492.1,296.2L1494.1,295.3L1496.1,294.5L1498.1,293.7L1500.1,292.8L1502.1,292.0L1504.1,291.2L1506.1,290.3L1508.1,289.5L1510.1,288.7L1512.1,287.9L1514.1,287.1L1516.1,286.3L1518.1,285.5L1520.1,284.7L1522.1,283.9L1524.1,283.1L1526.1,282.3L1528.1,281.5L1530.1,280.7L1532.1,279.9L1534.1,279.1L1536.1,278.4L1538.1,277.6L1540.1,276.8L1542.1,276.1L1544.1,275.3L1546.1,274.5L1548.1,273.8L1550.1,273.0L1552.1,272.3L1554.1,271.5L1556.1,270.8L1558.1,270.0L1560.1,269.3L1562.1,268.6L1564.1,267.8L1566.1,267.1L1568.1,266.4L1570.1,265.7L1572.1,264.9L1574.1,264.2L1576.1,263.5L1578.1,262.8L1580.1,262.1L1582.1,261.4L1584.1,260.7L1586.1,260.0L1588.1,259.3L1590.1,258.6L1592.1,257.9L1594.1,257.2L1596.1,256.5L1598.1,255.9L1600.1,255.2L1602.1,254.5L1604.1,253.8L1606.1,253.2L1608.1,252.5L1610.1,251.8L1612.1,251.2L1614.1,250.5L1616.1,249.9L1618.1,249.2L1620.1,248.5L1622.1,247.9L1624.1,247.3L1626.1,246.6L1628.1,246.0L1630.1,245.3L1632.1,244.7L1634.1,244.1L1636.1,243.4L1638.1,242.8L1640.1,242.2L1642.1,241.6L1644.1,240.9L1646.1,240.3L1647.1,240.0L1647.1,471.0L1646.1,471.2L1644.1,471.6L1642.1,472.0L1640.1,472.3L1638.1,472.7L1636.1,473.1L1634.1,473.5L1632.1,473.9L1630.1,474.3L1628.1,474.7L1626.1,475.2L1624.1,475.6L1622.1,476.0L1620.1,476.4L1618.1,476.8L1616.1,477.2L1614.1,477.6L1612.1,478.1L1610.1,478.5L1608.1,478.9L1606.1,479.4L1604.1,479.8L1602.1,480.2L1600.1,480.7L1598.1,481.1L1596.1,481.5L1594.1,482.0L1592.1,482.4L1590.1,482.9L1588.1,483.3L1586.1,483.8L1584.1,484.2L1582.1,484.7L1580.1,485.1L1578.1,485.6L1576.1,486.1L1574.1,486.5L1572.1,487.0L1570.1,487.5L1568.1,488.0L1566.1,488.4L1564.1,488.9L1562.1,489.4L1560.1,489.9L1558.1,490.3L1556.1,490.8L1554.1,491.3L1552.1,491.8L1550.1,492.3L1548.1,492.8L1546.1,493.3L1544.1,493.8L1542.1,494.3L1540.1,494.8L1538.1,495.3L1536.1,495.8L1534.1,496.3L1532.1,496.8L1530.1,497.4L1528.1,497.9L1526.1,498.4L1524.1,498.9L1522.1,499.4L1520.1,500.0L1518.1,500.5L1516.1,501.0L1514.1,501.6L1512.1,502.1L1510.1,502.6L1508.1,503.2L1506.1,503.7L1504.1,504.3L1502.1,504.8L1500.1,505.4L1498.1,505.9L1496.1,506.5L1494.1,507.0L1492.1,507.6L1490.1,508.1L1488.1,508.7L1486.1,509.3L1484.1,509.8L1482.1,510.4L1480.1,511.0L1478.1,511.5L1476.1,512.1L1474.1,512.7L1472.1,513.3L1470.1,513.9L1468.1,514.5L1466.1,515.0L1464.1,515.6L1462.1,516.2L1460.1,516.8L1458.1,517.4L1456.1,518.0L1454.1,518.6L1452.1,519.2L1450.1,519.8L1448.1,520.4L1446.1,521.0L1444.1,521.7L1442.1,522.3L1440.1,522.9L1438.1,523.5L1436.1,524.1L1434.1,524.8L1432.1,525.4L1430.1,526.0L1428.1,526.6L1426.1,527.3L1424.1,527.9L1422.1,528.5L1420.1,529.2L1418.1,529.8L1416.1,530.5L1414.1,531.1L1412.1,531.8L1410.1,532.4L1408.1,533.1L1406.1,533.7L1404.1,534.4L1402.1,535.0L1400.1,535.7L1398.1,536.4L1396.1,537.0L1394.1,537.7L1392.1,538.4L1390.1,539.1L1388.1,539.7L1386.1,540.4L1384.1,541.1L1382.1,541.8L1380.1,542.5L1378.1,543.2L1376.1,543.8L1374.1,544.5L1372.1,545.2L1370.1,545.9L1368.1,546.6L1366.1,547.3L1364.1,548.0L1362.1,548.7L1360.1,549.4L1358.1,550.2L1356.1,550.9L1354.1,551.6L1352.1,552.3L1350.1,553.0L1348.1,553.7L1346.1,554.5L1344.1,555.2L1342.1,555.9L1340.1,556.7L1338.1,557.4L1336.1,558.1L1334.1,558.9L1332.1,559.6L1330.1,560.3L1328.1,561.1L1326.1,561.8L1324.1,562.6L1322.1,563.3L1320.1,564.1L1318.1,564.9L1316.1,565.6L1314.1,566.4L1312.1,567.1L1310.1,567.9L1308.1,568.7L1306.1,569.4L1304.1,570.2L1302.1,571.0L1300.1,571.8L1298.1,572.5L1296.1,573.3L1294.1,574.1L1292.1,574.9L1290.1,575.7L1288.1,576.5L1286.1,577.3L1284.1,578.1L1282.1,578.9L1280.1,579.7L1278.1,580.5L1276.1,581.3L1274.1,582.1L1272.1,582.9L1270.1,583.7L1268.1,584.5L1266.1,585.3L1264.1,586.2L1262.1,587.0L1260.1,587.8L1258.1,588.6L1256.1,589.4L1254.1,590.3L1252.1,591.1L1250.1,591.9L1248.1,592.8L1246.1,593.6L1244.1,594.5L1242.1,595.3L1240.1,596.2L1238.1,597.0L1236.1,597.9L1234.1,598.7L1232.1,599.6L1230.1,600.4L1228.1,601.3L1226.1,602.1L1224.1,603.0L1222.1,603.9L1220.1,604.7L1218.1,605.6L1216.1,606.5L1214.1,607.4L1212.1,608.3L1210.1,609.1L1208.1,610.0L1206.1,610.9L1204.1,611.8L1202.1,612.7L1200.1,613.6L1198.1,614.5L1196.1,615.4L1194.1,616.3L1192.1,617.2L1190.1,618.1L1188.1,619.0L1186.1,619.9L1184.1,620.8L1182.1,621.7L1180.1,622.6L1178.1,623.6L1176.1,624.5L1174.1,625.4L1172.1,626.3L1170.1,627.2L1168.1,628.2L1166.1,629.1L1164.1,630.0L1162.1,631.0L1160.1,631.9L1158.1,632.9L1156.1,633.8L1154.1,634.8L1152.1,635.7L1150.1,636.7L1148.1,637.6L1146.1,638.6L1144.1,639.5L1142.1,640.5L1140.1,641.4L1138.1,642.4L1136.1,643.4L1134.1,644.3L1132.1,645.3L1130.1,646.3L1128.1,647.3L1126.1,648.3L1124.1,649.2L1122.1,650.2L1120.1,651.2L1118.1,652.2L1116.1,653.2L1114.1,654.2L1112.1,655.2L1110.1,656.2L1108.1,657.2L1106.1,658.2L1104.1,659.2L1102.1,660.2L1100.1,661.2L1098.1,662.2L1096.1,663.2L1094.1,664.2L1092.1,665.3L1090.1,666.3L1088.1,667.3L1086.1,668.3L1084.1,669.4L1082.1,670.4L1080.1,671.4L1078.1,672.5L1076.1,673.5L1074.1,674.5L1072.1,675.6L1070.1,676.6L1068.1,677.7L1066.1,678.7L1064.1,679.8L1062.1,680.8L1060.1,681.9L1058.1,682.9L1056.1,684.0L1054.1,685.1L1052.1,686.1L1050.1,687.1L1048.1,688.2L1046.1,689.2L1044.1,690.3L1042.1,691.4L1040.1,692.4L1038.1,693.5L1036.1,694.6L1034.1,695.6L1032.1,696.6L1030.1,697.6L1028.1,698.5L1026.1,699.4L1024.1,700.1L1022.1,700.8L1020.1,701.3L1018.1,701.7L1016.1,702.1L1014.1,702.4L1012.1,702.9L1010.1,703.3L1008.1,703.6L1006.1,704.0L1004.1,704.2L1002.1,704.4L1000.1,704.5L998.1,704.5L996.1,704.6L994.1,704.6L992.1,704.7L990.1,704.7L988.1,704.8L986.1,704.8L984.1,704.8L982.1,704.9L980.1,704.9L978.1,704.9L976.1,704.9L974.1,704.9L972.1,705.0L970.1,705.0L968.1,705.0L966.1,705.0L964.1,705.0L962.1,705.0L960.1,705.0Z" fill="rgb(51,122,188)" fill-opacity="0.27"/>
<path d="M960.1,702.0L962.1,702.0L964.1,702.0L966.1,702.0L968.1,702.0L970.1,702.0L972.1,702.0L974.1,701.9L976.1,701.9L978.1,701.9L980.1,701.9L982.1,701.8L984.1,701.8L986.1,701.8L988.1,701.8L990.1,701.7L992.1,701.7L994.1,701.6L996.1,701.6L998.1,701.5L1000.1,701.5L1002.1,701.4L1004.1,701.2L1006.1,700.9L1008.1,700.5L1010.1,700.1L1012.1,699.6L1014.1,699.0L1016.1,698.5L1018.1,697.9L1020.1,697.2L1022.1,696.6L1024.1,696.0L1026.1,695.4L1028.1,694.7L1030.1,694.1L1032.1,693.5L1034.1,692.9L1036.1,692.2L1038.1,691.6L1040.1,690.9L1042.1,690.2L1044.1,689.5L1046.1,688.8L1048.1,688.1L1050.1,687.4L1052.1,686.7L1054.1,686.1L1056.1,685.4L1058.1,684.6L1060.1,683.9L1062.1,683.2L1064.1,682.4L1066.1,681.7L1068.1,680.9L1070.1,680.2L1072.1,679.4L1074.1,678.6L1076.1,677.9L1078.1,677.1L1080.1,676.3L1082.1,675.5L1084.1,674.7L1086.1,673.9L1088.1,673.1L1090.1,672.3L1092.1,671.5L1094.1,670.7L1096.1,669.9L1098.1,669.1L1100.1,668.3L1102.1,667.5L1104.1,666.6L1106.1,665.8L1108.1,665.0L1110.1,664.1L1112.1,663.3L1114.1,662.4L1116.1,661.6L1118.1,660.7L1120.1,659.8L1122.1,659.0L1124.1,658.1L1126.1,657.2L1128.1,656.4L1130.1,655.5L1132.1,654.6L1134.1,653.7L1136.1,652.8L1138.1,652.0L1140.1,651.1L1142.1,650.2L1144.1,649.3L1146.1,648.4L1148.1,647.5L1150.1,646.5L1152.1,645.6L1154.1,644.7L1156.1,643.8L1158.1,642.9L1160.1,641.9L1162.1,641.0L1164.1,640.1L1166.1,639.2L1168.1,638.2L1170.1,637.3L1172.1,636.3L1174.1,635.4L1176.1,634.4L1178.1,633.5L1180.1,632.5L1182.1,631.6L1184.1,630.6L1186.1,629.7L1188.1,628.7L1190.1,627.7L1192.1,626.8L1194.1,625.8L1196.1,624.8L1198.1,623.9L1200.1,622.9L1202.1,621.9L1204.1,620.9L1206.1,619.9L1208.1,619.0L1210.1,618.0L1212.1,617.0L1214.1,616.0L1216.1,615.0L1218.1,614.0L1220.1,613.0L1222.1,612.0L1224.1,611.0L1226.1,610.0L1228.1,609.0L1230.1,608.0L1232.1,607.0L1234.1,606.0L1236.1,605.0L1238.1,604.0L1240.1,603.0L1242.1,601.9L1244.1,600.9L1246.1,599.9L1248.1,598.9L1250.1,597.9L1252.1,596.9L1254.1,595.8L1256.1,594.8L1258.1,593.8L1260.1,592.8L1262.1,591.7L1264.1,590.7L1266.1,589.7L1268.1,588.7L1270.1,587.6L1272.1,586.6L1274.1,585.6L1276.1,584.5L1278.1,583.5L1280.1,582.5L1282.1,581.4L1284.1,580.4L1286.1,579.4L1288.1,578.3L1290.1,577.3L1292.1,576.2L1294.1,575.2L1296.1,574.2L1298.1,573.1L1300.1,572.1L1302.1,571.1L1304.1,570.0L1306.1,569.0L1308.1,567.9L1310.1,566.9L1312.1,565.9L1314.1,564.8L1316.1,563.8L1318.1,562.7L1320.1,561.7L1322.1,560.6L1324.1,559.6L1326.1,558.6L1328.1,557.5L1330.1,556.5L1332.1,555.4L1334.1,554.4L1336.1,553.4L1338.1,552.3L1340.1,551.3L1342.1,550.2L1344.1,549.2L1346.1,548.2L1348.1,547.1L1350.1,546.1L1352.1,545.1L1354.1,544.0L1356.1,543.0L1358.1,542.0L1360.1,540.9L1362.1,539.9L1364.1,538.9L1366.1,537.8L1368.1,536.8L1370.1,535.8L1372.1,534.7L1374.1,533.7L1376.1,532.7L1378.1,531.7L1380.1,530.6L1382.1,529.6L1384.1,528.6L1386.1,527.6L1388.1,526.5L1390.1,525.5L1392.1,524.5L1394.1,523.5L1396.1,522.5L1398.1,521.5L1400.1,520.5L1402.1,519.4L1404.1,518.4L1406.1,517.4L1408.1,516.4L1410.1,515.4L1412.1,514.4L1414.1,513.4L1416.1,512.4L1418.1,511.4L1420.1,510.4L1422.1,509.4L1424.1,508.4L1426.1,507.4L1428.1,506.5L1430.1,505.5L1432.1,504.5L1434.1,503.5L1436.1,502.5L1438.1,501.6L1440.1,500.6L1442.1,499.6L1444.1,498.6L1446.1,497.7L1448.1,496.7L1450.1,495.7L1452.1,494.8L1454.1,493.8L1456.1,492.9L1458.1,491.9L1460.1,491.0L1462.1,490.0L1464.1,489.1L1466.1,488.1L1468.1,487.2L1470.1,486.2L1472.1,485.3L1474.1,484.4L1476.1,483.4L1478.1,482.5L1480.1,481.6L1482.1,480.7L1484.1,479.7L1486.1,478.8L1488.1,477.9L1490.1,477.0L1492.1,476.1L1494.1,475.2L1496.1,474.3L1498.1,473.4L1500.1,472.5L1502.1,471.6L1504.1,470.7L1506.1,469.9L1508.1,469.0L1510.1,468.1L1512.1,467.2L1514.1,466.4L1516.1,465.5L1518.1,464.6L1520.1,463.8L1522.1,462.9L1524.1,462.1L1526.1,461.2L1528.1,460.4L1530.1,459.5L1532.1,458.7L1534.1,457.9L1536.1,457.0L1538.1,456.2L1540.1,455.4L1542.1,454.6L1544.1,453.8L1546.1,453.0L1548.1,452.2L1550.1,451.4L1552.1,450.6L1554.1,449.8L1556.1,449.0L1558.1,448.2L1560.1,447.4L1562.1,446.6L1564.1,445.9L1566.1,445.1L1568.1,444.3L1570.1,443.6L1572.1,442.8L1574.1,442.1L1576.1,441.4L1578.1,440.6L1580.1,439.9L1582.1,439.2L1584.1,438.4L1586.1,437.7L1588.1,437.0L1590.1,436.3L1592.1,435.6L1594.1,434.9L1596.1,434.2L1598.1,433.5L1600.1,432.8L1602.1,432.1L1604.1,431.5L1606.1,430.8L1608.1,430.1L1610.1,429.5L1612.1,428.8L1614.1,428.2L1616.1,427.5L1618.1,426.9L1620.1,426.3L1622.1,425.6L1624.1,425.0L1626.1,424.4L1628.1,423.8L1630.1,423.2L1632.1,422.6L1634.1,422.0L1636.1,421.4L1638.1,420.8L1640.1,420.3L1642.1,419.7L1644.1,419.1L1646.1,418.6L1647.1,418.3L1647.1,548.7L1646.1,548.9L1644.1,549.1L1642.1,549.3L1640.1,549.6L1638.1,549.9L1636.1,550.1L1634.1,550.4L1632.1,550.7L1630.1,550.9L1628.1,551.2L1626.1,551.5L1624.1,551.8L1622.1,552.1L1620.1,552.4L1618.1,552.7L1616.1,553.0L1614.1,553.3L1612.1,553.6L1610.1,553.9L1608.1,554.2L1606.1,554.6L1604.1,554.9L1602.1,555.2L1600.1,555.6L1598.1,555.9L1596.1,556.3L1594.1,556.6L1592.1,557.0L1590.1,557.3L1588.1,557.7L1586.1,558.1L1584.1,558.4L1582.1,558.8L1580.1,559.2L1578.1,559.6L1576.1,560.0L1574.1,560.4L1572.1,560.7L1570.1,561.1L1568.1,561.5L1566.1,561.9L1564.1,562.4L1562.1,562.8L1560.1,563.2L1558.1,563.6L1556.1,564.0L1554.1,564.4L1552.1,564.9L1550.1,565.3L1548.1,565.7L1546.1,566.2L1544.1,566.6L1542.1,567.1L1540.1,567.5L1538.1,568.0L1536.1,568.4L1534.1,568.9L1532.1,569.3L1530.1,569.8L1528.1,570.3L1526.1,570.7L1524.1,571.2L1522.1,571.7L1520.1,572.2L1518.1,572.6L1516.1,573.1L1514.1,573.6L1512.1,574.1L1510.1,574.6L1508.1,575.1L1506.1,575.6L1504.1,576.1L1502.1,576.6L1500.1,577.1L1498.1,577.6L1496.1,578.1L1494.1,578.6L1492.1,579.1L1490.1,579.7L1488.1,580.2L1486.1,580.7L1484.1,581.2L1482.1,581.7L1480.1,582.3L1478.1,582.8L1476.1,583.3L1474.1,583.9L1472.1,584.4L1470.1,585.0L1468.1,585.5L1466.1,586.1L1464.1,586.6L1462.1,587.2L1460.1,587.7L1458.1,588.3L1456.1,588.8L1454.1,589.4L1452.1,589.9L1450.1,590.5L1448.1,591.1L1446.1,591.6L1444.1,592.2L1442.1,592.8L1440.1,593.3L1438.1,593.9L1436.1,594.5L1434.1,595.1L1432.1,595.6L1430.1,596.2L1428.1,596.8L1426.1,597.4L1424.1,598.0L1422.1,598.5L1420.1,599.1L1418.1,599.7L1416.1,600.3L1414.1,600.9L1412.1,601.5L1410.1,602.1L1408.1,602.7L1406.1,603.3L1404.1,603.9L1402.1,604.5L1400.1,605.1L1398.1,605.7L1396.1,606.3L1394.1,606.9L1392.1,607.5L1390.1,608.1L1388.1,608.7L1386.1,609.3L1384.1,609.9L1382.1,610.5L1380.1,611.1L1378.1,611.8L1376.1,612.4L1374.1,613.0L1372.1,613.6L1370.1,614.2L1368.1,614.8L1366.1,615.4L1364.1,616.1L1362.1,616.7L1360.1,617.3L1358.1,617.9L1356.1,618.5L1354.1,619.2L1352.1,619.8L1350.1,620.4L1348.1,621.0L1346.1,621.6L1344.1,622.3L1342.1,622.9L1340.1,623.5L1338.1,624.1L1336.1,624.8L1334.1,625.4L1332.1,626.0L1330.1,626.6L1328.1,627.3L1326.1,627.9L1324.1,628.5L1322.1,629.1L1320.1,629.8L1318.1,630.4L1316.1,631.0L1314.1,631.6L1312.1,632.3L1310.1,632.9L1308.1,633.5L1306.1,634.1L1304.1,634.8L1302.1,635.4L1300.1,636.0L1298.1,636.6L1296.1,637.3L1294.1,637.9L1292.1,638.5L1290.1,639.1L1288.1,639.8L1286.1,640.4L1284.1,641.0L1282.1,641.6L1280.1,642.2L1278.1,642.9L1276.1,643.5L1274.1,644.1L1272.1,644.7L1270.1,645.3L1268.1,646.0L1266.1,646.6L1264.1,647.2L1262.1,647.8L1260.1,648.4L1258.1,649.0L1256.1,649.6L1254.1,650.2L1252.1,650.9L1250.1,651.5L1248.1,652.1L1246.1,652.7L1244.1,653.3L1242.1,653.9L1240.1,654.5L1238.1,655.1L1236.1,655.7L1234.1,656.3L1232.1,656.9L1230.1,657.5L1228.1,658.1L1226.1,658.7L1224.1,659.3L1222.1,659.9L1220.1,660.5L1218.1,661.1L1216.1,661.7L1214.1,662.3L1212.1,662.8L1210.1,663.4L1208.1,664.0L1206.1,664.6L1204.1,665.2L1202.1,665.8L1200.1,666.3L1198.1,666.9L1196.1,667.5L1194.1,668.0L1192.1,668.6L1190.1,669.2L1188.1,669.8L1186.1,670.3L1184.1,670.9L1182.1,671.4L1180.1,672.0L1178.1,672.6L1176.1,673.1L1174.1,673.7L1172.1,674.2L1170.1,674.8L1168.1,675.3L1166.1,675.9L1164.1,676.4L1162.1,676.9L1160.1,677.5L1158.1,678.0L1156.1,678.6L1154.1,679.1L1152.1,679.6L1150.1,680.1L1148.1,680.7L1146.1,681.2L1144.1,681.7L1142.1,682.2L1140.1,682.7L1138.1,683.3L1136.1,683.8L1134.1,684.3L1132.1,684.8L1130.1,685.3L1128.1,685.8L1126.1,686.3L1124.1,686.8L1122.1,687.3L1120.1,687.7L1118.1,688.2L1116.1,688.7L1114.1,689.2L1112.1,689.7L1110.1,690.1L1108.1,690.6L1106.1,691.1L1104.1,691.6L1102.1,692.0L1100.1,692.5L1098.1,692.9L1096.1,693.4L1094.1,693.8L1092.1,694.3L1090.1,694.7L1088.1,695.2L1086.1,695.6L1084.1,696.0L1082.1,696.5L1080.1,696.9L1078.1,697.3L1076.1,697.7L1074.1,698.1L1072.1,698.6L1070.1,699.0L1068.1,699.4L1066.1,699.8L1064.1,700.2L1062.1,700.6L1060.1,701.0L1058.1,701.4L1056.1,701.7L1054.1,702.1L1052.1,702.4L1050.1,702.8L1048.1,703.1L1046.1,703.4L1044.1,703.6L1042.1,703.8L1040.1,704.0L1038.1,704.2L1036.1,704.4L1034.1,704.5L1032.1,704.6L1030.1,704.6L1028.1,704.7L1026.1,704.7L1024.1,704.7L1022.1,704.6L1020.1,704.5L1018.1,704.4L1016.1,704.3L1014.1,704.3L1012.1,704.3L1010.1,704.4L1008.1,704.4L1006.1,704.5L1004.1,704.5L1002.1,704.5L1000.1,704.5L998.1,704.5L996.1,704.5L994.1,704.5L992.1,704.5L990.1,704.5L988.1,704.5L986.1,704.5L984.1,704.5L982.1,704.5L980.1,704.5L978.1,704.5L976.1,704.5L974.1,704.5L972.1,704.5L970.1,704.5L968.1,704.5L966.1,704.5L964.1,704.5L962.1,704.5L960.1,704.5Z" fill="rgb(199,92,36)" fill-opacity="0.27"/>
<path d="M960.1,702.5L962.1,702.5L964.1,702.5L966.1,702.5L968.1,702.5L970.1,702.5L972.1,702.5L974.1,702.5L976.1,702.5L978.1,702.5L980.1,702.5L982.1,702.5L984.1,702.5L986.1,702.5L988.1,702.4L990.1,702.4L992.1,702.4L994.1,702.4L996.1,702.4L998.1,702.4L1000.1,702.4L1002.1,702.4L1004.1,702.3L1006.1,702.3L1008.1,702.2L1010.1,702.1L1012.1,702.0L1014.1,701.9L1016.1,701.7L1018.1,701.5L1020.1,701.3L1022.1,701.0L1024.1,700.7L1026.1,700.4L1028.1,700.1L1030.1,699.8L1032.1,699.5L1034.1,699.2L1036.1,698.9L1038.1,698.6L1040.1,698.2L1042.1,697.9L1044.1,697.6L1046.1,697.2L1048.1,696.9L1050.1,696.6L1052.1,696.2L1054.1,695.9L1056.1,695.6L1058.1,695.4L1060.1,695.1L1062.1,694.9L1064.1,694.7L1066.1,694.4L1068.1,694.2L1070.1,694.0L1072.1,693.7L1074.1,693.5L1076.1,693.2L1078.1,693.0L1080.1,692.8L1082.1,692.5L1084.1,692.3L1086.1,692.0L1088.1,691.8L1090.1,691.6L1092.1,691.3L1094.1,691.1L1096.1,690.8L1098.1,690.6L1100.1,690.4L1102.1,690.1L1104.1,689.9L1106.1,689.6L1108.1,689.4L1110.1,689.1L1112.1,688.9L1114.1,688.7L1116.1,688.4L1118.1,688.2L1120.1,687.9L1122.1,687.7L1124.1,687.4L1126.1,687.2L1128.1,686.9L1130.1,686.7L1132.1,686.5L1134.1,686.2L1136.1,686.0L1138.1,685.7L1140.1,685.5L1142.1,685.2L1144.1,685.0L1146.1,684.7L1148.1,684.5L1150.1,684.2L1152.1,684.0L1154.1,683.7L1156.1,683.5L1158.1,683.2L1160.1,683.0L1162.1,682.7L1164.1,682.5L1166.1,682.2L1168.1,682.0L1170.1,681.7L1172.1,681.5L1174.1,681.2L1176.1,680.9L1178.1,680.7L1180.1,680.4L1182.1,680.2L1184.1,679.9L1186.1,679.7L1188.1,679.4L1190.1,679.1L1192.1,678.9L1194.1,678.6L1196.1,678.4L1198.1,678.1L1200.1,677.9L1202.1,677.6L1204.1,677.3L1206.1,677.1L1208.1,676.8L1210.1,676.5L1212.1,676.3L1214.1,676.0L1216.1,675.8L1218.1,675.5L1220.1,675.2L1222.1,675.0L1224.1,674.7L1226.1,674.4L1228.1,674.2L1230.1,673.9L1232.1,673.6L1234.1,673.3L1236.1,673.1L1238.1,672.8L1240.1,672.5L1242.1,672.3L1244.1,672.0L1246.1,671.7L1248.1,671.4L1250.1,671.2L1252.1,670.9L1254.1,670.6L1256.1,670.3L1258.1,670.1L1260.1,669.8L1262.1,669.5L1264.1,669.2L1266.1,669.0L1268.1,668.7L1270.1,668.4L1272.1,668.1L1274.1,667.8L1276.1,667.6L1278.1,667.3L1280.1,667.0L1282.1,666.7L1284.1,666.4L1286.1,666.1L1288.1,665.8L1290.1,665.6L1292.1,665.3L1294.1,665.0L1296.1,664.7L1298.1,664.4L1300.1,664.1L1302.1,663.8L1304.1,663.5L1306.1,663.2L1308.1,662.9L1310.1,662.6L1312.1,662.3L1314.1,662.1L1316.1,661.8L1318.1,661.5L1320.1,661.2L1322.1,660.9L1324.1,660.6L1326.1,660.3L1328.1,660.0L1330.1,659.7L1332.1,659.4L1334.1,659.0L1336.1,658.7L1338.1,658.4L1340.1,658.1L1342.1,657.8L1344.1,657.5L1346.1,657.2L1348.1,656.9L1350.1,656.6L1352.1,656.3L1354.1,656.0L1356.1,655.6L1358.1,655.3L1360.1,655.0L1362.1,654.7L1364.1,654.4L1366.1,654.1L1368.1,653.7L1370.1,653.4L1372.1,653.1L1374.1,652.8L1376.1,652.5L1378.1,652.1L1380.1,651.8L1382.1,651.5L1384.1,651.2L1386.1,650.8L1388.1,650.5L1390.1,650.2L1392.1,649.8L1394.1,649.5L1396.1,649.2L1398.1,648.9L1400.1,648.5L1402.1,648.2L1404.1,647.8L1406.1,647.5L1408.1,647.2L1410.1,646.8L1412.1,646.5L1414.1,646.2L1416.1,645.8L1418.1,645.5L1420.1,645.1L1422.1,644.8L1424.1,644.4L1426.1,644.1L1428.1,643.7L1430.1,643.4L1432.1,643.0L1434.1,642.7L1436.1,642.3L1438.1,642.0L1440.1,641.6L1442.1,641.3L1444.1,640.9L1446.1,640.6L1448.1,640.2L1450.1,639.8L1452.1,639.5L1454.1,639.1L1456.1,638.8L1458.1,638.4L1460.1,638.0L1462.1,637.7L1464.1,637.3L1466.1,636.9L1468.1,636.6L1470.1,636.2L1472.1,635.8L1474.1,635.4L1476.1,635.1L1478.1,634.7L1480.1,634.3L1482.1,633.9L1484.1,633.6L1486.1,633.2L1488.1,632.8L1490.1,632.4L1492.1,632.0L1494.1,631.6L1496.1,631.3L1498.1,630.9L1500.1,630.5L1502.1,630.1L1504.1,629.7L1506.1,629.3L1508.1,628.9L1510.1,628.5L1512.1,628.1L1514.1,627.7L1516.1,627.3L1518.1,626.9L1520.1,626.5L1522.1,626.1L1524.1,625.7L1526.1,625.3L1528.1,624.9L1530.1,624.5L1532.1,624.1L1534.1,623.7L1536.1,623.3L1538.1,622.9L1540.1,622.4L1542.1,622.0L1544.1,621.6L1546.1,621.2L1548.1,620.8L1550.1,620.3L1552.1,619.9L1554.1,619.5L1556.1,619.1L1558.1,618.7L1560.1,618.2L1562.1,617.8L1564.1,617.4L1566.1,616.9L1568.1,616.5L1570.1,616.1L1572.1,615.6L1574.1,615.2L1576.1,614.8L1578.1,614.3L1580.1,613.9L1582.1,613.4L1584.1,613.0L1586.1,612.5L1588.1,612.1L1590.1,611.6L1592.1,611.2L1594.1,610.7L1596.1,610.3L1598.1,609.8L1600.1,609.4L1602.1,608.9L1604.1,608.5L1606.1,608.0L1608.1,607.5L1610.1,607.1L1612.1,606.6L1614.1,606.1L1616.1,605.7L1618.1,605.2L1620.1,604.7L1622.1,604.3L1624.1,603.8L1626.1,603.3L1628.1,602.8L1630.1,602.4L1632.1,601.9L1634.1,601.4L1636.1,600.9L1638.1,600.4L1640.1,599.9L1642.1,599.5L1644.1,599.0L1646.1,598.5L1647.1,598.2L1647.1,633.0L1646.1,633.1L1644.1,633.3L1642.1,633.5L1640.1,633.7L1638.1,633.9L1636.1,634.1L1634.1,634.3L1632.1,634.5L1630.1,634.7L1628.1,634.9L1626.1,635.1L1624.1,635.3L1622.1,635.6L1620.1,635.8L1618.1,636.0L1616.1,636.2L1614.1,636.4L1612.1,636.6L1610.1,636.9L1608.1,637.1L1606.1,637.3L1604.1,637.5L1602.1,637.8L1600.1,638.0L1598.1,638.2L1596.1,638.5L1594.1,638.7L1592.1,638.9L1590.1,639.2L1588.1,639.4L1586.1,639.6L1584.1,639.9L1582.1,640.1L1580.1,640.3L1578.1,640.6L1576.1,640.8L1574.1,641.1L1572.1,641.3L1570.1,641.6L1568.1,641.8L1566.1,642.0L1564.1,642.3L1562.1,642.5L1560.1,642.8L1558.1,643.0L1556.1,643.3L1554.1,643.5L1552.1,643.8L1550.1,644.1L1548.1,644.3L1546.1,644.6L1544.1,644.8L1542.1,645.1L1540.1,645.3L1538.1,645.6L1536.1,645.9L1534.1,646.1L1532.1,646.4L1530.1,646.7L1528.1,646.9L1526.1,647.2L1524.1,647.4L1522.1,647.7L1520.1,648.0L1518.1,648.2L1516.1,648.5L1514.1,648.8L1512.1,649.1L1510.1,649.3L1508.1,649.6L1506.1,649.9L1504.1,650.1L1502.1,650.4L1500.1,650.7L1498.1,651.0L1496.1,651.2L1494.1,651.5L1492.1,651.8L1490.1,652.1L1488.1,652.3L1486.1,652.6L1484.1,652.9L1482.1,653.2L1480.1,653.5L1478.1,653.7L1476.1,654.0L1474.1,654.3L1472.1,654.6L1470.1,654.9L1468.1,655.2L1466.1,655.4L1464.1,655.7L1462.1,656.0L1460.1,656.3L1458.1,656.6L1456.1,656.9L1454.1,657.1L1452.1,657.4L1450.1,657.7L1448.1,658.0L1446.1,658.3L1444.1,658.6L1442.1,658.9L1440.1,659.1L1438.1,659.4L1436.1,659.7L1434.1,660.0L1432.1,660.3L1430.1,660.6L1428.1,660.9L1426.1,661.2L1424.1,661.5L1422.1,661.7L1420.1,662.0L1418.1,662.3L1416.1,662.6L1414.1,662.9L1412.1,663.2L1410.1,663.5L1408.1,663.8L1406.1,664.1L1404.1,664.4L1402.1,664.6L1400.1,664.9L1398.1,665.2L1396.1,665.5L1394.1,665.8L1392.1,666.1L1390.1,666.4L1388.1,666.7L1386.1,667.0L1384.1,667.3L1382.1,667.6L1380.1,667.8L1378.1,668.1L1376.1,668.4L1374.1,668.7L1372.1,669.0L1370.1,669.3L1368.1,669.6L1366.1,669.9L1364.1,670.2L1362.1,670.5L1360.1,670.7L1358.1,671.0L1356.1,671.3L1354.1,671.6L1352.1,671.9L1350.1,672.2L1348.1,672.5L1346.1,672.8L1344.1,673.0L1342.1,673.3L1340.1,673.6L1338.1,673.9L1336.1,674.2L1334.1,674.5L1332.1,674.8L1330.1,675.0L1328.1,675.3L1326.1,675.6L1324.1,675.9L1322.1,676.2L1320.1,676.5L1318.1,676.7L1316.1,677.0L1314.1,677.3L1312.1,677.6L1310.1,677.9L1308.1,678.1L1306.1,678.4L1304.1,678.7L1302.1,679.0L1300.1,679.2L1298.1,679.5L1296.1,679.8L1294.1,680.1L1292.1,680.4L1290.1,680.6L1288.1,680.9L1286.1,681.2L1284.1,681.4L1282.1,681.7L1280.1,682.0L1278.1,682.3L1276.1,682.5L1274.1,682.8L1272.1,683.1L1270.1,683.3L1268.1,683.6L1266.1,683.9L1264.1,684.1L1262.1,684.4L1260.1,684.7L1258.1,684.9L1256.1,685.2L1254.1,685.4L1252.1,685.7L1250.1,686.0L1248.1,686.2L1246.1,686.5L1244.1,686.7L1242.1,687.0L1240.1,687.2L1238.1,687.5L1236.1,687.7L1234.1,688.0L1232.1,688.2L1230.1,688.5L1228.1,688.7L1226.1,689.0L1224.1,689.2L1222.1,689.5L1220.1,689.7L1218.1,690.0L1216.1,690.2L1214.1,690.5L1212.1,690.7L1210.1,690.9L1208.1,691.2L1206.1,691.4L1204.1,691.7L1202.1,691.9L1200.1,692.1L1198.1,692.4L1196.1,692.6L1194.1,692.8L1192.1,693.0L1190.1,693.3L1188.1,693.5L1186.1,693.7L1184.1,693.9L1182.1,694.2L1180.1,694.4L1178.1,694.6L1176.1,694.8L1174.1,695.0L1172.1,695.3L1170.1,695.5L1168.1,695.7L1166.1,695.9L1164.1,696.1L1162.1,696.3L1160.1,696.5L1158.1,696.7L1156.1,696.9L1154.1,697.1L1152.1,697.4L1150.1,697.6L1148.1,697.8L1146.1,698.0L1144.1,698.1L1142.1,698.3L1140.1,698.5L1138.1,698.7L1136.1,698.9L1134.1,699.1L1132.1,699.3L1130.1,699.5L1128.1,699.7L1126.1,699.8L1124.1,700.0L1122.1,700.2L1120.1,700.4L1118.1,700.6L1116.1,700.7L1114.1,700.9L1112.1,701.1L1110.1,701.2L1108.1,701.4L1106.1,701.6L1104.1,701.7L1102.1,701.9L1100.1,702.1L1098.1,702.2L1096.1,702.4L1094.1,702.5L1092.1,702.7L1090.1,702.8L1088.1,703.0L1086.1,703.1L1084.1,703.3L1082.1,703.4L1080.1,703.6L1078.1,703.7L1076.1,703.9L1074.1,704.0L1072.1,704.1L1070.1,704.3L1068.1,704.4L1066.1,704.5L1064.1,704.6L1062.1,704.8L1060.1,704.9L1058.1,705.0L1056.1,705.1L1054.1,705.2L1052.1,705.3L1050.1,705.3L1048.1,705.3L1046.1,705.4L1044.1,705.4L1042.1,705.4L1040.1,705.4L1038.1,705.4L1036.1,705.3L1034.1,705.3L1032.1,705.3L1030.1,705.2L1028.1,705.1L1026.1,705.1L1024.1,705.0L1022.1,704.9L1020.1,704.8L1018.1,704.7L1016.1,704.6L1014.1,704.6L1012.1,704.6L1010.1,704.6L1008.1,704.6L1006.1,704.6L1004.1,704.6L1002.1,704.6L1000.1,704.6L998.1,704.6L996.1,704.6L994.1,704.6L992.1,704.6L990.1,704.6L988.1,704.6L986.1,704.6L984.1,704.6L982.1,704.6L980.1,704.6L978.1,704.6L976.1,704.6L974.1,704.6L972.1,704.6L970.1,704.6L968.1,704.5L966.1,704.5L964.1,704.5L962.1,704.5L960.1,704.5Z" fill="rgb(225,170,29)" fill-opacity="0.27"/>
<path d="M960.1,696.4L962.1,696.4L964.1,696.4L966.1,696.4L968.1,696.4L970.1,696.4L972.1,696.4L974.1,696.4L976.1,696.4L978.1,696.4L980.1,696.3L982.1,696.3L984.1,696.3L986.1,696.3L988.1,696.3L990.1,696.3L992.1,696.3L994.1,696.2L996.1,696.2L998.1,696.2L1000.1,696.2L1002.1,696.2L1004.1,696.1L1006.1,696.1L1008.1,696.0L1010.1,695.9L1012.1,695.8L1014.1,695.6L1016.1,695.4L1018.1,695.2L1020.1,694.9L1022.1,694.7L1024.1,694.4L1026.1,694.2L1028.1,694.0L1030.1,693.8L1032.1,693.6L1034.1,693.4L1036.1,693.2L1038.1,693.1L1040.1,693.0L1042.1,692.8L1044.1,692.7L1046.1,692.7L1048.1,692.6L1050.1,692.5L1052.1,692.5L1054.1,692.4L1056.1,692.4L1058.1,692.4L1060.1,692.3L1062.1,692.3L1064.1,692.2L1066.1,692.2L1068.1,692.1L1070.1,692.1L1072.1,692.0L1074.1,692.0L1076.1,691.9L1078.1,691.9L1080.1,691.8L1082.1,691.8L1084.1,691.7L1086.1,691.7L1088.1,691.6L1090.1,691.6L1092.1,691.5L1094.1,691.5L1096.1,691.4L1098.1,691.3L1100.1,691.3L1102.1,691.2L1104.1,691.2L1106.1,691.1L1108.1,691.0L1110.1,691.0L1112.1,690.9L1114.1,690.8L1116.1,690.8L1118.1,690.7L1120.1,690.7L1122.1,690.6L1124.1,690.5L1126.1,690.4L1128.1,690.4L1130.1,690.3L1132.1,690.2L1134.1,690.2L1136.1,690.1L1138.1,690.0L1140.1,690.0L1142.1,689.9L1144.1,689.8L1146.1,689.7L1148.1,689.7L1150.1,689.6L1152.1,689.5L1154.1,689.4L1156.1,689.3L1158.1,689.3L1160.1,689.2L1162.1,689.1L1164.1,689.0L1166.1,688.9L1168.1,688.9L1170.1,688.8L1172.1,688.7L1174.1,688.6L1176.1,688.5L1178.1,688.4L1180.1,688.3L1182.1,688.3L1184.1,688.2L1186.1,688.1L1188.1,688.0L1190.1,687.9L1192.1,687.8L1194.1,687.7L1196.1,687.6L1198.1,687.5L1200.1,687.5L1202.1,687.4L1204.1,687.3L1206.1,687.2L1208.1,687.1L1210.1,687.0L1212.1,686.9L1214.1,686.8L1216.1,686.7L1218.1,686.6L1220.1,686.5L1222.1,686.4L1224.1,686.3L1226.1,686.2L1228.1,686.1L1230.1,686.0L1232.1,685.9L1234.1,685.8L1236.1,685.7L1238.1,685.6L1240.1,685.5L1242.1,685.4L1244.1,685.3L1246.1,685.2L1248.1,685.1L1250.1,685.0L1252.1,684.9L1254.1,684.8L1256.1,684.7L1258.1,684.5L1260.1,684.4L1262.1,684.3L1264.1,684.2L1266.1,684.1L1268.1,684.0L1270.1,683.9L1272.1,683.8L1274.1,683.7L1276.1,683.6L1278.1,683.5L1280.1,683.3L1282.1,683.2L1284.1,683.1L1286.1,683.0L1288.1,682.9L1290.1,682.8L1292.1,682.7L1294.1,682.5L1296.1,682.4L1298.1,682.3L1300.1,682.2L1302.1,682.1L1304.1,682.0L1306.1,681.8L1308.1,681.7L1310.1,681.6L1312.1,681.5L1314.1,681.4L1316.1,681.3L1318.1,681.1L1320.1,681.0L1322.1,680.9L1324.1,680.8L1326.1,680.7L1328.1,680.5L1330.1,680.4L1332.1,680.3L1334.1,680.2L1336.1,680.0L1338.1,679.9L1340.1,679.8L1342.1,679.7L1344.1,679.6L1346.1,679.4L1348.1,679.3L1350.1,679.2L1352.1,679.1L1354.1,678.9L1356.1,678.8L1358.1,678.7L1360.1,678.6L1362.1,678.4L1364.1,678.3L1366.1,678.2L1368.1,678.1L1370.1,677.9L1372.1,677.8L1374.1,677.7L1376.1,677.5L1378.1,677.4L1380.1,677.3L1382.1,677.2L1384.1,677.0L1386.1,676.9L1388.1,676.8L1390.1,676.6L1392.1,676.5L1394.1,676.4L1396.1,676.3L1398.1,676.1L1400.1,676.0L1402.1,675.9L1404.1,675.7L1406.1,675.6L1408.1,675.5L1410.1,675.3L1412.1,675.2L1414.1,675.1L1416.1,674.9L1418.1,674.8L1420.1,674.7L1422.1,674.5L1424.1,674.4L1426.1,674.3L1428.1,674.2L1430.1,674.0L1432.1,673.9L1434.1,673.8L1436.1,673.6L1438.1,673.5L1440.1,673.4L1442.1,673.2L1444.1,673.1L1446.1,672.9L1448.1,672.8L1450.1,672.7L1452.1,672.5L1454.1,672.4L1456.1,672.3L1458.1,672.1L1460.1,672.0L1462.1,671.9L1464.1,671.7L1466.1,671.6L1468.1,671.5L1470.1,671.3L1472.1,671.2L1474.1,671.1L1476.1,670.9L1478.1,670.8L1480.1,670.7L1482.1,670.5L1484.1,670.4L1486.1,670.3L1488.1,670.1L1490.1,670.0L1492.1,669.8L1494.1,669.7L1496.1,669.6L1498.1,669.4L1500.1,669.3L1502.1,669.2L1504.1,669.0L1506.1,668.9L1508.1,668.8L1510.1,668.6L1512.1,668.5L1514.1,668.4L1516.1,668.2L1518.1,668.1L1520.1,668.0L1522.1,667.8L1524.1,667.7L1526.1,667.5L1528.1,667.4L1530.1,667.3L1532.1,667.1L1534.1,667.0L1536.1,666.9L1538.1,666.7L1540.1,666.6L1542.1,666.5L1544.1,666.3L1546.1,666.2L1548.1,666.1L1550.1,665.9L1552.1,665.8L1554.1,665.7L1556.1,665.5L1558.1,665.4L1560.1,665.3L1562.1,665.1L1564.1,665.0L1566.1,664.9L1568.1,664.7L1570.1,664.6L1572.1,664.5L1574.1,664.3L1576.1,664.2L1578.1,664.1L1580.1,663.9L1582.1,663.8L1584.1,663.7L1586.1,663.5L1588.1,663.4L1590.1,663.3L1592.1,663.1L1594.1,663.0L1596.1,662.9L1598.1,662.7L1600.1,662.6L1602.1,662.5L1604.1,662.3L1606.1,662.2L1608.1,662.1L1610.1,662.0L1612.1,661.8L1614.1,661.7L1616.1,661.6L1618.1,661.4L1620.1,661.3L1622.1,661.2L1624.1,661.1L1626.1,660.9L1628.1,660.8L1630.1,660.7L1632.1,660.5L1634.1,660.4L1636.1,660.3L1638.1,660.2L1640.1,660.0L1642.1,659.9L1644.1,659.8L1646.1,659.7L1647.1,659.6L1647.1,684.2L1646.1,684.3L1644.1,684.4L1642.1,684.6L1640.1,684.7L1638.1,684.9L1636.1,685.0L1634.1,685.2L1632.1,685.3L1630.1,685.5L1628.1,685.6L1626.1,685.8L1624.1,685.9L1622.1,686.1L1620.1,686.2L1618.1,686.4L1616.1,686.5L1614.1,686.6L1612.1,686.8L1610.1,686.9L1608.1,687.1L1606.1,687.2L1604.1,687.3L1602.1,687.5L1600.1,687.6L1598.1,687.8L1596.1,687.9L1594.1,688.0L1592.1,688.2L1590.1,688.3L1588.1,688.4L1586.1,688.6L1584.1,688.7L1582.1,688.9L1580.1,689.0L1578.1,689.1L1576.1,689.3L1574.1,689.4L1572.1,689.5L1570.1,689.7L1568.1,689.8L1566.1,689.9L1564.1,690.0L1562.1,690.2L1560.1,690.3L1558.1,690.4L1556.1,690.6L1554.1,690.7L1552.1,690.8L1550.1,690.9L1548.1,691.1L1546.1,691.2L1544.1,691.3L1542.1,691.5L1540.1,691.6L1538.1,691.7L1536.1,691.8L1534.1,692.0L1532.1,692.1L1530.1,692.2L1528.1,692.3L1526.1,692.4L1524.1,692.6L1522.1,692.7L1520.1,692.8L1518.1,692.9L1516.1,693.0L1514.1,693.2L1512.1,693.3L1510.1,693.4L1508.1,693.5L1506.1,693.6L1504.1,693.8L1502.1,693.9L1500.1,694.0L1498.1,694.1L1496.1,694.2L1494.1,694.3L1492.1,694.5L1490.1,694.6L1488.1,694.7L1486.1,694.8L1484.1,694.9L1482.1,695.0L1480.1,695.1L1478.1,695.3L1476.1,695.4L1474.1,695.5L1472.1,695.6L1470.1,695.7L1468.1,695.8L1466.1,695.9L1464.1,696.0L1462.1,696.1L1460.1,696.3L1458.1,696.4L1456.1,696.5L1454.1,696.6L1452.1,696.7L1450.1,696.8L1448.1,696.9L1446.1,697.0L1444.1,697.1L1442.1,697.2L1440.1,697.3L1438.1,697.4L1436.1,697.5L1434.1,697.6L1432.1,697.7L1430.1,697.9L1428.1,698.0L1426.1,698.1L1424.1,698.2L1422.1,698.3L1420.1,698.4L1418.1,698.5L1416.1,698.6L1414.1,698.7L1412.1,698.8L1410.1,698.9L1408.1,699.0L1406.1,699.1L1404.1,699.2L1402.1,699.3L1400.1,699.4L1398.1,699.5L1396.1,699.6L1394.1,699.7L1392.1,699.8L1390.1,699.9L1388.1,700.0L1386.1,700.1L1384.1,700.2L1382.1,700.3L1380.1,700.4L1378.1,700.5L1376.1,700.6L1374.1,700.6L1372.1,700.7L1370.1,700.8L1368.1,700.9L1366.1,701.0L1364.1,701.1L1362.1,701.2L1360.1,701.3L1358.1,701.4L1356.1,701.5L1354.1,701.6L1352.1,701.7L1350.1,701.8L1348.1,701.9L1346.1,702.0L1344.1,702.1L1342.1,702.1L1340.1,702.2L1338.1,702.3L1336.1,702.4L1334.1,702.5L1332.1,702.6L1330.1,702.7L1328.1,702.8L1326.1,702.9L1324.1,703.0L1322.1,703.0L1320.1,703.1L1318.1,703.2L1316.1,703.3L1314.1,703.4L1312.1,703.5L1310.1,703.6L1308.1,703.7L1306.1,703.8L1304.1,703.8L1302.1,703.9L1300.1,704.0L1298.1,704.1L1296.1,704.2L1294.1,704.3L1292.1,704.4L1290.1,704.4L1288.1,704.5L1286.1,704.6L1284.1,704.7L1282.1,704.8L1280.1,704.9L1278.1,705.0L1276.1,705.0L1274.1,705.1L1272.1,705.2L1270.1,705.3L1268.1,705.4L1266.1,705.5L1264.1,705.5L1262.1,705.6L1260.1,705.7L1258.1,705.8L1256.1,705.9L1254.1,706.0L1252.1,706.0L1250.1,706.1L1248.1,706.2L1246.1,706.3L1244.1,706.4L1242.1,706.5L1240.1,706.5L1238.1,706.6L1236.1,706.7L1234.1,706.8L1232.1,706.9L1230.1,706.9L1228.1,707.0L1226.1,707.1L1224.1,707.2L1222.1,707.3L1220.1,707.3L1218.1,707.4L1216.1,707.5L1214.1,707.6L1212.1,707.7L1210.1,707.7L1208.1,707.8L1206.1,707.9L1204.1,708.0L1202.1,708.1L1200.1,708.1L1198.1,708.2L1196.1,708.3L1194.1,708.4L1192.1,708.5L1190.1,708.5L1188.1,708.6L1186.1,708.7L1184.1,708.8L1182.1,708.8L1180.1,708.9L1178.1,709.0L1176.1,709.1L1174.1,709.2L1172.1,709.2L1170.1,709.3L1168.1,709.4L1166.1,709.5L1164.1,709.5L1162.1,709.6L1160.1,709.7L1158.1,709.8L1156.1,709.8L1154.1,709.9L1152.1,710.0L1150.1,710.1L1148.1,710.2L1146.1,710.2L1144.1,710.3L1142.1,710.4L1140.1,710.5L1138.1,710.5L1136.1,710.6L1134.1,710.7L1132.1,710.8L1130.1,710.8L1128.1,710.9L1126.1,711.0L1124.1,711.1L1122.1,711.1L1120.1,711.2L1118.1,711.3L1116.1,711.4L1114.1,711.5L1112.1,711.5L1110.1,711.6L1108.1,711.7L1106.1,711.8L1104.1,711.8L1102.1,711.9L1100.1,712.0L1098.1,712.1L1096.1,712.1L1094.1,712.2L1092.1,712.3L1090.1,712.4L1088.1,712.4L1086.1,712.5L1084.1,712.6L1082.1,712.7L1080.1,712.7L1078.1,712.8L1076.1,712.9L1074.1,713.0L1072.1,713.0L1070.1,713.1L1068.1,713.2L1066.1,713.3L1064.1,713.3L1062.1,713.4L1060.1,713.5L1058.1,713.6L1056.1,713.6L1054.1,713.7L1052.1,713.7L1050.1,713.8L1048.1,713.8L1046.1,713.8L1044.1,713.8L1042.1,713.8L1040.1,713.8L1038.1,713.8L1036.1,713.7L1034.1,713.7L1032.1,713.7L1030.1,713.6L1028.1,713.6L1026.1,713.5L1024.1,713.4L1022.1,713.3L1020.1,713.3L1018.1,713.2L1016.1,713.1L1014.1,713.0L1012.1,713.0L1010.1,713.0L1008.1,713.0L1006.1,713.0L1004.1,713.0L1002.1,713.0L1000.1,713.0L998.1,713.0L996.1,713.0L994.1,713.0L992.1,713.0L990.1,713.0L988.1,713.0L986.1,713.0L984.1,713.0L982.1,713.0L980.1,713.0L978.1,713.0L976.1,713.0L974.1,713.0L972.1,713.0L970.1,713.0L968.1,713.0L966.1,713.0L964.1,713.0L962.1,713.0L960.1,713.0Z" fill="rgb(125,62,155)" fill-opacity="0.27"/>
<path d="M960.1,701.5L962.1,701.5L964.1,701.5L966.1,701.5L968.1,701.5L970.1,701.5L972.1,701.5L974.1,701.5L976.1,701.5L978.1,701.4L980.1,701.4L982.1,701.4L984.1,701.4L986.1,701.4L988.1,701.3L990.1,701.3L992.1,701.3L994.1,701.2L996.1,701.1L998.1,700.4L1000.1,699.5L1002.1,698.3L1004.1,696.7L1006.1,694.7L1008.1,692.7L1010.1,690.8L1012.1,688.9L1014.1,687.0L1016.1,684.9L1018.1,682.8L1020.1,680.5L1022.1,678.1L1024.1,675.6L1026.1,673.1L1028.1,670.4L1030.1,667.6L1032.1,664.8L1034.1,661.9L1036.1,659.0L1038.1,656.0L1040.1,653.0L1042.1,650.0L1044.1,647.1L1046.1,644.1L1048.1,641.2L1050.1,638.2L1052.1,635.6L1054.1,632.9L1056.1,630.3L1058.1,627.6L1060.1,625.0L1062.1,622.4L1064.1,619.7L1066.1,617.1L1068.1,614.5L1070.1,611.9L1072.1,609.3L1074.1,606.7L1076.1,604.1L1078.1,601.5L1080.1,599.0L1082.1,596.4L1084.1,593.9L1086.1,591.3L1088.1,588.8L1090.1,586.3L1092.1,583.8L1094.1,581.3L1096.1,578.8L1098.1,576.3L1100.1,573.8L1102.1,571.4L1104.1,569.0L1106.1,566.5L1108.1,564.1L1110.1,561.7L1112.1,559.3L1114.1,556.9L1116.1,554.5L1118.1,552.2L1120.1,549.8L1122.1,547.5L1124.1,545.2L1126.1,542.9L1128.1,540.6L1130.1,538.3L1132.1,536.0L1134.1,533.8L1136.1,531.5L1138.1,529.3L1140.1,527.1L1142.1,524.9L1144.1,522.7L1146.1,520.5L1148.1,518.4L1150.1,516.2L1152.1,514.1L1154.1,512.0L1156.1,509.9L1158.1,507.8L1160.1,505.7L1162.1,503.7L1164.1,501.7L1166.1,499.6L1168.1,497.6L1170.1,495.6L1172.1,493.7L1174.1,491.7L1176.1,489.8L1178.1,487.8L1180.1,485.9L1182.1,484.0L1184.1,482.2L1186.1,480.3L1188.1,478.5L1190.1,476.6L1192.1,474.8L1194.1,473.1L1196.1,471.3L1198.1,469.5L1200.1,467.8L1202.1,466.1L1204.1,464.4L1206.1,462.7L1208.1,461.0L1210.1,459.3L1212.1,457.7L1214.1,456.0L1216.1,454.4L1218.1,452.8L1220.1,451.2L1222.1,449.7L1224.1,448.1L1226.1,446.5L1228.1,445.0L1230.1,443.5L1232.1,442.0L1234.1,440.5L1236.1,439.0L1238.1,437.5L1240.1,436.0L1242.1,434.6L1244.1,433.1L1246.1,431.7L1248.1,430.3L1250.1,428.9L1252.1,427.5L1254.1,426.1L1256.1,424.7L1258.1,423.3L1260.1,421.9L1262.1,420.6L1264.1,419.2L1266.1,417.9L1268.1,416.5L1270.1,415.2L1272.1,413.9L1274.1,412.5L1276.1,411.2L1278.1,409.9L1280.1,408.6L1282.1,407.3L1284.1,406.0L1286.1,404.7L1288.1,403.5L1290.1,402.2L1292.1,400.9L1294.1,399.7L1296.1,398.4L1298.1,397.1L1300.1,395.9L1302.1,394.6L1304.1,393.4L1306.1,392.2L1308.1,390.9L1310.1,389.7L1312.1,388.5L1314.1,387.3L1316.1,386.0L1318.1,384.8L1320.1,383.6L1322.1,382.4L1324.1,381.2L1326.1,380.1L1328.1,378.9L1330.1,377.7L1332.1,376.5L1334.1,375.3L1336.1,374.2L1338.1,373.0L1340.1,371.9L1342.1,370.7L1344.1,369.5L1346.1,368.4L1348.1,367.3L1350.1,366.1L1352.1,365.0L1354.1,363.9L1356.1,362.8L1358.1,361.6L1360.1,360.5L1362.1,359.4L1364.1,358.3L1366.1,357.2L1368.1,356.1L1370.1,355.0L1372.1,353.9L1374.1,352.9L1376.1,351.8L1378.1,350.7L1380.1,349.6L1382.1,348.6L1384.1,347.5L1386.1,346.5L1388.1,345.4L1390.1,344.4L1392.1,343.3L1394.1,342.3L1396.1,341.2L1398.1,340.2L1400.1,339.2L1402.1,338.2L1404.1,337.1L1406.1,336.1L1408.1,335.1L1410.1,334.1L1412.1,333.1L1414.1,332.1L1416.1,331.1L1418.1,330.1L1420.1,329.1L1422.1,328.1L1424.1,327.2L1426.1,326.2L1428.1,325.2L1430.1,324.3L1432.1,323.3L1434.1,322.3L1436.1,321.4L1438.1,320.4L1440.1,319.5L1442.1,318.5L1444.1,317.6L1446.1,316.7L1448.1,315.7L1450.1,314.8L1452.1,313.9L1454.1,313.0L1456.1,312.1L1458.1,311.1L1460.1,310.2L1462.1,309.3L1464.1,308.4L1466.1,307.5L1468.1,306.6L1470.1,305.7L1472.1,304.9L1474.1,304.0L1476.1,303.1L1478.1,302.2L1480.1,301.4L1482.1,300.5L1484.1,299.6L1486.1,298.8L1488.1,297.9L1490.1,297.0L1492.1,296.2L1494.1,295.3L1496.1,294.5L1498.1,293.7L1500.1,292.8L1502.1,292.0L1504.1,291.2L1506.1,290.3L1508.1,289.5L1510.1,288.7L1512.1,287.9L1514.1,287.1L1516.1,286.3L1518.1,285.5L1520.1,284.7L1522.1,283.9L1524.1,283.1L1526.1,282.3L1528.1,281.5L1530.1,280.7L1532.1,279.9L1534.1,279.1L1536.1,278.4L1538.1,277.6L1540.1,276.8L1542.1,276.1L1544.1,275.3L1546.1,274.5L1548.1,273.8L1550.1,273.0L1552.1,272.3L1554.1,271.5L1556.1,270.8L1558.1,270.0L1560.1,269.3L1562.1,268.6L1564.1,267.8L1566.1,267.1L1568.1,266.4L1570.1,265.7L1572.1,264.9L1574.1,264.2L1576.1,263.5L1578.1,262.8L1580.1,262.1L1582.1,261.4L1584.1,260.7L1586.1,260.0L1588.1,259.3L1590.1,258.6L1592.1,257.9L1594.1,257.2L1596.1,256.5L1598.1,255.9L1600.1,255.2L1602.1,254.5L1604.1,253.8L1606.1,253.2L1608.1,252.5L1610.1,251.8L1612.1,251.2L1614.1,250.5L1616.1,249.9L1618.1,249.2L1620.1,248.5L1622.1,247.9L1624.1,247.3L1626.1,246.6L1628.1,246.0L1630.1,245.3L1632.1,244.7L1634.1,244.1L1636.1,243.4L1638.1,242.8L1640.1,242.2L1642.1,241.6L1644.1,240.9L1646.1,240.3L1647.1,240.0" fill="none" stroke="#a9c4e4" stroke-width="1.5" stroke-dasharray="1.5 1.6"/>
<path d="M960.1,705.0L962.1,705.0L964.1,705.0L966.1,705.0L968.1,705.0L970.1,705.0L972.1,705.0L974.1,704.9L976.1,704.9L978.1,704.9L980.1,704.9L982.1,704.9L984.1,704.8L986.1,704.8L988.1,704.8L990.1,704.7L992.1,704.7L994.1,704.6L996.1,704.6L998.1,704.5L1000.1,704.5L1002.1,704.4L1004.1,704.2L1006.1,704.0L1008.1,703.6L1010.1,703.3L1012.1,702.9L1014.1,702.4L1016.1,702.1L1018.1,701.7L1020.1,701.3L1022.1,700.8L1024.1,700.1L1026.1,699.4L1028.1,698.5L1030.1,697.6L1032.1,696.6L1034.1,695.6L1036.1,694.6L1038.1,693.5L1040.1,692.4L1042.1,691.4L1044.1,690.3L1046.1,689.2L1048.1,688.2L1050.1,687.1L1052.1,686.1L1054.1,685.1L1056.1,684.0L1058.1,682.9L1060.1,681.9L1062.1,680.8L1064.1,679.8L1066.1,678.7L1068.1,677.7L1070.1,676.6L1072.1,675.6L1074.1,674.5L1076.1,673.5L1078.1,672.5L1080.1,671.4L1082.1,670.4L1084.1,669.4L1086.1,668.3L1088.1,667.3L1090.1,666.3L1092.1,665.3L1094.1,664.2L1096.1,663.2L1098.1,662.2L1100.1,661.2L1102.1,660.2L1104.1,659.2L1106.1,658.2L1108.1,657.2L1110.1,656.2L1112.1,655.2L1114.1,654.2L1116.1,653.2L1118.1,652.2L1120.1,651.2L1122.1,650.2L1124.1,649.2L1126.1,648.3L1128.1,647.3L1130.1,646.3L1132.1,645.3L1134.1,644.3L1136.1,643.4L1138.1,642.4L1140.1,641.4L1142.1,640.5L1144.1,639.5L1146.1,638.6L1148.1,637.6L1150.1,636.7L1152.1,635.7L1154.1,634.8L1156.1,633.8L1158.1,632.9L1160.1,631.9L1162.1,631.0L1164.1,630.0L1166.1,629.1L1168.1,628.2L1170.1,627.2L1172.1,626.3L1174.1,625.4L1176.1,624.5L1178.1,623.6L1180.1,622.6L1182.1,621.7L1184.1,620.8L1186.1,619.9L1188.1,619.0L1190.1,618.1L1192.1,617.2L1194.1,616.3L1196.1,615.4L1198.1,614.5L1200.1,613.6L1202.1,612.7L1204.1,611.8L1206.1,610.9L1208.1,610.0L1210.1,609.1L1212.1,608.3L1214.1,607.4L1216.1,606.5L1218.1,605.6L1220.1,604.7L1222.1,603.9L1224.1,603.0L1226.1,602.1L1228.1,601.3L1230.1,600.4L1232.1,599.6L1234.1,598.7L1236.1,597.9L1238.1,597.0L1240.1,596.2L1242.1,595.3L1244.1,594.5L1246.1,593.6L1248.1,592.8L1250.1,591.9L1252.1,591.1L1254.1,590.3L1256.1,589.4L1258.1,588.6L1260.1,587.8L1262.1,587.0L1264.1,586.2L1266.1,585.3L1268.1,584.5L1270.1,583.7L1272.1,582.9L1274.1,582.1L1276.1,581.3L1278.1,580.5L1280.1,579.7L1282.1,578.9L1284.1,578.1L1286.1,577.3L1288.1,576.5L1290.1,575.7L1292.1,574.9L1294.1,574.1L1296.1,573.3L1298.1,572.5L1300.1,571.8L1302.1,571.0L1304.1,570.2L1306.1,569.4L1308.1,568.7L1310.1,567.9L1312.1,567.1L1314.1,566.4L1316.1,565.6L1318.1,564.9L1320.1,564.1L1322.1,563.3L1324.1,562.6L1326.1,561.8L1328.1,561.1L1330.1,560.3L1332.1,559.6L1334.1,558.9L1336.1,558.1L1338.1,557.4L1340.1,556.7L1342.1,555.9L1344.1,555.2L1346.1,554.5L1348.1,553.7L1350.1,553.0L1352.1,552.3L1354.1,551.6L1356.1,550.9L1358.1,550.2L1360.1,549.4L1362.1,548.7L1364.1,548.0L1366.1,547.3L1368.1,546.6L1370.1,545.9L1372.1,545.2L1374.1,544.5L1376.1,543.8L1378.1,543.2L1380.1,542.5L1382.1,541.8L1384.1,541.1L1386.1,540.4L1388.1,539.7L1390.1,539.1L1392.1,538.4L1394.1,537.7L1396.1,537.0L1398.1,536.4L1400.1,535.7L1402.1,535.0L1404.1,534.4L1406.1,533.7L1408.1,533.1L1410.1,532.4L1412.1,531.8L1414.1,531.1L1416.1,530.5L1418.1,529.8L1420.1,529.2L1422.1,528.5L1424.1,527.9L1426.1,527.3L1428.1,526.6L1430.1,526.0L1432.1,525.4L1434.1,524.8L1436.1,524.1L1438.1,523.5L1440.1,522.9L1442.1,522.3L1444.1,521.7L1446.1,521.0L1448.1,520.4L1450.1,519.8L1452.1,519.2L1454.1,518.6L1456.1,518.0L1458.1,517.4L1460.1,516.8L1462.1,516.2L1464.1,515.6L1466.1,515.0L1468.1,514.5L1470.1,513.9L1472.1,513.3L1474.1,512.7L1476.1,512.1L1478.1,511.5L1480.1,511.0L1482.1,510.4L1484.1,509.8L1486.1,509.3L1488.1,508.7L1490.1,508.1L1492.1,507.6L1494.1,507.0L1496.1,506.5L1498.1,505.9L1500.1,505.4L1502.1,504.8L1504.1,504.3L1506.1,503.7L1508.1,503.2L1510.1,502.6L1512.1,502.1L1514.1,501.6L1516.1,501.0L1518.1,500.5L1520.1,500.0L1522.1,499.4L1524.1,498.9L1526.1,498.4L1528.1,497.9L1530.1,497.4L1532.1,496.8L1534.1,496.3L1536.1,495.8L1538.1,495.3L1540.1,494.8L1542.1,494.3L1544.1,493.8L1546.1,493.3L1548.1,492.8L1550.1,492.3L1552.1,491.8L1554.1,491.3L1556.1,490.8L1558.1,490.3L1560.1,489.9L1562.1,489.4L1564.1,488.9L1566.1,488.4L1568.1,488.0L1570.1,487.5L1572.1,487.0L1574.1,486.5L1576.1,486.1L1578.1,485.6L1580.1,485.1L1582.1,484.7L1584.1,484.2L1586.1,483.8L1588.1,483.3L1590.1,482.9L1592.1,482.4L1594.1,482.0L1596.1,481.5L1598.1,481.1L1600.1,480.7L1602.1,480.2L1604.1,479.8L1606.1,479.4L1608.1,478.9L1610.1,478.5L1612.1,478.1L1614.1,477.6L1616.1,477.2L1618.1,476.8L1620.1,476.4L1622.1,476.0L1624.1,475.6L1626.1,475.2L1628.1,474.7L1630.1,474.3L1632.1,473.9L1634.1,473.5L1636.1,473.1L1638.1,472.7L1640.1,472.3L1642.1,472.0L1644.1,471.6L1646.1,471.2L1647.1,471.0" fill="none" stroke="#a9c4e4" stroke-width="1.5" stroke-dasharray="1.5 1.6"/>
<path d="M960.1,702.0L962.1,702.0L964.1,702.0L966.1,702.0L968.1,702.0L970.1,702.0L972.1,702.0L974.1,701.9L976.1,701.9L978.1,701.9L980.1,701.9L982.1,701.8L984.1,701.8L986.1,701.8L988.1,701.8L990.1,701.7L992.1,701.7L994.1,701.6L996.1,701.6L998.1,701.5L1000.1,701.5L1002.1,701.4L1004.1,701.2L1006.1,700.9L1008.1,700.5L1010.1,700.1L1012.1,699.6L1014.1,699.0L1016.1,698.5L1018.1,697.9L1020.1,697.2L1022.1,696.6L1024.1,696.0L1026.1,695.4L1028.1,694.7L1030.1,694.1L1032.1,693.5L1034.1,692.9L1036.1,692.2L1038.1,691.6L1040.1,690.9L1042.1,690.2L1044.1,689.5L1046.1,688.8L1048.1,688.1L1050.1,687.4L1052.1,686.7L1054.1,686.1L1056.1,685.4L1058.1,684.6L1060.1,683.9L1062.1,683.2L1064.1,682.4L1066.1,681.7L1068.1,680.9L1070.1,680.2L1072.1,679.4L1074.1,678.6L1076.1,677.9L1078.1,677.1L1080.1,676.3L1082.1,675.5L1084.1,674.7L1086.1,673.9L1088.1,673.1L1090.1,672.3L1092.1,671.5L1094.1,670.7L1096.1,669.9L1098.1,669.1L1100.1,668.3L1102.1,667.5L1104.1,666.6L1106.1,665.8L1108.1,665.0L1110.1,664.1L1112.1,663.3L1114.1,662.4L1116.1,661.6L1118.1,660.7L1120.1,659.8L1122.1,659.0L1124.1,658.1L1126.1,657.2L1128.1,656.4L1130.1,655.5L1132.1,654.6L1134.1,653.7L1136.1,652.8L1138.1,652.0L1140.1,651.1L1142.1,650.2L1144.1,649.3L1146.1,648.4L1148.1,647.5L1150.1,646.5L1152.1,645.6L1154.1,644.7L1156.1,643.8L1158.1,642.9L1160.1,641.9L1162.1,641.0L1164.1,640.1L1166.1,639.2L1168.1,638.2L1170.1,637.3L1172.1,636.3L1174.1,635.4L1176.1,634.4L1178.1,633.5L1180.1,632.5L1182.1,631.6L1184.1,630.6L1186.1,629.7L1188.1,628.7L1190.1,627.7L1192.1,626.8L1194.1,625.8L1196.1,624.8L1198.1,623.9L1200.1,622.9L1202.1,621.9L1204.1,620.9L1206.1,619.9L1208.1,619.0L1210.1,618.0L1212.1,617.0L1214.1,616.0L1216.1,615.0L1218.1,614.0L1220.1,613.0L1222.1,612.0L1224.1,611.0L1226.1,610.0L1228.1,609.0L1230.1,608.0L1232.1,607.0L1234.1,606.0L1236.1,605.0L1238.1,604.0L1240.1,603.0L1242.1,601.9L1244.1,600.9L1246.1,599.9L1248.1,598.9L1250.1,597.9L1252.1,596.9L1254.1,595.8L1256.1,594.8L1258.1,593.8L1260.1,592.8L1262.1,591.7L1264.1,590.7L1266.1,589.7L1268.1,588.7L1270.1,587.6L1272.1,586.6L1274.1,585.6L1276.1,584.5L1278.1,583.5L1280.1,582.5L1282.1,581.4L1284.1,580.4L1286.1,579.4L1288.1,578.3L1290.1,577.3L1292.1,576.2L1294.1,575.2L1296.1,574.2L1298.1,573.1L1300.1,572.1L1302.1,571.1L1304.1,570.0L1306.1,569.0L1308.1,567.9L1310.1,566.9L1312.1,565.9L1314.1,564.8L1316.1,563.8L1318.1,562.7L1320.1,561.7L1322.1,560.6L1324.1,559.6L1326.1,558.6L1328.1,557.5L1330.1,556.5L1332.1,555.4L1334.1,554.4L1336.1,553.4L1338.1,552.3L1340.1,551.3L1342.1,550.2L1344.1,549.2L1346.1,548.2L1348.1,547.1L1350.1,546.1L1352.1,545.1L1354.1,544.0L1356.1,543.0L1358.1,542.0L1360.1,540.9L1362.1,539.9L1364.1,538.9L1366.1,537.8L1368.1,536.8L1370.1,535.8L1372.1,534.7L1374.1,533.7L1376.1,532.7L1378.1,531.7L1380.1,530.6L1382.1,529.6L1384.1,528.6L1386.1,527.6L1388.1,526.5L1390.1,525.5L1392.1,524.5L1394.1,523.5L1396.1,522.5L1398.1,521.5L1400.1,520.5L1402.1,519.4L1404.1,518.4L1406.1,517.4L1408.1,516.4L1410.1,515.4L1412.1,514.4L1414.1,513.4L1416.1,512.4L1418.1,511.4L1420.1,510.4L1422.1,509.4L1424.1,508.4L1426.1,507.4L1428.1,506.5L1430.1,505.5L1432.1,504.5L1434.1,503.5L1436.1,502.5L1438.1,501.6L1440.1,500.6L1442.1,499.6L1444.1,498.6L1446.1,497.7L1448.1,496.7L1450.1,495.7L1452.1,494.8L1454.1,493.8L1456.1,492.9L1458.1,491.9L1460.1,491.0L1462.1,490.0L1464.1,489.1L1466.1,488.1L1468.1,487.2L1470.1,486.2L1472.1,485.3L1474.1,484.4L1476.1,483.4L1478.1,482.5L1480.1,481.6L1482.1,480.7L1484.1,479.7L1486.1,478.8L1488.1,477.9L1490.1,477.0L1492.1,476.1L1494.1,475.2L1496.1,474.3L1498.1,473.4L1500.1,472.5L1502.1,471.6L1504.1,470.7L1506.1,469.9L1508.1,469.0L1510.1,468.1L1512.1,467.2L1514.1,466.4L1516.1,465.5L1518.1,464.6L1520.1,463.8L1522.1,462.9L1524.1,462.1L1526.1,461.2L1528.1,460.4L1530.1,459.5L1532.1,458.7L1534.1,457.9L1536.1,457.0L1538.1,456.2L1540.1,455.4L1542.1,454.6L1544.1,453.8L1546.1,453.0L1548.1,452.2L1550.1,451.4L1552.1,450.6L1554.1,449.8L1556.1,449.0L1558.1,448.2L1560.1,447.4L1562.1,446.6L1564.1,445.9L1566.1,445.1L1568.1,444.3L1570.1,443.6L1572.1,442.8L1574.1,442.1L1576.1,441.4L1578.1,440.6L1580.1,439.9L1582.1,439.2L1584.1,438.4L1586.1,437.7L1588.1,437.0L1590.1,436.3L1592.1,435.6L1594.1,434.9L1596.1,434.2L1598.1,433.5L1600.1,432.8L1602.1,432.1L1604.1,431.5L1606.1,430.8L1608.1,430.1L1610.1,429.5L1612.1,428.8L1614.1,428.2L1616.1,427.5L1618.1,426.9L1620.1,426.3L1622.1,425.6L1624.1,425.0L1626.1,424.4L1628.1,423.8L1630.1,423.2L1632.1,422.6L1634.1,422.0L1636.1,421.4L1638.1,420.8L1640.1,420.3L1642.1,419.7L1644.1,419.1L1646.1,418.6L1647.1,418.3" fill="none" stroke="#e8b9a0" stroke-width="1.5" stroke-dasharray="1.5 1.6"/>
<path d="M960.1,704.5L962.1,704.5L964.1,704.5L966.1,704.5L968.1,704.5L970.1,704.5L972.1,704.5L974.1,704.5L976.1,704.5L978.1,704.5L980.1,704.5L982.1,704.5L984.1,704.5L986.1,704.5L988.1,704.5L990.1,704.5L992.1,704.5L994.1,704.5L996.1,704.5L998.1,704.5L1000.1,704.5L1002.1,704.5L1004.1,704.5L1006.1,704.5L1008.1,704.4L1010.1,704.4L1012.1,704.3L1014.1,704.3L1016.1,704.3L1018.1,704.4L1020.1,704.5L1022.1,704.6L1024.1,704.7L1026.1,704.7L1028.1,704.7L1030.1,704.6L1032.1,704.6L1034.1,704.5L1036.1,704.4L1038.1,704.2L1040.1,704.0L1042.1,703.8L1044.1,703.6L1046.1,703.4L1048.1,703.1L1050.1,702.8L1052.1,702.4L1054.1,702.1L1056.1,701.7L1058.1,701.4L1060.1,701.0L1062.1,700.6L1064.1,700.2L1066.1,699.8L1068.1,699.4L1070.1,699.0L1072.1,698.6L1074.1,698.1L1076.1,697.7L1078.1,697.3L1080.1,696.9L1082.1,696.5L1084.1,696.0L1086.1,695.6L1088.1,695.2L1090.1,694.7L1092.1,694.3L1094.1,693.8L1096.1,693.4L1098.1,692.9L1100.1,692.5L1102.1,692.0L1104.1,691.6L1106.1,691.1L1108.1,690.6L1110.1,690.1L1112.1,689.7L1114.1,689.2L1116.1,688.7L1118.1,688.2L1120.1,687.7L1122.1,687.3L1124.1,686.8L1126.1,686.3L1128.1,685.8L1130.1,685.3L1132.1,684.8L1134.1,684.3L1136.1,683.8L1138.1,683.3L1140.1,682.7L1142.1,682.2L1144.1,681.7L1146.1,681.2L1148.1,680.7L1150.1,680.1L1152.1,679.6L1154.1,679.1L1156.1,678.6L1158.1,678.0L1160.1,677.5L1162.1,676.9L1164.1,676.4L1166.1,675.9L1168.1,675.3L1170.1,674.8L1172.1,674.2L1174.1,673.7L1176.1,673.1L1178.1,672.6L1180.1,672.0L1182.1,671.4L1184.1,670.9L1186.1,670.3L1188.1,669.8L1190.1,669.2L1192.1,668.6L1194.1,668.0L1196.1,667.5L1198.1,666.9L1200.1,666.3L1202.1,665.8L1204.1,665.2L1206.1,664.6L1208.1,664.0L1210.1,663.4L1212.1,662.8L1214.1,662.3L1216.1,661.7L1218.1,661.1L1220.1,660.5L1222.1,659.9L1224.1,659.3L1226.1,658.7L1228.1,658.1L1230.1,657.5L1232.1,656.9L1234.1,656.3L1236.1,655.7L1238.1,655.1L1240.1,654.5L1242.1,653.9L1244.1,653.3L1246.1,652.7L1248.1,652.1L1250.1,651.5L1252.1,650.9L1254.1,650.2L1256.1,649.6L1258.1,649.0L1260.1,648.4L1262.1,647.8L1264.1,647.2L1266.1,646.6L1268.1,646.0L1270.1,645.3L1272.1,644.7L1274.1,644.1L1276.1,643.5L1278.1,642.9L1280.1,642.2L1282.1,641.6L1284.1,641.0L1286.1,640.4L1288.1,639.8L1290.1,639.1L1292.1,638.5L1294.1,637.9L1296.1,637.3L1298.1,636.6L1300.1,636.0L1302.1,635.4L1304.1,634.8L1306.1,634.1L1308.1,633.5L1310.1,632.9L1312.1,632.3L1314.1,631.6L1316.1,631.0L1318.1,630.4L1320.1,629.8L1322.1,629.1L1324.1,628.5L1326.1,627.9L1328.1,627.3L1330.1,626.6L1332.1,626.0L1334.1,625.4L1336.1,624.8L1338.1,624.1L1340.1,623.5L1342.1,622.9L1344.1,622.3L1346.1,621.6L1348.1,621.0L1350.1,620.4L1352.1,619.8L1354.1,619.2L1356.1,618.5L1358.1,617.9L1360.1,617.3L1362.1,616.7L1364.1,616.1L1366.1,615.4L1368.1,614.8L1370.1,614.2L1372.1,613.6L1374.1,613.0L1376.1,612.4L1378.1,611.8L1380.1,611.1L1382.1,610.5L1384.1,609.9L1386.1,609.3L1388.1,608.7L1390.1,608.1L1392.1,607.5L1394.1,606.9L1396.1,606.3L1398.1,605.7L1400.1,605.1L1402.1,604.5L1404.1,603.9L1406.1,603.3L1408.1,602.7L1410.1,602.1L1412.1,601.5L1414.1,600.9L1416.1,600.3L1418.1,599.7L1420.1,599.1L1422.1,598.5L1424.1,598.0L1426.1,597.4L1428.1,596.8L1430.1,596.2L1432.1,595.6L1434.1,595.1L1436.1,594.5L1438.1,593.9L1440.1,593.3L1442.1,592.8L1444.1,592.2L1446.1,591.6L1448.1,591.1L1450.1,590.5L1452.1,589.9L1454.1,589.4L1456.1,588.8L1458.1,588.3L1460.1,587.7L1462.1,587.2L1464.1,586.6L1466.1,586.1L1468.1,585.5L1470.1,585.0L1472.1,584.4L1474.1,583.9L1476.1,583.3L1478.1,582.8L1480.1,582.3L1482.1,581.7L1484.1,581.2L1486.1,580.7L1488.1,580.2L1490.1,579.7L1492.1,579.1L1494.1,578.6L1496.1,578.1L1498.1,577.6L1500.1,577.1L1502.1,576.6L1504.1,576.1L1506.1,575.6L1508.1,575.1L1510.1,574.6L1512.1,574.1L1514.1,573.6L1516.1,573.1L1518.1,572.6L1520.1,572.2L1522.1,571.7L1524.1,571.2L1526.1,570.7L1528.1,570.3L1530.1,569.8L1532.1,569.3L1534.1,568.9L1536.1,568.4L1538.1,568.0L1540.1,567.5L1542.1,567.1L1544.1,566.6L1546.1,566.2L1548.1,565.7L1550.1,565.3L1552.1,564.9L1554.1,564.4L1556.1,564.0L1558.1,563.6L1560.1,563.2L1562.1,562.8L1564.1,562.4L1566.1,561.9L1568.1,561.5L1570.1,561.1L1572.1,560.7L1574.1,560.4L1576.1,560.0L1578.1,559.6L1580.1,559.2L1582.1,558.8L1584.1,558.4L1586.1,558.1L1588.1,557.7L1590.1,557.3L1592.1,557.0L1594.1,556.6L1596.1,556.3L1598.1,555.9L1600.1,555.6L1602.1,555.2L1604.1,554.9L1606.1,554.6L1608.1,554.2L1610.1,553.9L1612.1,553.6L1614.1,553.3L1616.1,553.0L1618.1,552.7L1620.1,552.4L1622.1,552.1L1624.1,551.8L1626.1,551.5L1628.1,551.2L1630.1,550.9L1632.1,550.7L1634.1,550.4L1636.1,550.1L1638.1,549.9L1640.1,549.6L1642.1,549.3L1644.1,549.1L1646.1,548.9L1647.1,548.7" fill="none" stroke="#e8b9a0" stroke-width="1.5" stroke-dasharray="1.5 1.6"/>
<path d="M960.1,702.5L962.1,702.5L964.1,702.5L966.1,702.5L968.1,702.5L970.1,702.5L972.1,702.5L974.1,702.5L976.1,702.5L978.1,702.5L980.1,702.5L982.1,702.5L984.1,702.5L986.1,702.5L988.1,702.4L990.1,702.4L992.1,702.4L994.1,702.4L996.1,702.4L998.1,702.4L1000.1,702.4L1002.1,702.4L1004.1,702.3L1006.1,702.3L1008.1,702.2L1010.1,702.1L1012.1,702.0L1014.1,701.9L1016.1,701.7L1018.1,701.5L1020.1,701.3L1022.1,701.0L1024.1,700.7L1026.1,700.4L1028.1,700.1L1030.1,699.8L1032.1,699.5L1034.1,699.2L1036.1,698.9L1038.1,698.6L1040.1,698.2L1042.1,697.9L1044.1,697.6L1046.1,697.2L1048.1,696.9L1050.1,696.6L1052.1,696.2L1054.1,695.9L1056.1,695.6L1058.1,695.4L1060.1,695.1L1062.1,694.9L1064.1,694.7L1066.1,694.4L1068.1,694.2L1070.1,694.0L1072.1,693.7L1074.1,693.5L1076.1,693.2L1078.1,693.0L1080.1,692.8L1082.1,692.5L1084.1,692.3L1086.1,692.0L1088.1,691.8L1090.1,691.6L1092.1,691.3L1094.1,691.1L1096.1,690.8L1098.1,690.6L1100.1,690.4L1102.1,690.1L1104.1,689.9L1106.1,689.6L1108.1,689.4L1110.1,689.1L1112.1,688.9L1114.1,688.7L1116.1,688.4L1118.1,688.2L1120.1,687.9L1122.1,687.7L1124.1,687.4L1126.1,687.2L1128.1,686.9L1130.1,686.7L1132.1,686.5L1134.1,686.2L1136.1,686.0L1138.1,685.7L1140.1,685.5L1142.1,685.2L1144.1,685.0L1146.1,684.7L1148.1,684.5L1150.1,684.2L1152.1,684.0L1154.1,683.7L1156.1,683.5L1158.1,683.2L1160.1,683.0L1162.1,682.7L1164.1,682.5L1166.1,682.2L1168.1,682.0L1170.1,681.7L1172.1,681.5L1174.1,681.2L1176.1,680.9L1178.1,680.7L1180.1,680.4L1182.1,680.2L1184.1,679.9L1186.1,679.7L1188.1,679.4L1190.1,679.1L1192.1,678.9L1194.1,678.6L1196.1,678.4L1198.1,678.1L1200.1,677.9L1202.1,677.6L1204.1,677.3L1206.1,677.1L1208.1,676.8L1210.1,676.5L1212.1,676.3L1214.1,676.0L1216.1,675.8L1218.1,675.5L1220.1,675.2L1222.1,675.0L1224.1,674.7L1226.1,674.4L1228.1,674.2L1230.1,673.9L1232.1,673.6L1234.1,673.3L1236.1,673.1L1238.1,672.8L1240.1,672.5L1242.1,672.3L1244.1,672.0L1246.1,671.7L1248.1,671.4L1250.1,671.2L1252.1,670.9L1254.1,670.6L1256.1,670.3L1258.1,670.1L1260.1,669.8L1262.1,669.5L1264.1,669.2L1266.1,669.0L1268.1,668.7L1270.1,668.4L1272.1,668.1L1274.1,667.8L1276.1,667.6L1278.1,667.3L1280.1,667.0L1282.1,666.7L1284.1,666.4L1286.1,666.1L1288.1,665.8L1290.1,665.6L1292.1,665.3L1294.1,665.0L1296.1,664.7L1298.1,664.4L1300.1,664.1L1302.1,663.8L1304.1,663.5L1306.1,663.2L1308.1,662.9L1310.1,662.6L1312.1,662.3L1314.1,662.1L1316.1,661.8L1318.1,661.5L1320.1,661.2L1322.1,660.9L1324.1,660.6L1326.1,660.3L1328.1,660.0L1330.1,659.7L1332.1,659.4L1334.1,659.0L1336.1,658.7L1338.1,658.4L1340.1,658.1L1342.1,657.8L1344.1,657.5L1346.1,657.2L1348.1,656.9L1350.1,656.6L1352.1,656.3L1354.1,656.0L1356.1,655.6L1358.1,655.3L1360.1,655.0L1362.1,654.7L1364.1,654.4L1366.1,654.1L1368.1,653.7L1370.1,653.4L1372.1,653.1L1374.1,652.8L1376.1,652.5L1378.1,652.1L1380.1,651.8L1382.1,651.5L1384.1,651.2L1386.1,650.8L1388.1,650.5L1390.1,650.2L1392.1,649.8L1394.1,649.5L1396.1,649.2L1398.1,648.9L1400.1,648.5L1402.1,648.2L1404.1,647.8L1406.1,647.5L1408.1,647.2L1410.1,646.8L1412.1,646.5L1414.1,646.2L1416.1,645.8L1418.1,645.5L1420.1,645.1L1422.1,644.8L1424.1,644.4L1426.1,644.1L1428.1,643.7L1430.1,643.4L1432.1,643.0L1434.1,642.7L1436.1,642.3L1438.1,642.0L1440.1,641.6L1442.1,641.3L1444.1,640.9L1446.1,640.6L1448.1,640.2L1450.1,639.8L1452.1,639.5L1454.1,639.1L1456.1,638.8L1458.1,638.4L1460.1,638.0L1462.1,637.7L1464.1,637.3L1466.1,636.9L1468.1,636.6L1470.1,636.2L1472.1,635.8L1474.1,635.4L1476.1,635.1L1478.1,634.7L1480.1,634.3L1482.1,633.9L1484.1,633.6L1486.1,633.2L1488.1,632.8L1490.1,632.4L1492.1,632.0L1494.1,631.6L1496.1,631.3L1498.1,630.9L1500.1,630.5L1502.1,630.1L1504.1,629.7L1506.1,629.3L1508.1,628.9L1510.1,628.5L1512.1,628.1L1514.1,627.7L1516.1,627.3L1518.1,626.9L1520.1,626.5L1522.1,626.1L1524.1,625.7L1526.1,625.3L1528.1,624.9L1530.1,624.5L1532.1,624.1L1534.1,623.7L1536.1,623.3L1538.1,622.9L1540.1,622.4L1542.1,622.0L1544.1,621.6L1546.1,621.2L1548.1,620.8L1550.1,620.3L1552.1,619.9L1554.1,619.5L1556.1,619.1L1558.1,618.7L1560.1,618.2L1562.1,617.8L1564.1,617.4L1566.1,616.9L1568.1,616.5L1570.1,616.1L1572.1,615.6L1574.1,615.2L1576.1,614.8L1578.1,614.3L1580.1,613.9L1582.1,613.4L1584.1,613.0L1586.1,612.5L1588.1,612.1L1590.1,611.6L1592.1,611.2L1594.1,610.7L1596.1,610.3L1598.1,609.8L1600.1,609.4L1602.1,608.9L1604.1,608.5L1606.1,608.0L1608.1,607.5L1610.1,607.1L1612.1,606.6L1614.1,606.1L1616.1,605.7L1618.1,605.2L1620.1,604.7L1622.1,604.3L1624.1,603.8L1626.1,603.3L1628.1,602.8L1630.1,602.4L1632.1,601.9L1634.1,601.4L1636.1,600.9L1638.1,600.4L1640.1,599.9L1642.1,599.5L1644.1,599.0L1646.1,598.5L1647.1,598.2" fill="none" stroke="#efd591" stroke-width="1.5" stroke-dasharray="1.5 1.6"/>
<path d="M960.1,704.5L962.1,704.5L964.1,704.5L966.1,704.5L968.1,704.5L970.1,704.6L972.1,704.6L974.1,704.6L976.1,704.6L978.1,704.6L980.1,704.6L982.1,704.6L984.1,704.6L986.1,704.6L988.1,704.6L990.1,704.6L992.1,704.6L994.1,704.6L996.1,704.6L998.1,704.6L1000.1,704.6L1002.1,704.6L1004.1,704.6L1006.1,704.6L1008.1,704.6L1010.1,704.6L1012.1,704.6L1014.1,704.6L1016.1,704.6L1018.1,704.7L1020.1,704.8L1022.1,704.9L1024.1,705.0L1026.1,705.1L1028.1,705.1L1030.1,705.2L1032.1,705.3L1034.1,705.3L1036.1,705.3L1038.1,705.4L1040.1,705.4L1042.1,705.4L1044.1,705.4L1046.1,705.4L1048.1,705.3L1050.1,705.3L1052.1,705.3L1054.1,705.2L1056.1,705.1L1058.1,705.0L1060.1,704.9L1062.1,704.8L1064.1,704.6L1066.1,704.5L1068.1,704.4L1070.1,704.3L1072.1,704.1L1074.1,704.0L1076.1,703.9L1078.1,703.7L1080.1,703.6L1082.1,703.4L1084.1,703.3L1086.1,703.1L1088.1,703.0L1090.1,702.8L1092.1,702.7L1094.1,702.5L1096.1,702.4L1098.1,702.2L1100.1,702.1L1102.1,701.9L1104.1,701.7L1106.1,701.6L1108.1,701.4L1110.1,701.2L1112.1,701.1L1114.1,700.9L1116.1,700.7L1118.1,700.6L1120.1,700.4L1122.1,700.2L1124.1,700.0L1126.1,699.8L1128.1,699.7L1130.1,699.5L1132.1,699.3L1134.1,699.1L1136.1,698.9L1138.1,698.7L1140.1,698.5L1142.1,698.3L1144.1,698.1L1146.1,698.0L1148.1,697.8L1150.1,697.6L1152.1,697.4L1154.1,697.1L1156.1,696.9L1158.1,696.7L1160.1,696.5L1162.1,696.3L1164.1,696.1L1166.1,695.9L1168.1,695.7L1170.1,695.5L1172.1,695.3L1174.1,695.0L1176.1,694.8L1178.1,694.6L1180.1,694.4L1182.1,694.2L1184.1,693.9L1186.1,693.7L1188.1,693.5L1190.1,693.3L1192.1,693.0L1194.1,692.8L1196.1,692.6L1198.1,692.4L1200.1,692.1L1202.1,691.9L1204.1,691.7L1206.1,691.4L1208.1,691.2L1210.1,690.9L1212.1,690.7L1214.1,690.5L1216.1,690.2L1218.1,690.0L1220.1,689.7L1222.1,689.5L1224.1,689.2L1226.1,689.0L1228.1,688.7L1230.1,688.5L1232.1,688.2L1234.1,688.0L1236.1,687.7L1238.1,687.5L1240.1,687.2L1242.1,687.0L1244.1,686.7L1246.1,686.5L1248.1,686.2L1250.1,686.0L1252.1,685.7L1254.1,685.4L1256.1,685.2L1258.1,684.9L1260.1,684.7L1262.1,684.4L1264.1,684.1L1266.1,683.9L1268.1,683.6L1270.1,683.3L1272.1,683.1L1274.1,682.8L1276.1,682.5L1278.1,682.3L1280.1,682.0L1282.1,681.7L1284.1,681.4L1286.1,681.2L1288.1,680.9L1290.1,680.6L1292.1,680.4L1294.1,680.1L1296.1,679.8L1298.1,679.5L1300.1,679.2L1302.1,679.0L1304.1,678.7L1306.1,678.4L1308.1,678.1L1310.1,677.9L1312.1,677.6L1314.1,677.3L1316.1,677.0L1318.1,676.7L1320.1,676.5L1322.1,676.2L1324.1,675.9L1326.1,675.6L1328.1,675.3L1330.1,675.0L1332.1,674.8L1334.1,674.5L1336.1,674.2L1338.1,673.9L1340.1,673.6L1342.1,673.3L1344.1,673.0L1346.1,672.8L1348.1,672.5L1350.1,672.2L1352.1,671.9L1354.1,671.6L1356.1,671.3L1358.1,671.0L1360.1,670.7L1362.1,670.5L1364.1,670.2L1366.1,669.9L1368.1,669.6L1370.1,669.3L1372.1,669.0L1374.1,668.7L1376.1,668.4L1378.1,668.1L1380.1,667.8L1382.1,667.6L1384.1,667.3L1386.1,667.0L1388.1,666.7L1390.1,666.4L1392.1,666.1L1394.1,665.8L1396.1,665.5L1398.1,665.2L1400.1,664.9L1402.1,664.6L1404.1,664.4L1406.1,664.1L1408.1,663.8L1410.1,663.5L1412.1,663.2L1414.1,662.9L1416.1,662.6L1418.1,662.3L1420.1,662.0L1422.1,661.7L1424.1,661.5L1426.1,661.2L1428.1,660.9L1430.1,660.6L1432.1,660.3L1434.1,660.0L1436.1,659.7L1438.1,659.4L1440.1,659.1L1442.1,658.9L1444.1,658.6L1446.1,658.3L1448.1,658.0L1450.1,657.7L1452.1,657.4L1454.1,657.1L1456.1,656.9L1458.1,656.6L1460.1,656.3L1462.1,656.0L1464.1,655.7L1466.1,655.4L1468.1,655.2L1470.1,654.9L1472.1,654.6L1474.1,654.3L1476.1,654.0L1478.1,653.7L1480.1,653.5L1482.1,653.2L1484.1,652.9L1486.1,652.6L1488.1,652.3L1490.1,652.1L1492.1,651.8L1494.1,651.5L1496.1,651.2L1498.1,651.0L1500.1,650.7L1502.1,650.4L1504.1,650.1L1506.1,649.9L1508.1,649.6L1510.1,649.3L1512.1,649.1L1514.1,648.8L1516.1,648.5L1518.1,648.2L1520.1,648.0L1522.1,647.7L1524.1,647.4L1526.1,647.2L1528.1,646.9L1530.1,646.7L1532.1,646.4L1534.1,646.1L1536.1,645.9L1538.1,645.6L1540.1,645.3L1542.1,645.1L1544.1,644.8L1546.1,644.6L1548.1,644.3L1550.1,644.1L1552.1,643.8L1554.1,643.5L1556.1,643.3L1558.1,643.0L1560.1,642.8L1562.1,642.5L1564.1,642.3L1566.1,642.0L1568.1,641.8L1570.1,641.6L1572.1,641.3L1574.1,641.1L1576.1,640.8L1578.1,640.6L1580.1,640.3L1582.1,640.1L1584.1,639.9L1586.1,639.6L1588.1,639.4L1590.1,639.2L1592.1,638.9L1594.1,638.7L1596.1,638.5L1598.1,638.2L1600.1,638.0L1602.1,637.8L1604.1,637.5L1606.1,637.3L1608.1,637.1L1610.1,636.9L1612.1,636.6L1614.1,636.4L1616.1,636.2L1618.1,636.0L1620.1,635.8L1622.1,635.6L1624.1,635.3L1626.1,635.1L1628.1,634.9L1630.1,634.7L1632.1,634.5L1634.1,634.3L1636.1,634.1L1638.1,633.9L1640.1,633.7L1642.1,633.5L1644.1,633.3L1646.1,633.1L1647.1,633.0" fill="none" stroke="#efd591" stroke-width="1.5" stroke-dasharray="1.5 1.6"/>
<path d="M960.1,696.4L962.1,696.4L964.1,696.4L966.1,696.4L968.1,696.4L970.1,696.4L972.1,696.4L974.1,696.4L976.1,696.4L978.1,696.4L980.1,696.3L982.1,696.3L984.1,696.3L986.1,696.3L988.1,696.3L990.1,696.3L992.1,696.3L994.1,696.2L996.1,696.2L998.1,696.2L1000.1,696.2L1002.1,696.2L1004.1,696.1L1006.1,696.1L1008.1,696.0L1010.1,695.9L1012.1,695.8L1014.1,695.6L1016.1,695.4L1018.1,695.2L1020.1,694.9L1022.1,694.7L1024.1,694.4L1026.1,694.2L1028.1,694.0L1030.1,693.8L1032.1,693.6L1034.1,693.4L1036.1,693.2L1038.1,693.1L1040.1,693.0L1042.1,692.8L1044.1,692.7L1046.1,692.7L1048.1,692.6L1050.1,692.5L1052.1,692.5L1054.1,692.4L1056.1,692.4L1058.1,692.4L1060.1,692.3L1062.1,692.3L1064.1,692.2L1066.1,692.2L1068.1,692.1L1070.1,692.1L1072.1,692.0L1074.1,692.0L1076.1,691.9L1078.1,691.9L1080.1,691.8L1082.1,691.8L1084.1,691.7L1086.1,691.7L1088.1,691.6L1090.1,691.6L1092.1,691.5L1094.1,691.5L1096.1,691.4L1098.1,691.3L1100.1,691.3L1102.1,691.2L1104.1,691.2L1106.1,691.1L1108.1,691.0L1110.1,691.0L1112.1,690.9L1114.1,690.8L1116.1,690.8L1118.1,690.7L1120.1,690.7L1122.1,690.6L1124.1,690.5L1126.1,690.4L1128.1,690.4L1130.1,690.3L1132.1,690.2L1134.1,690.2L1136.1,690.1L1138.1,690.0L1140.1,690.0L1142.1,689.9L1144.1,689.8L1146.1,689.7L1148.1,689.7L1150.1,689.6L1152.1,689.5L1154.1,689.4L1156.1,689.3L1158.1,689.3L1160.1,689.2L1162.1,689.1L1164.1,689.0L1166.1,688.9L1168.1,688.9L1170.1,688.8L1172.1,688.7L1174.1,688.6L1176.1,688.5L1178.1,688.4L1180.1,688.3L1182.1,688.3L1184.1,688.2L1186.1,688.1L1188.1,688.0L1190.1,687.9L1192.1,687.8L1194.1,687.7L1196.1,687.6L1198.1,687.5L1200.1,687.5L1202.1,687.4L1204.1,687.3L1206.1,687.2L1208.1,687.1L1210.1,687.0L1212.1,686.9L1214.1,686.8L1216.1,686.7L1218.1,686.6L1220.1,686.5L1222.1,686.4L1224.1,686.3L1226.1,686.2L1228.1,686.1L1230.1,686.0L1232.1,685.9L1234.1,685.8L1236.1,685.7L1238.1,685.6L1240.1,685.5L1242.1,685.4L1244.1,685.3L1246.1,685.2L1248.1,685.1L1250.1,685.0L1252.1,684.9L1254.1,684.8L1256.1,684.7L1258.1,684.5L1260.1,684.4L1262.1,684.3L1264.1,684.2L1266.1,684.1L1268.1,684.0L1270.1,683.9L1272.1,683.8L1274.1,683.7L1276.1,683.6L1278.1,683.5L1280.1,683.3L1282.1,683.2L1284.1,683.1L1286.1,683.0L1288.1,682.9L1290.1,682.8L1292.1,682.7L1294.1,682.5L1296.1,682.4L1298.1,682.3L1300.1,682.2L1302.1,682.1L1304.1,682.0L1306.1,681.8L1308.1,681.7L1310.1,681.6L1312.1,681.5L1314.1,681.4L1316.1,681.3L1318.1,681.1L1320.1,681.0L1322.1,680.9L1324.1,680.8L1326.1,680.7L1328.1,680.5L1330.1,680.4L1332.1,680.3L1334.1,680.2L1336.1,680.0L1338.1,679.9L1340.1,679.8L1342.1,679.7L1344.1,679.6L1346.1,679.4L1348.1,679.3L1350.1,679.2L1352.1,679.1L1354.1,678.9L1356.1,678.8L1358.1,678.7L1360.1,678.6L1362.1,678.4L1364.1,678.3L1366.1,678.2L1368.1,678.1L1370.1,677.9L1372.1,677.8L1374.1,677.7L1376.1,677.5L1378.1,677.4L1380.1,677.3L1382.1,677.2L1384.1,677.0L1386.1,676.9L1388.1,676.8L1390.1,676.6L1392.1,676.5L1394.1,676.4L1396.1,676.3L1398.1,676.1L1400.1,676.0L1402.1,675.9L1404.1,675.7L1406.1,675.6L1408.1,675.5L1410.1,675.3L1412.1,675.2L1414.1,675.1L1416.1,674.9L1418.1,674.8L1420.1,674.7L1422.1,674.5L1424.1,674.4L1426.1,674.3L1428.1,674.2L1430.1,674.0L1432.1,673.9L1434.1,673.8L1436.1,673.6L1438.1,673.5L1440.1,673.4L1442.1,673.2L1444.1,673.1L1446.1,672.9L1448.1,672.8L1450.1,672.7L1452.1,672.5L1454.1,672.4L1456.1,672.3L1458.1,672.1L1460.1,672.0L1462.1,671.9L1464.1,671.7L1466.1,671.6L1468.1,671.5L1470.1,671.3L1472.1,671.2L1474.1,671.1L1476.1,670.9L1478.1,670.8L1480.1,670.7L1482.1,670.5L1484.1,670.4L1486.1,670.3L1488.1,670.1L1490.1,670.0L1492.1,669.8L1494.1,669.7L1496.1,669.6L1498.1,669.4L1500.1,669.3L1502.1,669.2L1504.1,669.0L1506.1,668.9L1508.1,668.8L1510.1,668.6L1512.1,668.5L1514.1,668.4L1516.1,668.2L1518.1,668.1L1520.1,668.0L1522.1,667.8L1524.1,667.7L1526.1,667.5L1528.1,667.4L1530.1,667.3L1532.1,667.1L1534.1,667.0L1536.1,666.9L1538.1,666.7L1540.1,666.6L1542.1,666.5L1544.1,666.3L1546.1,666.2L1548.1,666.1L1550.1,665.9L1552.1,665.8L1554.1,665.7L1556.1,665.5L1558.1,665.4L1560.1,665.3L1562.1,665.1L1564.1,665.0L1566.1,664.9L1568.1,664.7L1570.1,664.6L1572.1,664.5L1574.1,664.3L1576.1,664.2L1578.1,664.1L1580.1,663.9L1582.1,663.8L1584.1,663.7L1586.1,663.5L1588.1,663.4L1590.1,663.3L1592.1,663.1L1594.1,663.0L1596.1,662.9L1598.1,662.7L1600.1,662.6L1602.1,662.5L1604.1,662.3L1606.1,662.2L1608.1,662.1L1610.1,662.0L1612.1,661.8L1614.1,661.7L1616.1,661.6L1618.1,661.4L1620.1,661.3L1622.1,661.2L1624.1,661.1L1626.1,660.9L1628.1,660.8L1630.1,660.7L1632.1,660.5L1634.1,660.4L1636.1,660.3L1638.1,660.2L1640.1,660.0L1642.1,659.9L1644.1,659.8L1646.1,659.7L1647.1,659.6" fill="none" stroke="#c8aed6" stroke-width="1.5" stroke-dasharray="1.5 1.6"/>
<path d="M960.1,713.0L962.1,713.0L964.1,713.0L966.1,713.0L968.1,713.0L970.1,713.0L972.1,713.0L974.1,713.0L976.1,713.0L978.1,713.0L980.1,713.0L982.1,713.0L984.1,713.0L986.1,713.0L988.1,713.0L990.1,713.0L992.1,713.0L994.1,713.0L996.1,713.0L998.1,713.0L1000.1,713.0L1002.1,713.0L1004.1,713.0L1006.1,713.0L1008.1,713.0L1010.1,713.0L1012.1,713.0L1014.1,713.0L1016.1,713.1L1018.1,713.2L1020.1,713.3L1022.1,713.3L1024.1,713.4L1026.1,713.5L1028.1,713.6L1030.1,713.6L1032.1,713.7L1034.1,713.7L1036.1,713.7L1038.1,713.8L1040.1,713.8L1042.1,713.8L1044.1,713.8L1046.1,713.8L1048.1,713.8L1050.1,713.8L1052.1,713.7L1054.1,713.7L1056.1,713.6L1058.1,713.6L1060.1,713.5L1062.1,713.4L1064.1,713.3L1066.1,713.3L1068.1,713.2L1070.1,713.1L1072.1,713.0L1074.1,713.0L1076.1,712.9L1078.1,712.8L1080.1,712.7L1082.1,712.7L1084.1,712.6L1086.1,712.5L1088.1,712.4L1090.1,712.4L1092.1,712.3L1094.1,712.2L1096.1,712.1L1098.1,712.1L1100.1,712.0L1102.1,711.9L1104.1,711.8L1106.1,711.8L1108.1,711.7L1110.1,711.6L1112.1,711.5L1114.1,711.5L1116.1,711.4L1118.1,711.3L1120.1,711.2L1122.1,711.1L1124.1,711.1L1126.1,711.0L1128.1,710.9L1130.1,710.8L1132.1,710.8L1134.1,710.7L1136.1,710.6L1138.1,710.5L1140.1,710.5L1142.1,710.4L1144.1,710.3L1146.1,710.2L1148.1,710.2L1150.1,710.1L1152.1,710.0L1154.1,709.9L1156.1,709.8L1158.1,709.8L1160.1,709.7L1162.1,709.6L1164.1,709.5L1166.1,709.5L1168.1,709.4L1170.1,709.3L1172.1,709.2L1174.1,709.2L1176.1,709.1L1178.1,709.0L1180.1,708.9L1182.1,708.8L1184.1,708.8L1186.1,708.7L1188.1,708.6L1190.1,708.5L1192.1,708.5L1194.1,708.4L1196.1,708.3L1198.1,708.2L1200.1,708.1L1202.1,708.1L1204.1,708.0L1206.1,707.9L1208.1,707.8L1210.1,707.7L1212.1,707.7L1214.1,707.6L1216.1,707.5L1218.1,707.4L1220.1,707.3L1222.1,707.3L1224.1,707.2L1226.1,707.1L1228.1,707.0L1230.1,706.9L1232.1,706.9L1234.1,706.8L1236.1,706.7L1238.1,706.6L1240.1,706.5L1242.1,706.5L1244.1,706.4L1246.1,706.3L1248.1,706.2L1250.1,706.1L1252.1,706.0L1254.1,706.0L1256.1,705.9L1258.1,705.8L1260.1,705.7L1262.1,705.6L1264.1,705.5L1266.1,705.5L1268.1,705.4L1270.1,705.3L1272.1,705.2L1274.1,705.1L1276.1,705.0L1278.1,705.0L1280.1,704.9L1282.1,704.8L1284.1,704.7L1286.1,704.6L1288.1,704.5L1290.1,704.4L1292.1,704.4L1294.1,704.3L1296.1,704.2L1298.1,704.1L1300.1,704.0L1302.1,703.9L1304.1,703.8L1306.1,703.8L1308.1,703.7L1310.1,703.6L1312.1,703.5L1314.1,703.4L1316.1,703.3L1318.1,703.2L1320.1,703.1L1322.1,703.0L1324.1,703.0L1326.1,702.9L1328.1,702.8L1330.1,702.7L1332.1,702.6L1334.1,702.5L1336.1,702.4L1338.1,702.3L1340.1,702.2L1342.1,702.1L1344.1,702.1L1346.1,702.0L1348.1,701.9L1350.1,701.8L1352.1,701.7L1354.1,701.6L1356.1,701.5L1358.1,701.4L1360.1,701.3L1362.1,701.2L1364.1,701.1L1366.1,701.0L1368.1,700.9L1370.1,700.8L1372.1,700.7L1374.1,700.6L1376.1,700.6L1378.1,700.5L1380.1,700.4L1382.1,700.3L1384.1,700.2L1386.1,700.1L1388.1,700.0L1390.1,699.9L1392.1,699.8L1394.1,699.7L1396.1,699.6L1398.1,699.5L1400.1,699.4L1402.1,699.3L1404.1,699.2L1406.1,699.1L1408.1,699.0L1410.1,698.9L1412.1,698.8L1414.1,698.7L1416.1,698.6L1418.1,698.5L1420.1,698.4L1422.1,698.3L1424.1,698.2L1426.1,698.1L1428.1,698.0L1430.1,697.9L1432.1,697.7L1434.1,697.6L1436.1,697.5L1438.1,697.4L1440.1,697.3L1442.1,697.2L1444.1,697.1L1446.1,697.0L1448.1,696.9L1450.1,696.8L1452.1,696.7L1454.1,696.6L1456.1,696.5L1458.1,696.4L1460.1,696.3L1462.1,696.1L1464.1,696.0L1466.1,695.9L1468.1,695.8L1470.1,695.7L1472.1,695.6L1474.1,695.5L1476.1,695.4L1478.1,695.3L1480.1,695.1L1482.1,695.0L1484.1,694.9L1486.1,694.8L1488.1,694.7L1490.1,694.6L1492.1,694.5L1494.1,694.3L1496.1,694.2L1498.1,694.1L1500.1,694.0L1502.1,693.9L1504.1,693.8L1506.1,693.6L1508.1,693.5L1510.1,693.4L1512.1,693.3L1514.1,693.2L1516.1,693.0L1518.1,692.9L1520.1,692.8L1522.1,692.7L1524.1,692.6L1526.1,692.4L1528.1,692.3L1530.1,692.2L1532.1,692.1L1534.1,692.0L1536.1,691.8L1538.1,691.7L1540.1,691.6L1542.1,691.5L1544.1,691.3L1546.1,691.2L1548.1,691.1L1550.1,690.9L1552.1,690.8L1554.1,690.7L1556.1,690.6L1558.1,690.4L1560.1,690.3L1562.1,690.2L1564.1,690.0L1566.1,689.9L1568.1,689.8L1570.1,689.7L1572.1,689.5L1574.1,689.4L1576.1,689.3L1578.1,689.1L1580.1,689.0L1582.1,688.9L1584.1,688.7L1586.1,688.6L1588.1,688.4L1590.1,688.3L1592.1,688.2L1594.1,688.0L1596.1,687.9L1598.1,687.8L1600.1,687.6L1602.1,687.5L1604.1,687.3L1606.1,687.2L1608.1,687.1L1610.1,686.9L1612.1,686.8L1614.1,686.6L1616.1,686.5L1618.1,686.4L1620.1,686.2L1622.1,686.1L1624.1,685.9L1626.1,685.8L1628.1,685.6L1630.1,685.5L1632.1,685.3L1634.1,685.2L1636.1,685.0L1638.1,684.9L1640.1,684.7L1642.1,684.6L1644.1,684.4L1646.1,684.3L1647.1,684.2" fill="none" stroke="#c8aed6" stroke-width="1.5" stroke-dasharray="1.5 1.6"/>
<path d="M960.1,703.5L962.1,703.5L964.1,703.5L966.1,703.5L968.1,703.5L970.1,703.5L972.1,703.5L974.1,703.5L976.1,703.5L978.1,703.5L980.1,703.5L982.1,703.5L984.1,703.4L986.1,703.4L988.1,703.4L990.1,703.4L992.1,703.4L994.1,703.4L996.1,703.3L998.1,703.3L1000.1,703.3L1002.1,702.7L1004.1,701.4L1006.1,699.9L1008.1,698.3L1010.1,696.3L1012.1,694.2L1014.1,692.3L1016.1,690.7L1018.1,689.3L1020.1,687.8L1022.1,686.3L1024.1,684.9L1026.1,683.3L1028.1,681.8L1030.1,680.2L1032.1,678.5L1034.1,676.8L1036.1,675.0L1038.1,673.1L1040.1,671.3L1042.1,669.4L1044.1,667.4L1046.1,665.5L1048.1,663.5L1050.1,661.4L1052.1,659.4L1054.1,657.4L1056.1,655.4L1058.1,653.6L1060.1,651.8L1062.1,650.0L1064.1,648.2L1066.1,646.4L1068.1,644.6L1070.1,642.8L1072.1,641.0L1074.1,639.2L1076.1,637.5L1078.1,635.7L1080.1,634.0L1082.1,632.3L1084.1,630.5L1086.1,628.8L1088.1,627.1L1090.1,625.4L1092.1,623.7L1094.1,622.0L1096.1,620.3L1098.1,618.7L1100.1,617.0L1102.1,615.3L1104.1,613.7L1106.1,612.0L1108.1,610.4L1110.1,608.8L1112.1,607.1L1114.1,605.5L1116.1,603.9L1118.1,602.3L1120.1,600.7L1122.1,599.1L1124.1,597.6L1126.1,596.0L1128.1,594.4L1130.1,592.9L1132.1,591.3L1134.1,589.8L1136.1,588.3L1138.1,586.7L1140.1,585.2L1142.1,583.7L1144.1,582.2L1146.1,580.7L1148.1,579.2L1150.1,577.7L1152.1,576.2L1154.1,574.8L1156.1,573.3L1158.1,571.8L1160.1,570.4L1162.1,568.9L1164.1,567.5L1166.1,566.1L1168.1,564.6L1170.1,563.2L1172.1,561.8L1174.1,560.4L1176.1,559.0L1178.1,557.6L1180.1,556.2L1182.1,554.8L1184.1,553.5L1186.1,552.1L1188.1,550.7L1190.1,549.4L1192.1,548.0L1194.1,546.7L1196.1,545.4L1198.1,544.0L1200.1,542.7L1202.1,541.4L1204.1,540.1L1206.1,538.8L1208.1,537.5L1210.1,536.2L1212.1,534.9L1214.1,533.6L1216.1,532.4L1218.1,531.1L1220.1,529.8L1222.1,528.6L1224.1,527.3L1226.1,526.1L1228.1,524.8L1230.1,523.6L1232.1,522.4L1234.1,521.2L1236.1,520.0L1238.1,518.7L1240.1,517.5L1242.1,516.3L1244.1,515.2L1246.1,514.0L1248.1,512.8L1250.1,511.6L1252.1,510.4L1254.1,509.3L1256.1,508.1L1258.1,507.0L1260.1,505.8L1262.1,504.7L1264.1,503.6L1266.1,502.4L1268.1,501.3L1270.1,500.2L1272.1,499.1L1274.1,498.0L1276.1,496.8L1278.1,495.8L1280.1,494.7L1282.1,493.6L1284.1,492.5L1286.1,491.4L1288.1,490.3L1290.1,489.3L1292.1,488.2L1294.1,487.1L1296.1,486.1L1298.1,485.0L1300.1,484.0L1302.1,483.0L1304.1,481.9L1306.1,480.9L1308.1,479.9L1310.1,478.9L1312.1,477.9L1314.1,476.8L1316.1,475.8L1318.1,474.8L1320.1,473.8L1322.1,472.9L1324.1,471.9L1326.1,470.9L1328.1,469.9L1330.1,468.9L1332.1,468.0L1334.1,467.0L1336.1,466.1L1338.1,465.1L1340.1,464.2L1342.1,463.2L1344.1,462.3L1346.1,461.3L1348.1,460.4L1350.1,459.5L1352.1,458.6L1354.1,457.6L1356.1,456.7L1358.1,455.8L1360.1,454.9L1362.1,454.0L1364.1,453.1L1366.1,452.2L1368.1,451.3L1370.1,450.4L1372.1,449.6L1374.1,448.7L1376.1,447.8L1378.1,446.9L1380.1,446.1L1382.1,445.2L1384.1,444.4L1386.1,443.5L1388.1,442.7L1390.1,441.8L1392.1,441.0L1394.1,440.1L1396.1,439.3L1398.1,438.5L1400.1,437.6L1402.1,436.8L1404.1,436.0L1406.1,435.2L1408.1,434.4L1410.1,433.5L1412.1,432.7L1414.1,431.9L1416.1,431.1L1418.1,430.3L1420.1,429.6L1422.1,428.8L1424.1,428.0L1426.1,427.2L1428.1,426.4L1430.1,425.6L1432.1,424.9L1434.1,424.1L1436.1,423.3L1438.1,422.6L1440.1,421.8L1442.1,421.1L1444.1,420.3L1446.1,419.6L1448.1,418.8L1450.1,418.1L1452.1,417.3L1454.1,416.6L1456.1,415.8L1458.1,415.1L1460.1,414.4L1462.1,413.7L1464.1,412.9L1466.1,412.2L1468.1,411.5L1470.1,410.8L1472.1,410.1L1474.1,409.4L1476.1,408.7L1478.1,407.9L1480.1,407.2L1482.1,406.5L1484.1,405.8L1486.1,405.2L1488.1,404.5L1490.1,403.8L1492.1,403.1L1494.1,402.4L1496.1,401.7L1498.1,401.0L1500.1,400.4L1502.1,399.7L1504.1,399.0L1506.1,398.3L1508.1,397.7L1510.1,397.0L1512.1,396.4L1514.1,395.7L1516.1,395.0L1518.1,394.4L1520.1,393.7L1522.1,393.1L1524.1,392.4L1526.1,391.8L1528.1,391.1L1530.1,390.5L1532.1,389.8L1534.1,389.2L1536.1,388.6L1538.1,387.9L1540.1,387.3L1542.1,386.7L1544.1,386.0L1546.1,385.4L1548.1,384.8L1550.1,384.1L1552.1,383.5L1554.1,382.9L1556.1,382.3L1558.1,381.7L1560.1,381.0L1562.1,380.4L1564.1,379.8L1566.1,379.2L1568.1,378.6L1570.1,378.0L1572.1,377.4L1574.1,376.8L1576.1,376.1L1578.1,375.5L1580.1,374.9L1582.1,374.3L1584.1,373.7L1586.1,373.1L1588.1,372.5L1590.1,371.9L1592.1,371.4L1594.1,370.8L1596.1,370.2L1598.1,369.6L1600.1,369.0L1602.1,368.4L1604.1,367.8L1606.1,367.2L1608.1,366.6L1610.1,366.0L1612.1,365.5L1614.1,364.9L1616.1,364.3L1618.1,363.7L1620.1,363.1L1622.1,362.5L1624.1,362.0L1626.1,361.4L1628.1,360.8L1630.1,360.2L1632.1,359.7L1634.1,359.1L1636.1,358.5L1638.1,357.9L1640.1,357.4L1642.1,356.8L1644.1,356.2L1646.1,355.6L1647.1,355.4" fill="none" stroke="#3a6ec0" stroke-width="4" stroke-dasharray="17 4.5 8.5 4.5"/>
<path d="M960.1,703.5L962.1,703.5L964.1,703.5L966.1,703.5L968.1,703.5L970.1,703.5L972.1,703.5L974.1,703.4L976.1,703.4L978.1,703.4L980.1,703.4L982.1,703.4L984.1,703.3L986.1,703.3L988.1,703.3L990.1,703.2L992.1,703.2L994.1,703.1L996.1,703.1L998.1,703.1L1000.1,703.0L1002.1,702.7L1004.1,702.2L1006.1,701.4L1008.1,700.5L1010.1,699.4L1012.1,698.4L1014.1,697.5L1016.1,696.8L1018.1,696.4L1020.1,696.1L1022.1,695.9L1024.1,695.7L1026.1,695.5L1028.1,695.2L1030.1,695.0L1032.1,694.7L1034.1,694.5L1036.1,694.2L1038.1,693.8L1040.1,693.5L1042.1,693.1L1044.1,692.6L1046.1,692.2L1048.1,691.7L1050.1,691.1L1052.1,690.6L1054.1,690.0L1056.1,689.4L1058.1,688.8L1060.1,688.2L1062.1,687.7L1064.1,687.1L1066.1,686.5L1068.1,685.9L1070.1,685.3L1072.1,684.7L1074.1,684.1L1076.1,683.5L1078.1,682.8L1080.1,682.2L1082.1,681.6L1084.1,681.0L1086.1,680.3L1088.1,679.7L1090.1,679.1L1092.1,678.4L1094.1,677.8L1096.1,677.2L1098.1,676.5L1100.1,675.9L1102.1,675.2L1104.1,674.6L1106.1,673.9L1108.1,673.2L1110.1,672.6L1112.1,671.9L1114.1,671.3L1116.1,670.6L1118.1,669.9L1120.1,669.2L1122.1,668.6L1124.1,667.9L1126.1,667.2L1128.1,666.5L1130.1,665.8L1132.1,665.1L1134.1,664.4L1136.1,663.7L1138.1,663.0L1140.1,662.3L1142.1,661.6L1144.1,660.9L1146.1,660.2L1148.1,659.5L1150.1,658.8L1152.1,658.1L1154.1,657.4L1156.1,656.6L1158.1,655.9L1160.1,655.2L1162.1,654.5L1164.1,653.7L1166.1,653.0L1168.1,652.3L1170.1,651.5L1172.1,650.8L1174.1,650.1L1176.1,649.3L1178.1,648.6L1180.1,647.8L1182.1,647.1L1184.1,646.4L1186.1,645.6L1188.1,644.9L1190.1,644.1L1192.1,643.4L1194.1,642.6L1196.1,641.8L1198.1,641.1L1200.1,640.3L1202.1,639.6L1204.1,638.8L1206.1,638.0L1208.1,637.3L1210.1,636.5L1212.1,635.7L1214.1,635.0L1216.1,634.2L1218.1,633.4L1220.1,632.7L1222.1,631.9L1224.1,631.1L1226.1,630.3L1228.1,629.6L1230.1,628.8L1232.1,628.0L1234.1,627.2L1236.1,626.4L1238.1,625.7L1240.1,624.9L1242.1,624.1L1244.1,623.3L1246.1,622.5L1248.1,621.7L1250.1,620.9L1252.1,620.2L1254.1,619.4L1256.1,618.6L1258.1,617.8L1260.1,617.0L1262.1,616.2L1264.1,615.4L1266.1,614.6L1268.1,613.8L1270.1,613.0L1272.1,612.2L1274.1,611.4L1276.1,610.6L1278.1,609.8L1280.1,609.1L1282.1,608.3L1284.1,607.5L1286.1,606.7L1288.1,605.9L1290.1,605.1L1292.1,604.3L1294.1,603.5L1296.1,602.7L1298.1,601.9L1300.1,601.1L1302.1,600.3L1304.1,599.5L1306.1,598.7L1308.1,597.9L1310.1,597.1L1312.1,596.3L1314.1,595.5L1316.1,594.7L1318.1,593.9L1320.1,593.1L1322.1,592.3L1324.1,591.5L1326.1,590.7L1328.1,589.9L1330.1,589.1L1332.1,588.3L1334.1,587.5L1336.1,586.7L1338.1,585.9L1340.1,585.2L1342.1,584.4L1344.1,583.6L1346.1,582.8L1348.1,582.0L1350.1,581.2L1352.1,580.4L1354.1,579.6L1356.1,578.8L1358.1,578.0L1360.1,577.2L1362.1,576.4L1364.1,575.7L1366.1,574.9L1368.1,574.1L1370.1,573.3L1372.1,572.5L1374.1,571.7L1376.1,571.0L1378.1,570.2L1380.1,569.4L1382.1,568.6L1384.1,567.8L1386.1,567.0L1388.1,566.3L1390.1,565.5L1392.1,564.7L1394.1,563.9L1396.1,563.2L1398.1,562.4L1400.1,561.6L1402.1,560.9L1404.1,560.1L1406.1,559.3L1408.1,558.6L1410.1,557.8L1412.1,557.0L1414.1,556.3L1416.1,555.5L1418.1,554.7L1420.1,554.0L1422.1,553.2L1424.1,552.5L1426.1,551.7L1428.1,551.0L1430.1,550.2L1432.1,549.5L1434.1,548.7L1436.1,548.0L1438.1,547.2L1440.1,546.5L1442.1,545.7L1444.1,545.0L1446.1,544.2L1448.1,543.5L1450.1,542.8L1452.1,542.0L1454.1,541.3L1456.1,540.6L1458.1,539.8L1460.1,539.1L1462.1,538.4L1464.1,537.7L1466.1,536.9L1468.1,536.2L1470.1,535.5L1472.1,534.8L1474.1,534.1L1476.1,533.4L1478.1,532.6L1480.1,531.9L1482.1,531.2L1484.1,530.5L1486.1,529.8L1488.1,529.1L1490.1,528.4L1492.1,527.7L1494.1,527.0L1496.1,526.3L1498.1,525.7L1500.1,525.0L1502.1,524.3L1504.1,523.6L1506.1,522.9L1508.1,522.3L1510.1,521.6L1512.1,520.9L1514.1,520.2L1516.1,519.6L1518.1,518.9L1520.1,518.2L1522.1,517.6L1524.1,516.9L1526.1,516.3L1528.1,515.6L1530.1,515.0L1532.1,514.3L1534.1,513.7L1536.1,513.0L1538.1,512.4L1540.1,511.8L1542.1,511.1L1544.1,510.5L1546.1,509.9L1548.1,509.2L1550.1,508.6L1552.1,508.0L1554.1,507.4L1556.1,506.8L1558.1,506.2L1560.1,505.6L1562.1,505.0L1564.1,504.3L1566.1,503.8L1568.1,503.2L1570.1,502.6L1572.1,502.0L1574.1,501.4L1576.1,500.8L1578.1,500.2L1580.1,499.7L1582.1,499.1L1584.1,498.5L1586.1,497.9L1588.1,497.4L1590.1,496.8L1592.1,496.3L1594.1,495.7L1596.1,495.2L1598.1,494.6L1600.1,494.1L1602.1,493.5L1604.1,493.0L1606.1,492.5L1608.1,491.9L1610.1,491.4L1612.1,490.9L1614.1,490.4L1616.1,489.9L1618.1,489.3L1620.1,488.8L1622.1,488.3L1624.1,487.8L1626.1,487.3L1628.1,486.9L1630.1,486.4L1632.1,485.9L1634.1,485.4L1636.1,484.9L1638.1,484.5L1640.1,484.0L1642.1,483.5L1644.1,483.1L1646.1,482.6L1647.1,482.4" fill="none" stroke="#d0531e" stroke-width="4" stroke-dasharray="17 4.5 8.5 4.5"/>
<path d="M960.1,703.5L962.1,703.5L964.1,703.5L966.1,703.5L968.1,703.5L970.1,703.5L972.1,703.5L974.1,703.5L976.1,703.5L978.1,703.5L980.1,703.5L982.1,703.5L984.1,703.5L986.1,703.5L988.1,703.4L990.1,703.4L992.1,703.4L994.1,703.4L996.1,703.4L998.1,703.4L1000.1,703.4L1002.1,703.4L1004.1,703.4L1006.1,703.3L1008.1,703.3L1010.1,703.3L1012.1,703.2L1014.1,703.2L1016.1,703.1L1018.1,703.0L1020.1,702.9L1022.1,702.7L1024.1,702.6L1026.1,702.5L1028.1,702.4L1030.1,702.2L1032.1,702.1L1034.1,702.0L1036.1,701.8L1038.1,701.7L1040.1,701.5L1042.1,701.4L1044.1,701.2L1046.1,701.1L1048.1,701.0L1050.1,700.8L1052.1,700.7L1054.1,700.5L1056.1,700.4L1058.1,700.3L1060.1,700.1L1062.1,700.0L1064.1,699.9L1066.1,699.8L1068.1,699.6L1070.1,699.5L1072.1,699.4L1074.1,699.2L1076.1,699.1L1078.1,698.9L1080.1,698.8L1082.1,698.7L1084.1,698.5L1086.1,698.4L1088.1,698.2L1090.1,698.1L1092.1,697.9L1094.1,697.7L1096.1,697.6L1098.1,697.4L1100.1,697.3L1102.1,697.1L1104.1,696.9L1106.1,696.8L1108.1,696.6L1110.1,696.4L1112.1,696.2L1114.1,696.1L1116.1,695.9L1118.1,695.7L1120.1,695.5L1122.1,695.4L1124.1,695.2L1126.1,695.0L1128.1,694.8L1130.1,694.6L1132.1,694.4L1134.1,694.2L1136.1,694.0L1138.1,693.8L1140.1,693.6L1142.1,693.4L1144.1,693.2L1146.1,693.0L1148.1,692.8L1150.1,692.6L1152.1,692.4L1154.1,692.2L1156.1,692.0L1158.1,691.8L1160.1,691.6L1162.1,691.3L1164.1,691.1L1166.1,690.9L1168.1,690.7L1170.1,690.5L1172.1,690.2L1174.1,690.0L1176.1,689.8L1178.1,689.6L1180.1,689.3L1182.1,689.1L1184.1,688.9L1186.1,688.6L1188.1,688.4L1190.1,688.2L1192.1,687.9L1194.1,687.7L1196.1,687.5L1198.1,687.2L1200.1,687.0L1202.1,686.7L1204.1,686.5L1206.1,686.2L1208.1,686.0L1210.1,685.7L1212.1,685.5L1214.1,685.2L1216.1,685.0L1218.1,684.7L1220.1,684.5L1222.1,684.2L1224.1,683.9L1226.1,683.7L1228.1,683.4L1230.1,683.2L1232.1,682.9L1234.1,682.6L1236.1,682.4L1238.1,682.1L1240.1,681.8L1242.1,681.5L1244.1,681.3L1246.1,681.0L1248.1,680.7L1250.1,680.5L1252.1,680.2L1254.1,679.9L1256.1,679.6L1258.1,679.3L1260.1,679.1L1262.1,678.8L1264.1,678.5L1266.1,678.2L1268.1,677.9L1270.1,677.6L1272.1,677.4L1274.1,677.1L1276.1,676.8L1278.1,676.5L1280.1,676.2L1282.1,675.9L1284.1,675.6L1286.1,675.3L1288.1,675.0L1290.1,674.7L1292.1,674.4L1294.1,674.1L1296.1,673.8L1298.1,673.5L1300.1,673.2L1302.1,672.9L1304.1,672.6L1306.1,672.3L1308.1,672.0L1310.1,671.7L1312.1,671.4L1314.1,671.1L1316.1,670.8L1318.1,670.5L1320.1,670.2L1322.1,669.9L1324.1,669.6L1326.1,669.3L1328.1,668.9L1330.1,668.6L1332.1,668.3L1334.1,668.0L1336.1,667.7L1338.1,667.4L1340.1,667.1L1342.1,666.7L1344.1,666.4L1346.1,666.1L1348.1,665.8L1350.1,665.5L1352.1,665.1L1354.1,664.8L1356.1,664.5L1358.1,664.2L1360.1,663.9L1362.1,663.5L1364.1,663.2L1366.1,662.9L1368.1,662.6L1370.1,662.2L1372.1,661.9L1374.1,661.6L1376.1,661.3L1378.1,660.9L1380.1,660.6L1382.1,660.3L1384.1,659.9L1386.1,659.6L1388.1,659.3L1390.1,659.0L1392.1,658.6L1394.1,658.3L1396.1,658.0L1398.1,657.6L1400.1,657.3L1402.1,657.0L1404.1,656.6L1406.1,656.3L1408.1,656.0L1410.1,655.6L1412.1,655.3L1414.1,655.0L1416.1,654.6L1418.1,654.3L1420.1,654.0L1422.1,653.6L1424.1,653.3L1426.1,652.9L1428.1,652.6L1430.1,652.3L1432.1,651.9L1434.1,651.6L1436.1,651.3L1438.1,650.9L1440.1,650.6L1442.1,650.2L1444.1,649.9L1446.1,649.6L1448.1,649.2L1450.1,648.9L1452.1,648.6L1454.1,648.2L1456.1,647.9L1458.1,647.5L1460.1,647.2L1462.1,646.9L1464.1,646.5L1466.1,646.2L1468.1,645.8L1470.1,645.5L1472.1,645.2L1474.1,644.8L1476.1,644.5L1478.1,644.1L1480.1,643.8L1482.1,643.4L1484.1,643.1L1486.1,642.8L1488.1,642.4L1490.1,642.1L1492.1,641.7L1494.1,641.4L1496.1,641.1L1498.1,640.7L1500.1,640.4L1502.1,640.0L1504.1,639.7L1506.1,639.4L1508.1,639.0L1510.1,638.7L1512.1,638.4L1514.1,638.0L1516.1,637.7L1518.1,637.3L1520.1,637.0L1522.1,636.7L1524.1,636.3L1526.1,636.0L1528.1,635.6L1530.1,635.3L1532.1,635.0L1534.1,634.6L1536.1,634.3L1538.1,634.0L1540.1,633.6L1542.1,633.3L1544.1,633.0L1546.1,632.6L1548.1,632.3L1550.1,631.9L1552.1,631.6L1554.1,631.3L1556.1,630.9L1558.1,630.6L1560.1,630.3L1562.1,629.9L1564.1,629.6L1566.1,629.3L1568.1,629.0L1570.1,628.6L1572.1,628.3L1574.1,628.0L1576.1,627.6L1578.1,627.3L1580.1,627.0L1582.1,626.6L1584.1,626.3L1586.1,626.0L1588.1,625.7L1590.1,625.3L1592.1,625.0L1594.1,624.7L1596.1,624.4L1598.1,624.0L1600.1,623.7L1602.1,623.4L1604.1,623.1L1606.1,622.8L1608.1,622.4L1610.1,622.1L1612.1,621.8L1614.1,621.5L1616.1,621.2L1618.1,620.8L1620.1,620.5L1622.1,620.2L1624.1,619.9L1626.1,619.6L1628.1,619.3L1630.1,619.0L1632.1,618.6L1634.1,618.3L1636.1,618.0L1638.1,617.7L1640.1,617.4L1642.1,617.1L1644.1,616.8L1646.1,616.5L1647.1,616.3" fill="none" stroke="#e0aa26" stroke-width="4" stroke-dasharray="17 4.5 8.5 4.5"/>
<path d="M960.1,703.8L962.1,703.8L964.1,703.8L966.1,703.8L968.1,703.8L970.1,703.8L972.1,703.8L974.1,703.8L976.1,703.8L978.1,703.8L980.1,703.8L982.1,703.8L984.1,703.8L986.1,703.8L988.1,703.8L990.1,703.8L992.1,703.8L994.1,703.8L996.1,703.8L998.1,703.8L1000.1,703.8L1002.1,703.8L1004.1,703.8L1006.1,703.8L1008.1,703.7L1010.1,703.7L1012.1,703.7L1014.1,703.6L1016.1,703.6L1018.1,703.5L1020.1,703.5L1022.1,703.4L1024.1,703.4L1026.1,703.3L1028.1,703.2L1030.1,703.2L1032.1,703.1L1034.1,703.1L1036.1,703.1L1038.1,703.0L1040.1,703.0L1042.1,702.9L1044.1,702.9L1046.1,702.9L1048.1,702.9L1050.1,702.8L1052.1,702.8L1054.1,702.8L1056.1,702.8L1058.1,702.7L1060.1,702.7L1062.1,702.7L1064.1,702.6L1066.1,702.6L1068.1,702.5L1070.1,702.5L1072.1,702.4L1074.1,702.4L1076.1,702.3L1078.1,702.3L1080.1,702.3L1082.1,702.2L1084.1,702.2L1086.1,702.1L1088.1,702.1L1090.1,702.0L1092.1,702.0L1094.1,701.9L1096.1,701.8L1098.1,701.8L1100.1,701.7L1102.1,701.7L1104.1,701.6L1106.1,701.6L1108.1,701.5L1110.1,701.4L1112.1,701.4L1114.1,701.3L1116.1,701.3L1118.1,701.2L1120.1,701.1L1122.1,701.1L1124.1,701.0L1126.1,700.9L1128.1,700.9L1130.1,700.8L1132.1,700.7L1134.1,700.7L1136.1,700.6L1138.1,700.5L1140.1,700.5L1142.1,700.4L1144.1,700.3L1146.1,700.3L1148.1,700.2L1150.1,700.1L1152.1,700.0L1154.1,700.0L1156.1,699.9L1158.1,699.8L1160.1,699.7L1162.1,699.7L1164.1,699.6L1166.1,699.5L1168.1,699.4L1170.1,699.3L1172.1,699.3L1174.1,699.2L1176.1,699.1L1178.1,699.0L1180.1,698.9L1182.1,698.9L1184.1,698.8L1186.1,698.7L1188.1,698.6L1190.1,698.5L1192.1,698.4L1194.1,698.3L1196.1,698.3L1198.1,698.2L1200.1,698.1L1202.1,698.0L1204.1,697.9L1206.1,697.8L1208.1,697.7L1210.1,697.6L1212.1,697.5L1214.1,697.4L1216.1,697.3L1218.1,697.3L1220.1,697.2L1222.1,697.1L1224.1,697.0L1226.1,696.9L1228.1,696.8L1230.1,696.7L1232.1,696.6L1234.1,696.5L1236.1,696.4L1238.1,696.3L1240.1,696.2L1242.1,696.1L1244.1,696.0L1246.1,695.9L1248.1,695.8L1250.1,695.7L1252.1,695.6L1254.1,695.5L1256.1,695.4L1258.1,695.3L1260.1,695.2L1262.1,695.1L1264.1,695.0L1266.1,694.9L1268.1,694.8L1270.1,694.7L1272.1,694.6L1274.1,694.4L1276.1,694.3L1278.1,694.2L1280.1,694.1L1282.1,694.0L1284.1,693.9L1286.1,693.8L1288.1,693.7L1290.1,693.6L1292.1,693.5L1294.1,693.4L1296.1,693.3L1298.1,693.1L1300.1,693.0L1302.1,692.9L1304.1,692.8L1306.1,692.7L1308.1,692.6L1310.1,692.5L1312.1,692.4L1314.1,692.2L1316.1,692.1L1318.1,692.0L1320.1,691.9L1322.1,691.8L1324.1,691.7L1326.1,691.6L1328.1,691.4L1330.1,691.3L1332.1,691.2L1334.1,691.1L1336.1,691.0L1338.1,690.9L1340.1,690.7L1342.1,690.6L1344.1,690.5L1346.1,690.4L1348.1,690.3L1350.1,690.2L1352.1,690.0L1354.1,689.9L1356.1,689.8L1358.1,689.7L1360.1,689.6L1362.1,689.4L1364.1,689.3L1366.1,689.2L1368.1,689.1L1370.1,689.0L1372.1,688.8L1374.1,688.7L1376.1,688.6L1378.1,688.5L1380.1,688.3L1382.1,688.2L1384.1,688.1L1386.1,688.0L1388.1,687.9L1390.1,687.7L1392.1,687.6L1394.1,687.5L1396.1,687.4L1398.1,687.2L1400.1,687.1L1402.1,687.0L1404.1,686.9L1406.1,686.8L1408.1,686.6L1410.1,686.5L1412.1,686.4L1414.1,686.3L1416.1,686.1L1418.1,686.0L1420.1,685.9L1422.1,685.8L1424.1,685.6L1426.1,685.5L1428.1,685.4L1430.1,685.3L1432.1,685.1L1434.1,685.0L1436.1,684.9L1438.1,684.8L1440.1,684.6L1442.1,684.5L1444.1,684.4L1446.1,684.3L1448.1,684.1L1450.1,684.0L1452.1,683.9L1454.1,683.8L1456.1,683.6L1458.1,683.5L1460.1,683.4L1462.1,683.3L1464.1,683.1L1466.1,683.0L1468.1,682.9L1470.1,682.8L1472.1,682.6L1474.1,682.5L1476.1,682.4L1478.1,682.3L1480.1,682.1L1482.1,682.0L1484.1,681.9L1486.1,681.8L1488.1,681.6L1490.1,681.5L1492.1,681.4L1494.1,681.3L1496.1,681.1L1498.1,681.0L1500.1,680.9L1502.1,680.8L1504.1,680.6L1506.1,680.5L1508.1,680.4L1510.1,680.3L1512.1,680.1L1514.1,680.0L1516.1,679.9L1518.1,679.8L1520.1,679.7L1522.1,679.5L1524.1,679.4L1526.1,679.3L1528.1,679.2L1530.1,679.0L1532.1,678.9L1534.1,678.8L1536.1,678.7L1538.1,678.6L1540.1,678.4L1542.1,678.3L1544.1,678.2L1546.1,678.1L1548.1,677.9L1550.1,677.8L1552.1,677.7L1554.1,677.6L1556.1,677.5L1558.1,677.3L1560.1,677.2L1562.1,677.1L1564.1,677.0L1566.1,676.9L1568.1,676.7L1570.1,676.6L1572.1,676.5L1574.1,676.4L1576.1,676.3L1578.1,676.1L1580.1,676.0L1582.1,675.9L1584.1,675.8L1586.1,675.7L1588.1,675.6L1590.1,675.4L1592.1,675.3L1594.1,675.2L1596.1,675.1L1598.1,675.0L1600.1,674.9L1602.1,674.8L1604.1,674.6L1606.1,674.5L1608.1,674.4L1610.1,674.3L1612.1,674.2L1614.1,674.1L1616.1,674.0L1618.1,673.8L1620.1,673.7L1622.1,673.6L1624.1,673.5L1626.1,673.4L1628.1,673.3L1630.1,673.2L1632.1,673.1L1634.1,673.0L1636.1,672.8L1638.1,672.7L1640.1,672.6L1642.1,672.5L1644.1,672.4L1646.1,672.3L1647.1,672.3" fill="none" stroke="#742d8c" stroke-width="4" stroke-dasharray="17 4.5 8.5 4.5"/>
<path d="M982.8,709.4L984.8,709.4L986.8,709.4L988.8,709.3L990.8,709.3L992.8,709.2L994.8,709.1L996.8,709.0L998.8,708.9L1000.8,708.8L1002.8,708.7L1004.8,708.5L1006.8,708.2L1008.8,707.7L1010.8,707.0L1012.8,706.1L1014.8,705.2L1016.8,704.2L1018.8,703.2L1020.8,702.0L1022.8,700.7L1024.8,699.2L1026.8,697.8L1028.8,696.3L1030.8,694.9L1032.8,693.6L1034.8,692.3L1036.8,691.1L1038.8,690.0L1040.8,688.8L1042.8,687.7L1044.8,686.6L1046.8,685.5L1048.8,684.4L1050.8,683.2L1052.8,682.0L1054.8,680.8L1056.8,679.6L1058.8,678.3L1060.8,677.0L1062.8,675.7L1064.8,674.3L1066.8,672.9L1068.8,671.6L1070.8,670.1L1072.8,668.7L1074.8,667.3L1076.8,665.8L1078.8,664.4L1080.8,662.9L1082.8,661.4L1084.8,659.9L1086.8,658.3L1088.8,656.8L1090.8,655.2L1092.8,653.7L1094.8,652.1L1096.8,650.5L1098.8,648.9L1100.8,647.3L1102.8,645.7L1104.8,644.0L1106.8,642.4L1108.8,640.7L1110.8,639.0L1112.8,637.3L1114.8,635.6L1116.8,633.9L1118.8,632.2L1120.8,630.4L1122.8,628.7L1124.8,626.9L1126.8,625.2L1128.8,623.4L1130.8,621.6L1132.8,619.8L1134.8,618.0L1136.8,616.2L1138.8,614.4L1140.8,612.5L1142.8,610.7L1144.8,608.8L1146.8,607.0L1148.8,605.1L1150.8,603.2L1152.8,601.3L1154.8,599.4L1156.8,597.5L1158.8,595.6L1160.8,593.7L1162.8,591.7L1164.8,589.8L1166.8,587.9L1168.8,586.0L1170.8,584.0L1172.8,582.1L1174.8,580.2L1176.8,578.3L1178.8,576.4L1180.8,574.5L1182.8,572.6L1184.8,570.7L1186.8,568.9L1188.8,567.0L1190.8,565.2L1192.8,563.4L1194.8,561.6L1196.8,559.8L1198.8,558.0L1200.8,556.3L1202.8,554.6L1204.8,552.9L1206.8,551.2L1208.8,549.6L1210.8,548.0L1212.8,546.4L1214.8,544.8L1216.8,543.3L1218.8,541.8L1220.8,540.2L1222.8,538.8L1224.8,537.3L1226.8,535.8L1228.8,534.4L1230.8,533.0L1232.8,531.6L1234.8,530.2L1236.8,528.9L1238.8,527.5L1240.8,526.2L1242.8,524.9L1244.8,523.6L1246.8,522.3L1248.8,521.0L1250.8,519.7L1252.8,518.4L1254.8,517.2L1256.8,516.0L1258.8,514.7L1260.8,513.5L1262.8,512.3L1264.8,511.1L1266.8,509.9L1268.8,508.7L1270.8,507.5L1272.8,506.3L1274.8,505.1L1276.8,503.9L1278.8,502.8L1280.8,501.6L1282.8,500.4L1284.8,499.3L1286.8,498.1L1288.8,497.0L1290.8,495.8L1292.8,494.7L1294.8,493.6L1296.8,492.5L1298.8,491.3L1300.8,490.2L1302.8,489.1L1304.8,488.0L1306.8,486.9L1308.8,485.8L1310.8,484.7L1312.8,483.6L1314.8,482.5L1316.8,481.5L1318.8,480.4L1320.8,479.3L1322.8,478.3L1324.8,477.2L1326.8,476.1L1328.8,475.1L1330.8,474.0L1332.8,473.0L1334.8,472.0L1336.8,470.9L1338.8,469.9L1340.8,468.9L1342.8,467.8L1344.8,466.8L1346.8,465.8L1348.8,464.8L1350.8,463.8L1352.8,462.8L1354.8,461.8L1356.8,460.8L1358.8,459.8L1360.8,458.8L1362.8,457.9L1364.8,456.9L1366.8,455.9L1368.8,455.0L1370.8,454.0L1372.8,453.0L1374.8,452.1L1376.8,451.1L1378.8,450.2L1380.8,449.2L1382.8,448.3L1384.8,447.4L1386.8,446.4L1388.8,445.5L1390.8,444.6L1392.8,443.6L1394.8,442.7L1396.8,441.8L1398.8,440.9L1400.8,440.0L1402.8,439.1L1404.8,438.2L1406.8,437.3L1408.8,436.4L1410.8,435.5L1412.8,434.6L1414.8,433.7L1416.8,432.9L1418.8,432.0L1420.8,431.1L1422.8,430.2L1424.8,429.4L1426.8,428.5L1428.8,427.7L1430.8,426.8L1432.8,425.9L1434.8,425.1L1436.8,424.2L1438.8,423.4L1440.8,422.6L1442.8,421.7L1444.8,420.9L1446.8,420.1L1448.8,419.2L1450.8,418.4L1452.8,417.6L1454.8,416.8L1456.8,415.9L1458.8,415.1L1460.8,414.3L1462.8,413.5L1464.8,412.7L1466.8,411.9L1468.8,411.1L1470.8,410.3L1472.8,409.5L1474.8,408.7L1476.8,407.9L1478.8,407.1L1480.8,406.3L1482.8,405.6L1484.8,404.8L1486.8,404.0L1488.8,403.2L1490.8,402.5L1492.8,401.7L1494.8,400.9L1496.8,400.2L1498.8,399.4L1500.8,398.6L1502.8,397.9L1504.8,397.1L1506.8,396.4L1508.8,395.6L1510.8,394.9L1512.8,394.1L1514.8,393.4L1516.8,392.6L1518.8,391.9L1520.8,391.1L1522.8,390.4L1524.8,389.7L1526.8,388.9L1528.8,388.2L1530.8,387.5L1532.8,386.7L1534.8,386.0L1536.8,385.3L1538.8,384.6L1540.8,383.9L1542.8,383.1L1544.8,382.4L1546.8,381.7L1548.8,381.0L1550.8,380.3L1552.8,379.6L1554.8,378.9L1556.8,378.2L1558.8,377.4L1560.8,376.7L1562.8,376.0L1564.8,375.3L1566.8,374.6L1568.8,373.9L1570.8,373.2L1572.8,372.6L1574.8,371.9L1576.8,371.2L1578.8,370.5L1580.8,369.8L1582.8,369.1L1584.8,368.4L1586.8,367.7L1588.8,367.0L1590.8,366.4L1592.8,365.7L1594.8,365.0L1596.8,364.3L1598.8,363.6L1600.8,363.0L1602.8,362.3L1604.8,361.6L1606.8,360.9L1608.8,360.3L1610.8,359.6L1612.8,358.9L1614.8,358.2L1616.8,357.6L1618.8,356.9L1620.8,356.2L1622.8,355.6L1624.8,354.9L1626.8,354.2L1628.8,353.6L1630.8,352.9L1632.8,352.2L1634.8,351.6L1636.8,350.9L1638.8,350.3L1640.8,349.6L1642.8,348.9L1644.8,348.3L1646.8,347.6L1647.1,347.5" fill="none" stroke="#000" stroke-width="4" stroke-linejoin="round"/>
<path d="M982.8,709.4L984.8,709.4L986.8,709.4L988.8,709.3L990.8,709.3L992.8,709.3L994.8,709.2L996.8,709.1L998.8,709.0L1000.8,709.0L1002.8,708.9L1004.8,708.8L1006.8,708.7L1008.8,708.6L1010.8,708.4L1012.8,708.3L1014.8,708.0L1016.8,707.7L1018.8,707.4L1020.8,707.0L1022.8,706.6L1024.8,706.2L1026.8,705.6L1028.8,705.1L1030.8,704.6L1032.8,704.1L1034.8,703.8L1036.8,703.4L1038.8,703.1L1040.8,702.9L1042.8,702.6L1044.8,702.4L1046.8,702.2L1048.8,702.0L1050.8,701.7L1052.8,701.5L1054.8,701.3L1056.8,701.1L1058.8,700.9L1060.8,700.6L1062.8,700.4L1064.8,700.1L1066.8,699.8L1068.8,699.4L1070.8,699.1L1072.8,698.7L1074.8,698.3L1076.8,697.9L1078.8,697.4L1080.8,697.0L1082.8,696.5L1084.8,696.1L1086.8,695.6L1088.8,695.0L1090.8,694.5L1092.8,694.0L1094.8,693.4L1096.8,692.8L1098.8,692.3L1100.8,691.7L1102.8,691.1L1104.8,690.4L1106.8,689.8L1108.8,689.1L1110.8,688.5L1112.8,687.8L1114.8,687.1L1116.8,686.4L1118.8,685.7L1120.8,684.9L1122.8,684.2L1124.8,683.4L1126.8,682.7L1128.8,681.9L1130.8,681.1L1132.8,680.3L1134.8,679.5L1136.8,678.7L1138.8,677.9L1140.8,677.0L1142.8,676.2L1144.8,675.3L1146.8,674.4L1148.8,673.6L1150.8,672.7L1152.8,671.8L1154.8,670.9L1156.8,670.0L1158.8,669.0L1160.8,668.1L1162.8,667.2L1164.8,666.2L1166.8,665.3L1168.8,664.3L1170.8,663.3L1172.8,662.4L1174.8,661.4L1176.8,660.4L1178.8,659.4L1180.8,658.4L1182.8,657.4L1184.8,656.4L1186.8,655.3L1188.8,654.3L1190.8,653.3L1192.8,652.3L1194.8,651.2L1196.8,650.2L1198.8,649.1L1200.8,648.1L1202.8,647.0L1204.8,646.0L1206.8,644.9L1208.8,643.8L1210.8,642.8L1212.8,641.7L1214.8,640.6L1216.8,639.5L1218.8,638.5L1220.8,637.4L1222.8,636.3L1224.8,635.2L1226.8,634.1L1228.8,633.0L1230.8,631.9L1232.8,630.9L1234.8,629.8L1236.8,628.7L1238.8,627.6L1240.8,626.5L1242.8,625.4L1244.8,624.3L1246.8,623.2L1248.8,622.1L1250.8,621.0L1252.8,619.9L1254.8,618.9L1256.8,617.8L1258.8,616.7L1260.8,615.6L1262.8,614.5L1264.8,613.4L1266.8,612.4L1268.8,611.3L1270.8,610.2L1272.8,609.1L1274.8,608.1L1276.8,607.0L1278.8,606.0L1280.8,604.9L1282.8,603.9L1284.8,602.8L1286.8,601.8L1288.8,600.7L1290.8,599.7L1292.8,598.7L1294.8,597.7L1296.8,596.6L1298.8,595.6L1300.8,594.6L1302.8,593.6L1304.8,592.6L1306.8,591.6L1308.8,590.6L1310.8,589.7L1312.8,588.7L1314.8,587.7L1316.8,586.7L1318.8,585.8L1320.8,584.8L1322.8,583.9L1324.8,582.9L1326.8,582.0L1328.8,581.0L1330.8,580.1L1332.8,579.2L1334.8,578.2L1336.8,577.3L1338.8,576.4L1340.8,575.5L1342.8,574.6L1344.8,573.7L1346.8,572.8L1348.8,571.9L1350.8,571.0L1352.8,570.1L1354.8,569.3L1356.8,568.4L1358.8,567.5L1360.8,566.6L1362.8,565.8L1364.8,564.9L1366.8,564.1L1368.8,563.2L1370.8,562.4L1372.8,561.5L1374.8,560.7L1376.8,559.9L1378.8,559.1L1380.8,558.2L1382.8,557.4L1384.8,556.6L1386.8,555.8L1388.8,555.0L1390.8,554.2L1392.8,553.4L1394.8,552.6L1396.8,551.8L1398.8,551.1L1400.8,550.3L1402.8,549.5L1404.8,548.7L1406.8,548.0L1408.8,547.2L1410.8,546.5L1412.8,545.7L1414.8,545.0L1416.8,544.2L1418.8,543.5L1420.8,542.8L1422.8,542.0L1424.8,541.3L1426.8,540.6L1428.8,539.9L1430.8,539.1L1432.8,538.4L1434.8,537.7L1436.8,537.0L1438.8,536.3L1440.8,535.6L1442.8,535.0L1444.8,534.3L1446.8,533.6L1448.8,532.9L1450.8,532.2L1452.8,531.6L1454.8,530.9L1456.8,530.2L1458.8,529.6L1460.8,528.9L1462.8,528.3L1464.8,527.6L1466.8,527.0L1468.8,526.4L1470.8,525.7L1472.8,525.1L1474.8,524.5L1476.8,523.9L1478.8,523.2L1480.8,522.6L1482.8,522.0L1484.8,521.4L1486.8,520.8L1488.8,520.2L1490.8,519.6L1492.8,519.0L1494.8,518.4L1496.8,517.9L1498.8,517.3L1500.8,516.7L1502.8,516.1L1504.8,515.6L1506.8,515.0L1508.8,514.4L1510.8,513.9L1512.8,513.3L1514.8,512.7L1516.8,512.2L1518.8,511.6L1520.8,511.1L1522.8,510.5L1524.8,510.0L1526.8,509.4L1528.8,508.9L1530.8,508.3L1532.8,507.8L1534.8,507.2L1536.8,506.7L1538.8,506.2L1540.8,505.6L1542.8,505.1L1544.8,504.5L1546.8,504.0L1548.8,503.4L1550.8,502.9L1552.8,502.4L1554.8,501.8L1556.8,501.3L1558.8,500.7L1560.8,500.2L1562.8,499.6L1564.8,499.1L1566.8,498.6L1568.8,498.0L1570.8,497.5L1572.8,496.9L1574.8,496.3L1576.8,495.8L1578.8,495.2L1580.8,494.7L1582.8,494.1L1584.8,493.5L1586.8,493.0L1588.8,492.4L1590.8,491.8L1592.8,491.2L1594.8,490.7L1596.8,490.1L1598.8,489.5L1600.8,488.9L1602.8,488.3L1604.8,487.7L1606.8,487.1L1608.8,486.5L1610.8,485.9L1612.8,485.3L1614.8,484.7L1616.8,484.0L1618.8,483.4L1620.8,482.8L1622.8,482.1L1624.8,481.5L1626.8,480.8L1628.8,480.2L1630.8,479.5L1632.8,478.9L1634.8,478.2L1636.8,477.5L1638.8,476.8L1640.8,476.1L1642.8,475.4L1644.8,474.7L1646.8,474.0L1647.1,473.9" fill="none" stroke="#000" stroke-width="4" stroke-linejoin="round"/>
<path d="M982.8,709.4L984.8,709.4L986.8,709.4L988.8,709.3L990.8,709.3L992.8,709.3L994.8,709.2L996.8,709.2L998.8,709.1L1000.8,709.1L1002.8,709.0L1004.8,709.0L1006.8,708.9L1008.8,708.8L1010.8,708.8L1012.8,708.7L1014.8,708.6L1016.8,708.5L1018.8,708.4L1020.8,708.3L1022.8,708.2L1024.8,708.1L1026.8,707.8L1028.8,707.5L1030.8,707.2L1032.8,707.0L1034.8,706.7L1036.8,706.5L1038.8,706.3L1040.8,706.1L1042.8,705.9L1044.8,705.7L1046.8,705.6L1048.8,705.4L1050.8,705.3L1052.8,705.2L1054.8,705.1L1056.8,705.0L1058.8,704.9L1060.8,704.8L1062.8,704.7L1064.8,704.7L1066.8,704.6L1068.8,704.6L1070.8,704.6L1072.8,704.5L1074.8,704.5L1076.8,704.4L1078.8,704.4L1080.8,704.3L1082.8,704.2L1084.8,704.2L1086.8,704.1L1088.8,704.0L1090.8,703.9L1092.8,703.9L1094.8,703.8L1096.8,703.7L1098.8,703.6L1100.8,703.5L1102.8,703.3L1104.8,703.2L1106.8,703.1L1108.8,703.0L1110.8,702.9L1112.8,702.7L1114.8,702.6L1116.8,702.5L1118.8,702.3L1120.8,702.2L1122.8,702.0L1124.8,701.9L1126.8,701.7L1128.8,701.6L1130.8,701.4L1132.8,701.2L1134.8,701.0L1136.8,700.9L1138.8,700.7L1140.8,700.5L1142.8,700.3L1144.8,700.1L1146.8,699.9L1148.8,699.7L1150.8,699.5L1152.8,699.3L1154.8,699.1L1156.8,698.9L1158.8,698.7L1160.8,698.5L1162.8,698.2L1164.8,698.0L1166.8,697.8L1168.8,697.5L1170.8,697.3L1172.8,697.1L1174.8,696.8L1176.8,696.6L1178.8,696.3L1180.8,696.1L1182.8,695.8L1184.8,695.5L1186.8,695.3L1188.8,695.0L1190.8,694.7L1192.8,694.5L1194.8,694.2L1196.8,693.9L1198.8,693.6L1200.8,693.3L1202.8,693.1L1204.8,692.8L1206.8,692.5L1208.8,692.2L1210.8,691.9L1212.8,691.6L1214.8,691.3L1216.8,691.0L1218.8,690.7L1220.8,690.3L1222.8,690.0L1224.8,689.7L1226.8,689.4L1228.8,689.1L1230.8,688.7L1232.8,688.4L1234.8,688.1L1236.8,687.7L1238.8,687.4L1240.8,687.1L1242.8,686.7L1244.8,686.4L1246.8,686.0L1248.8,685.7L1250.8,685.4L1252.8,685.0L1254.8,684.6L1256.8,684.3L1258.8,683.9L1260.8,683.6L1262.8,683.2L1264.8,682.8L1266.8,682.5L1268.8,682.1L1270.8,681.7L1272.8,681.4L1274.8,681.0L1276.8,680.6L1278.8,680.2L1280.8,679.9L1282.8,679.5L1284.8,679.1L1286.8,678.7L1288.8,678.3L1290.8,677.9L1292.8,677.5L1294.8,677.1L1296.8,676.7L1298.8,676.3L1300.8,675.9L1302.8,675.5L1304.8,675.1L1306.8,674.7L1308.8,674.3L1310.8,673.9L1312.8,673.5L1314.8,673.1L1316.8,672.7L1318.8,672.3L1320.8,671.9L1322.8,671.5L1324.8,671.1L1326.8,670.6L1328.8,670.2L1330.8,669.8L1332.8,669.4L1334.8,669.0L1336.8,668.5L1338.8,668.1L1340.8,667.7L1342.8,667.3L1344.8,666.8L1346.8,666.4L1348.8,666.0L1350.8,665.6L1352.8,665.1L1354.8,664.7L1356.8,664.3L1358.8,663.8L1360.8,663.4L1362.8,663.0L1364.8,662.5L1366.8,662.1L1368.8,661.7L1370.8,661.2L1372.8,660.8L1374.8,660.3L1376.8,659.9L1378.8,659.5L1380.8,659.0L1382.8,658.6L1384.8,658.1L1386.8,657.7L1388.8,657.3L1390.8,656.8L1392.8,656.4L1394.8,655.9L1396.8,655.5L1398.8,655.1L1400.8,654.6L1402.8,654.2L1404.8,653.7L1406.8,653.3L1408.8,652.8L1410.8,652.4L1412.8,651.9L1414.8,651.5L1416.8,651.1L1418.8,650.6L1420.8,650.2L1422.8,649.7L1424.8,649.3L1426.8,648.8L1428.8,648.4L1430.8,647.9L1432.8,647.5L1434.8,647.0L1436.8,646.6L1438.8,646.2L1440.8,645.7L1442.8,645.3L1444.8,644.8L1446.8,644.4L1448.8,643.9L1450.8,643.5L1452.8,643.1L1454.8,642.6L1456.8,642.2L1458.8,641.7L1460.8,641.3L1462.8,640.9L1464.8,640.4L1466.8,640.0L1468.8,639.6L1470.8,639.1L1472.8,638.7L1474.8,638.2L1476.8,637.8L1478.8,637.4L1480.8,636.9L1482.8,636.5L1484.8,636.1L1486.8,635.7L1488.8,635.2L1490.8,634.8L1492.8,634.4L1494.8,633.9L1496.8,633.5L1498.8,633.1L1500.8,632.7L1502.8,632.3L1504.8,631.8L1506.8,631.4L1508.8,631.0L1510.8,630.6L1512.8,630.2L1514.8,629.7L1516.8,629.3L1518.8,628.9L1520.8,628.5L1522.8,628.1L1524.8,627.7L1526.8,627.3L1528.8,626.9L1530.8,626.5L1532.8,626.1L1534.8,625.7L1536.8,625.3L1538.8,624.9L1540.8,624.5L1542.8,624.1L1544.8,623.7L1546.8,623.3L1548.8,622.9L1550.8,622.5L1552.8,622.1L1554.8,621.8L1556.8,621.4L1558.8,621.0L1560.8,620.6L1562.8,620.3L1564.8,619.9L1566.8,619.5L1568.8,619.1L1570.8,618.8L1572.8,618.4L1574.8,618.0L1576.8,617.7L1578.8,617.3L1580.8,617.0L1582.8,616.6L1584.8,616.2L1586.8,615.9L1588.8,615.5L1590.8,615.2L1592.8,614.9L1594.8,614.5L1596.8,614.2L1598.8,613.8L1600.8,613.5L1602.8,613.2L1604.8,612.8L1606.8,612.5L1608.8,612.2L1610.8,611.9L1612.8,611.5L1614.8,611.2L1616.8,610.9L1618.8,610.6L1620.8,610.3L1622.8,610.0L1624.8,609.7L1626.8,609.4L1628.8,609.1L1630.8,608.8L1632.8,608.5L1634.8,608.2L1636.8,607.9L1638.8,607.6L1640.8,607.4L1642.8,607.1L1644.8,606.8L1646.8,606.5L1647.1,606.5" fill="none" stroke="#000" stroke-width="4" stroke-linejoin="round"/>
<path d="M982.8,709.4L984.8,709.4L986.8,709.3L988.8,709.3L990.8,709.3L992.8,709.2L994.8,709.2L996.8,709.1L998.8,709.1L1000.8,709.1L1002.8,709.0L1004.8,708.9L1006.8,708.9L1008.8,708.8L1010.8,708.8L1012.8,708.7L1014.8,708.6L1016.8,708.6L1018.8,708.5L1020.8,708.4L1022.8,708.3L1024.8,708.2L1026.8,708.1L1028.8,708.0L1030.8,707.8L1032.8,707.7L1034.8,707.6L1036.8,707.5L1038.8,707.4L1040.8,707.3L1042.8,707.2L1044.8,707.1L1046.8,707.0L1048.8,706.9L1050.8,706.8L1052.8,706.8L1054.8,706.7L1056.8,706.7L1058.8,706.7L1060.8,706.7L1062.8,706.7L1064.8,706.7L1066.8,706.7L1068.8,706.6L1070.8,706.6L1072.8,706.6L1074.8,706.5L1076.8,706.5L1078.8,706.5L1080.8,706.4L1082.8,706.4L1084.8,706.4L1086.8,706.3L1088.8,706.3L1090.8,706.3L1092.8,706.2L1094.8,706.2L1096.8,706.2L1098.8,706.1L1100.8,706.1L1102.8,706.0L1104.8,706.0L1106.8,706.0L1108.8,705.9L1110.8,705.9L1112.8,705.8L1114.8,705.8L1116.8,705.7L1118.8,705.7L1120.8,705.6L1122.8,705.6L1124.8,705.6L1126.8,705.5L1128.8,705.5L1130.8,705.4L1132.8,705.4L1134.8,705.3L1136.8,705.3L1138.8,705.2L1140.8,705.1L1142.8,705.1L1144.8,705.0L1146.8,705.0L1148.8,704.9L1150.8,704.9L1152.8,704.8L1154.8,704.8L1156.8,704.7L1158.8,704.6L1160.8,704.6L1162.8,704.5L1164.8,704.5L1166.8,704.4L1168.8,704.3L1170.8,704.3L1172.8,704.2L1174.8,704.1L1176.8,704.1L1178.8,704.0L1180.8,703.9L1182.8,703.9L1184.8,703.8L1186.8,703.7L1188.8,703.6L1190.8,703.6L1192.8,703.5L1194.8,703.4L1196.8,703.4L1198.8,703.3L1200.8,703.2L1202.8,703.1L1204.8,703.1L1206.8,703.0L1208.8,702.9L1210.8,702.8L1212.8,702.7L1214.8,702.7L1216.8,702.6L1218.8,702.5L1220.8,702.4L1222.8,702.3L1224.8,702.2L1226.8,702.2L1228.8,702.1L1230.8,702.0L1232.8,701.9L1234.8,701.8L1236.8,701.7L1238.8,701.6L1240.8,701.5L1242.8,701.4L1244.8,701.3L1246.8,701.3L1248.8,701.2L1250.8,701.1L1252.8,701.0L1254.8,700.9L1256.8,700.8L1258.8,700.7L1260.8,700.6L1262.8,700.5L1264.8,700.4L1266.8,700.3L1268.8,700.2L1270.8,700.1L1272.8,700.0L1274.8,699.9L1276.8,699.8L1278.8,699.6L1280.8,699.5L1282.8,699.4L1284.8,699.3L1286.8,699.2L1288.8,699.1L1290.8,699.0L1292.8,698.9L1294.8,698.8L1296.8,698.6L1298.8,698.5L1300.8,698.4L1302.8,698.3L1304.8,698.2L1306.8,698.1L1308.8,697.9L1310.8,697.8L1312.8,697.7L1314.8,697.6L1316.8,697.5L1318.8,697.3L1320.8,697.2L1322.8,697.1L1324.8,697.0L1326.8,696.8L1328.8,696.7L1330.8,696.6L1332.8,696.4L1334.8,696.3L1336.8,696.2L1338.8,696.0L1340.8,695.9L1342.8,695.8L1344.8,695.6L1346.8,695.5L1348.8,695.4L1350.8,695.2L1352.8,695.1L1354.8,694.9L1356.8,694.8L1358.8,694.7L1360.8,694.5L1362.8,694.4L1364.8,694.2L1366.8,694.1L1368.8,693.9L1370.8,693.8L1372.8,693.6L1374.8,693.5L1376.8,693.3L1378.8,693.2L1380.8,693.0L1382.8,692.9L1384.8,692.7L1386.8,692.6L1388.8,692.4L1390.8,692.3L1392.8,692.1L1394.8,692.0L1396.8,691.8L1398.8,691.6L1400.8,691.5L1402.8,691.3L1404.8,691.1L1406.8,691.0L1408.8,690.8L1410.8,690.7L1412.8,690.5L1414.8,690.3L1416.8,690.1L1418.8,690.0L1420.8,689.8L1422.8,689.6L1424.8,689.5L1426.8,689.3L1428.8,689.1L1430.8,688.9L1432.8,688.8L1434.8,688.6L1436.8,688.4L1438.8,688.2L1440.8,688.0L1442.8,687.9L1444.8,687.7L1446.8,687.5L1448.8,687.3L1450.8,687.1L1452.8,686.9L1454.8,686.8L1456.8,686.6L1458.8,686.4L1460.8,686.2L1462.8,686.0L1464.8,685.8L1466.8,685.6L1468.8,685.4L1470.8,685.2L1472.8,685.0L1474.8,684.8L1476.8,684.6L1478.8,684.4L1480.8,684.2L1482.8,684.0L1484.8,683.8L1486.8,683.6L1488.8,683.4L1490.8,683.2L1492.8,683.0L1494.8,682.8L1496.8,682.6L1498.8,682.4L1500.8,682.2L1502.8,682.0L1504.8,681.7L1506.8,681.5L1508.8,681.3L1510.8,681.1L1512.8,680.9L1514.8,680.7L1516.8,680.4L1518.8,680.2L1520.8,680.0L1522.8,679.8L1524.8,679.6L1526.8,679.3L1528.8,679.1L1530.8,678.9L1532.8,678.7L1534.8,678.4L1536.8,678.2L1538.8,678.0L1540.8,677.7L1542.8,677.5L1544.8,677.3L1546.8,677.0L1548.8,676.8L1550.8,676.6L1552.8,676.3L1554.8,676.1L1556.8,675.8L1558.8,675.6L1560.8,675.4L1562.8,675.1L1564.8,674.9L1566.8,674.6L1568.8,674.4L1570.8,674.1L1572.8,673.9L1574.8,673.6L1576.8,673.4L1578.8,673.1L1580.8,672.9L1582.8,672.6L1584.8,672.4L1586.8,672.1L1588.8,671.9L1590.8,671.6L1592.8,671.3L1594.8,671.1L1596.8,670.8L1598.8,670.5L1600.8,670.3L1602.8,670.0L1604.8,669.7L1606.8,669.5L1608.8,669.2L1610.8,668.9L1612.8,668.7L1614.8,668.4L1616.8,668.1L1618.8,667.8L1620.8,667.6L1622.8,667.3L1624.8,667.0L1626.8,666.7L1628.8,666.5L1630.8,666.2L1632.8,665.9L1634.8,665.6L1636.8,665.3L1638.8,665.0L1640.8,664.8L1642.8,664.5L1644.8,664.2L1646.8,663.9L1647.1,663.8" fill="none" stroke="#000" stroke-width="4" stroke-linejoin="round"/>
</g>
<rect x="960.1" y="57.35" width="686.97" height="685.75" fill="none" stroke="#555" stroke-width="1.6"/>
<path d="M960.10,743.1V736.30M960.10,57.35V64.15M1181.70,743.1V736.30M1181.70,57.35V64.15M1403.31,743.1V736.30M1403.31,57.35V64.15M1624.91,743.1V736.30M1624.91,57.35V64.15M960.1,743.10H966.90M1647.07,743.10H1640.27M960.1,657.38H966.90M1647.07,657.38H1640.27M960.1,571.66H966.90M1647.07,571.66H1640.27M960.1,485.94H966.90M1647.07,485.94H1640.27M960.1,400.23H966.90M1647.07,400.23H1640.27M960.1,314.51H966.90M1647.07,314.51H1640.27M960.1,228.79H966.90M1647.07,228.79H1640.27M960.1,143.07H966.90M1647.07,143.07H1640.27M960.1,57.35H966.90M1647.07,57.35H1640.27" stroke="#555" stroke-width="1.6" fill="none"/>
<text class="tl" x="960.10" y="785.5" text-anchor="middle">0</text>
<text class="tl" x="1181.70" y="785.5" text-anchor="middle">20</text>
<text class="tl" x="1403.31" y="785.5" text-anchor="middle">40</text>
<text class="tl" x="1624.91" y="785.5" text-anchor="middle">60</text>
<text class="tl" x="949.20" y="752.60" text-anchor="end">35</text>
<text class="tl" x="949.20" y="666.88" text-anchor="end">40</text>
<text class="tl" x="949.20" y="581.16" text-anchor="end">45</text>
<text class="tl" x="949.20" y="495.44" text-anchor="end">50</text>
<text class="tl" x="949.20" y="409.73" text-anchor="end">55</text>
<text class="tl" x="949.20" y="324.01" text-anchor="end">60</text>
<text class="tl" x="949.20" y="238.29" text-anchor="end">65</text>
<text class="tl" x="949.20" y="152.57" text-anchor="end">70</text>
<text class="tl" x="949.20" y="66.85" text-anchor="end">75</text>
<text class="lab" x="1301.88" y="832" text-anchor="middle">Time [s]</text>
<text class="ttl" x="453.5" y="36" text-anchor="middle">Array 1</text>
<text class="ttl" x="1304.5" y="36" text-anchor="middle">Array 2</text>
<text class="lab" transform="translate(47.6,384.2) rotate(-90)" text-anchor="middle" textLength="300.5" lengthAdjust="spacingAndGlyphs">Temperature [°C]</text>
<text class="lab" transform="translate(890.5,380.4) rotate(-90)" text-anchor="middle" textLength="300.5" lengthAdjust="spacingAndGlyphs">Temperature [°C]</text>
<text class="pl" x="2" y="32.6">A</text>
<text class="pl" x="858.5" y="36.9">B</text>
</svg>
</body></html>
